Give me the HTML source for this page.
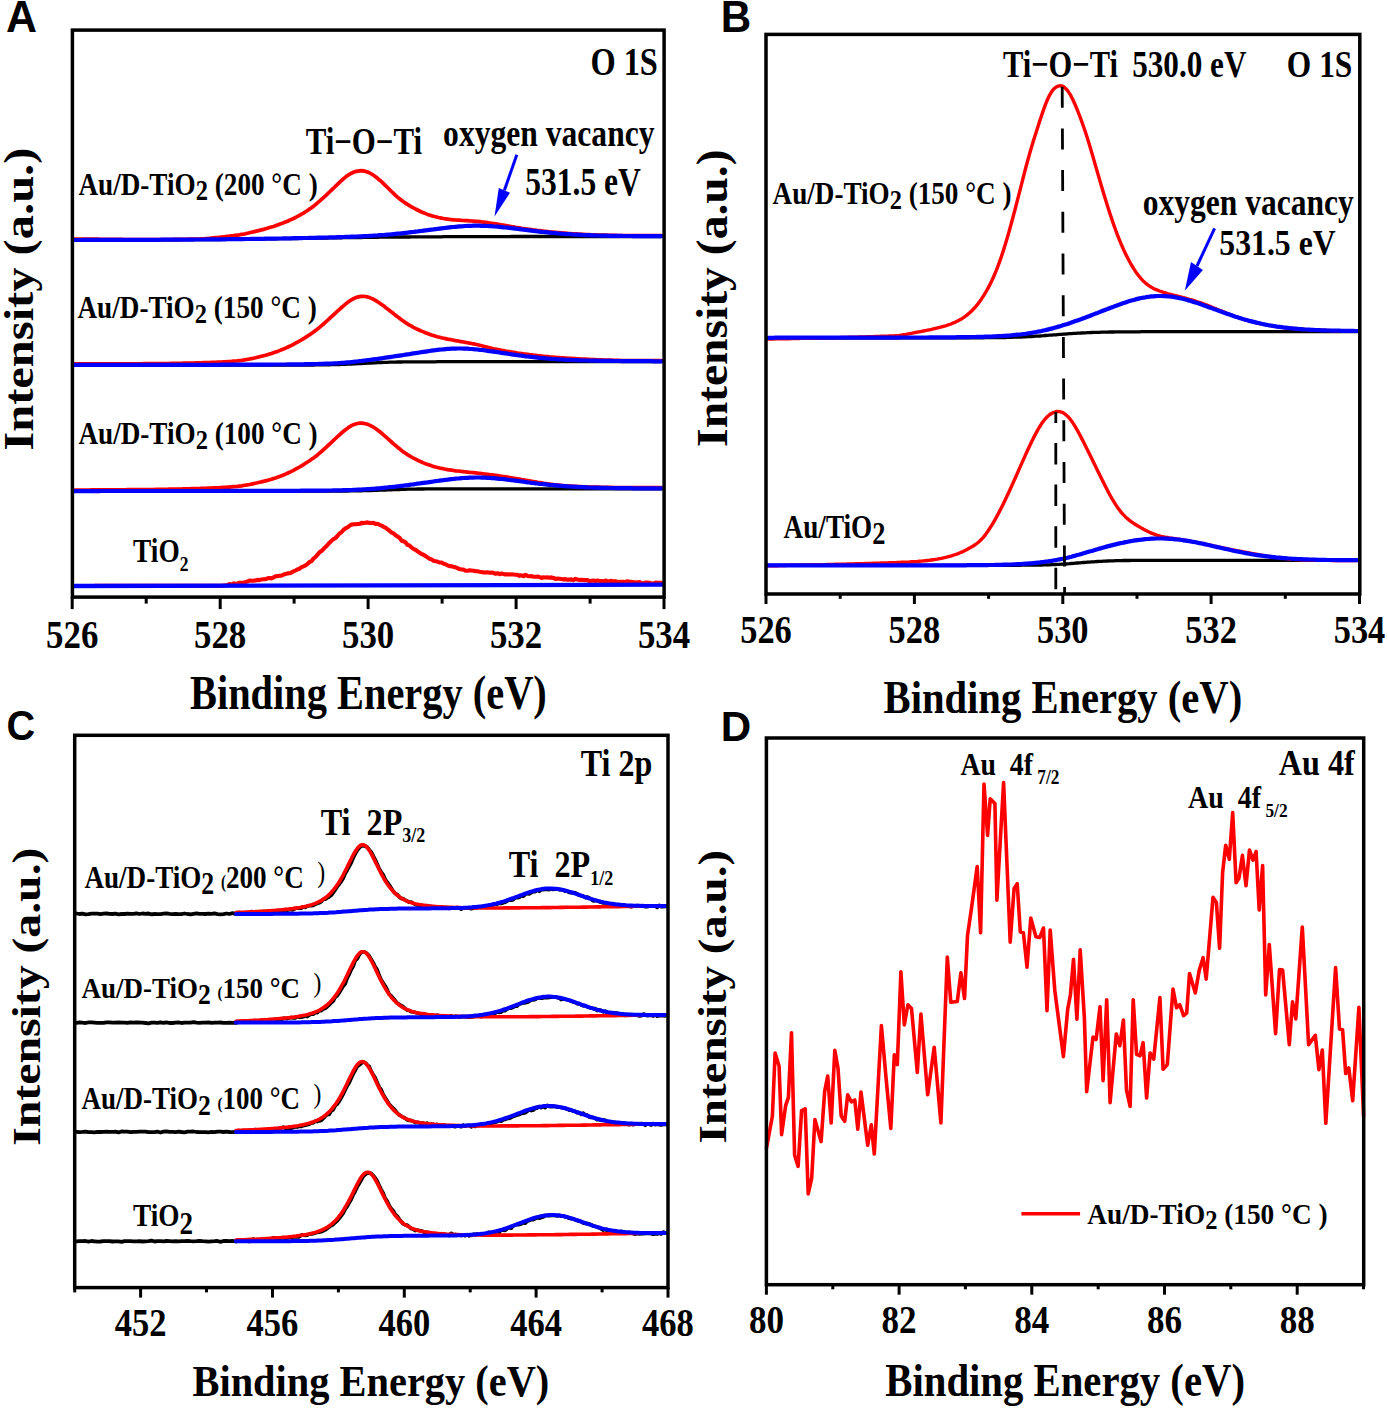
<!DOCTYPE html>
<html><head><meta charset="utf-8"><title>XPS spectra</title><style>html,body{margin:0;padding:0;background:#fff;width:1388px;height:1411px;overflow:hidden}svg{display:block}</style></head><body><svg width="1388" height="1411" viewBox="0 0 1388 1411"><rect width="1388" height="1411" fill="#fff"/><path d="M73.5 240.0 L75.5 240.0 L77.5 240.0 L79.5 240.0 L81.5 240.0 L83.5 240.0 L85.5 240.0 L87.5 240.0 L89.5 240.0 L91.5 240.0 L93.5 240.0 L95.5 240.0 L97.5 240.0 L99.5 240.0 L101.5 240.0 L103.5 240.0 L105.5 240.0 L107.5 240.0 L109.5 240.0 L111.5 240.0 L113.5 240.0 L115.5 240.0 L117.5 240.0 L119.5 240.0 L121.5 240.0 L123.5 240.0 L125.5 239.9 L127.5 239.9 L129.5 239.9 L131.5 239.9 L133.5 239.9 L135.5 239.9 L137.5 239.9 L139.5 239.9 L141.5 239.9 L143.5 239.9 L145.5 239.9 L147.5 239.9 L149.5 239.9 L151.5 239.9 L153.5 239.9 L155.5 239.9 L157.5 239.9 L159.5 239.8 L161.5 239.8 L163.5 239.8 L165.5 239.8 L167.5 239.8 L169.5 239.8 L171.5 239.8 L173.5 239.8 L175.5 239.8 L177.5 239.8 L179.5 239.8 L181.5 239.7 L183.5 239.7 L185.5 239.7 L187.5 239.7 L189.5 239.7 L191.5 239.7 L193.5 239.7 L195.5 239.7 L197.5 239.7 L199.5 239.6 L201.5 239.6 L203.5 239.6 L205.5 239.6 L207.5 239.6 L209.5 239.6 L211.5 239.5 L213.5 239.5 L215.5 239.5 L217.5 239.5 L219.5 239.5 L221.5 239.5 L223.5 239.4 L225.5 239.4 L227.5 239.4 L229.5 239.4 L231.5 239.4 L233.5 239.3 L235.5 239.3 L237.5 239.3 L239.5 239.3 L241.5 239.3 L243.5 239.2 L245.5 239.2 L247.5 239.2 L249.5 239.2 L251.5 239.1 L253.5 239.1 L255.5 239.1 L257.5 239.1 L259.5 239.0 L261.5 239.0 L263.5 239.0 L265.5 238.9 L267.5 238.9 L269.5 238.9 L271.5 238.9 L273.5 238.8 L275.5 238.8 L277.5 238.8 L279.5 238.7 L281.5 238.7 L283.5 238.7 L285.5 238.6 L287.5 238.6 L289.5 238.6 L291.5 238.6 L293.5 238.5 L295.5 238.5 L297.5 238.5 L299.5 238.4 L301.5 238.4 L303.5 238.4 L305.5 238.3 L307.5 238.3 L309.5 238.3 L311.5 238.2 L313.5 238.2 L315.5 238.2 L317.5 238.1 L319.5 238.1 L321.5 238.1 L323.5 238.0 L325.5 238.0 L327.5 238.0 L329.5 237.9 L331.5 237.9 L333.5 237.9 L335.5 237.8 L337.5 237.8 L339.5 237.8 L341.5 237.8 L343.5 237.7 L345.5 237.7 L347.5 237.7 L349.5 237.6 L351.5 237.6 L353.5 237.6 L355.5 237.5 L357.5 237.5 L359.5 237.5 L361.5 237.5 L363.5 237.4 L365.5 237.4 L367.5 237.4 L369.5 237.4 L371.5 237.3 L373.5 237.3 L375.5 237.3 L377.5 237.3 L379.5 237.2 L381.5 237.2 L383.5 237.2 L385.5 237.2 L387.5 237.2 L389.5 237.1 L391.5 237.1 L393.5 237.1 L395.5 237.1 L397.5 237.1 L399.5 237.0 L401.5 237.0 L403.5 237.0 L405.5 237.0 L407.5 237.0 L409.5 237.0 L411.5 236.9 L413.5 236.9 L415.5 236.9 L417.5 236.9 L419.5 236.9 L421.5 236.9 L423.5 236.9 L425.5 236.8 L427.5 236.8 L429.5 236.8 L431.5 236.8 L433.5 236.8 L435.5 236.8 L437.5 236.8 L439.5 236.8 L441.5 236.8 L443.5 236.7 L445.5 236.7 L447.5 236.7 L449.5 236.7 L451.5 236.7 L453.5 236.7 L455.5 236.7 L457.5 236.7 L459.5 236.7 L461.5 236.7 L463.5 236.7 L465.5 236.7 L467.5 236.7 L469.5 236.6 L471.5 236.6 L473.5 236.6 L475.5 236.6 L477.5 236.6 L479.5 236.6 L481.5 236.6 L483.5 236.6 L485.5 236.6 L487.5 236.6 L489.5 236.6 L491.5 236.6 L493.5 236.6 L495.5 236.6 L497.5 236.6 L499.5 236.6 L501.5 236.6 L503.5 236.6 L505.5 236.6 L507.5 236.6 L509.5 236.6 L511.5 236.5 L513.5 236.5 L515.5 236.5 L517.5 236.5 L519.5 236.5 L521.5 236.5 L523.5 236.5 L525.5 236.5 L527.5 236.5 L529.5 236.5 L531.5 236.5 L533.5 236.5 L535.5 236.5 L537.5 236.5 L539.5 236.5 L541.5 236.5 L543.5 236.5 L545.5 236.5 L547.5 236.5 L549.5 236.5 L551.5 236.5 L553.5 236.5 L555.5 236.5 L557.5 236.5 L559.5 236.5 L561.5 236.5 L563.5 236.5 L565.5 236.5 L567.5 236.5 L569.5 236.5 L571.5 236.5 L573.5 236.5 L575.5 236.5 L577.5 236.5 L579.5 236.5 L581.5 236.5 L583.5 236.5 L585.5 236.5 L587.5 236.5 L589.5 236.5 L591.5 236.5 L593.5 236.5 L595.5 236.5 L597.5 236.5 L599.5 236.5 L601.5 236.5 L603.5 236.5 L605.5 236.5 L607.5 236.5 L609.5 236.5 L611.5 236.5 L613.5 236.5 L615.5 236.5 L617.5 236.5 L619.5 236.5 L621.5 236.5 L623.5 236.5 L625.5 236.5 L627.5 236.5 L629.5 236.5 L631.5 236.5 L633.5 236.5 L635.5 236.5 L637.5 236.5 L639.5 236.5 L641.5 236.5 L643.5 236.5 L645.5 236.5 L647.5 236.5 L649.5 236.5 L651.5 236.5 L653.5 236.5 L655.5 236.5 L657.5 236.5 L659.5 236.5 L661.5 236.5" fill="none" stroke="#000000" stroke-width="3.30" stroke-linejoin="round" stroke-linecap="round"/><path d="M73.5 239.0 L75.5 239.0 L77.5 239.0 L79.5 239.1 L81.5 239.1 L83.5 239.1 L85.5 239.1 L87.5 239.1 L89.5 239.2 L91.5 239.2 L93.5 239.2 L95.5 239.2 L97.5 239.2 L99.5 239.3 L101.5 239.3 L103.5 239.3 L105.5 239.3 L107.5 239.3 L109.5 239.4 L111.5 239.4 L113.5 239.4 L115.5 239.4 L117.5 239.4 L119.5 239.4 L121.5 239.4 L123.5 239.5 L125.5 239.5 L127.5 239.5 L129.5 239.5 L131.5 239.5 L133.5 239.5 L135.5 239.5 L137.5 239.5 L139.5 239.5 L141.5 239.5 L143.5 239.5 L145.5 239.5 L147.5 239.5 L149.5 239.5 L151.5 239.5 L153.5 239.5 L155.5 239.5 L157.5 239.5 L159.5 239.5 L161.5 239.5 L163.5 239.5 L165.5 239.5 L167.5 239.5 L169.5 239.5 L171.5 239.5 L173.5 239.4 L175.5 239.4 L177.5 239.4 L179.5 239.4 L181.5 239.4 L183.5 239.3 L185.5 239.3 L187.5 239.3 L189.5 239.2 L191.5 239.2 L193.5 239.2 L195.5 239.1 L197.5 239.1 L199.5 239.0 L201.5 238.9 L203.5 238.8 L205.5 238.6 L207.5 238.5 L209.5 238.3 L211.5 238.1 L213.5 237.9 L215.5 237.7 L217.5 237.5 L219.5 237.3 L221.5 237.1 L223.5 236.9 L225.5 236.7 L227.5 236.4 L229.5 236.2 L231.5 235.9 L233.5 235.7 L235.5 235.4 L237.5 235.1 L239.5 234.8 L241.5 234.4 L243.5 234.1 L245.5 233.7 L247.5 233.2 L249.5 232.8 L251.5 232.3 L253.5 231.9 L255.5 231.4 L257.5 230.9 L259.5 230.4 L261.5 229.9 L263.5 229.4 L265.5 228.8 L267.5 228.2 L269.5 227.6 L271.5 227.0 L273.5 226.4 L275.5 225.7 L277.5 225.0 L279.5 224.3 L281.5 223.6 L283.5 222.8 L285.5 222.0 L287.5 221.2 L289.5 220.3 L291.5 219.4 L293.5 218.5 L295.5 217.5 L297.5 216.4 L299.5 215.4 L301.5 214.2 L303.5 213.1 L305.5 211.8 L307.5 210.5 L309.5 209.1 L311.5 207.7 L313.5 206.2 L315.5 204.6 L317.5 202.9 L319.5 201.2 L321.5 199.4 L323.5 197.6 L325.5 195.8 L327.5 193.9 L329.5 192.0 L331.5 190.1 L333.5 188.2 L335.5 186.2 L337.5 184.3 L339.5 182.4 L341.5 180.5 L343.5 178.7 L345.5 177.1 L347.5 175.6 L349.5 174.3 L351.5 173.2 L353.5 172.3 L355.5 171.6 L357.5 171.1 L359.5 170.8 L361.5 170.7 L363.5 170.9 L365.5 171.4 L367.5 172.0 L369.5 172.9 L371.5 174.0 L373.5 175.3 L375.5 176.7 L377.5 178.3 L379.5 180.0 L381.5 181.7 L383.5 183.6 L385.5 185.6 L387.5 187.5 L389.5 189.5 L391.5 191.5 L393.5 193.4 L395.5 195.3 L397.5 197.1 L399.5 198.7 L401.5 200.3 L403.5 201.8 L405.5 203.1 L407.5 204.4 L409.5 205.6 L411.5 206.8 L413.5 207.9 L415.5 209.0 L417.5 210.0 L419.5 211.0 L421.5 212.0 L423.5 212.8 L425.5 213.6 L427.5 214.4 L429.5 215.1 L431.5 215.7 L433.5 216.3 L435.5 216.8 L437.5 217.3 L439.5 217.7 L441.5 218.1 L443.5 218.5 L445.5 218.8 L447.5 219.1 L449.5 219.4 L451.5 219.6 L453.5 219.8 L455.5 220.0 L457.5 220.1 L459.5 220.2 L461.5 220.4 L463.5 220.5 L465.5 220.6 L467.5 220.7 L469.5 220.8 L471.5 221.0 L473.5 221.1 L475.5 221.3 L477.5 221.4 L479.5 221.6 L481.5 221.9 L483.5 222.1 L485.5 222.4 L487.5 222.7 L489.5 223.0 L491.5 223.3 L493.5 223.6 L495.5 223.9 L497.5 224.2 L499.5 224.5 L501.5 224.9 L503.5 225.2 L505.5 225.5 L507.5 225.9 L509.5 226.2 L511.5 226.6 L513.5 226.9 L515.5 227.3 L517.5 227.6 L519.5 227.9 L521.5 228.3 L523.5 228.6 L525.5 228.9 L527.5 229.2 L529.5 229.4 L531.5 229.7 L533.5 230.0 L535.5 230.2 L537.5 230.5 L539.5 230.7 L541.5 230.9 L543.5 231.2 L545.5 231.4 L547.5 231.6 L549.5 231.8 L551.5 232.0 L553.5 232.2 L555.5 232.4 L557.5 232.6 L559.5 232.7 L561.5 232.9 L563.5 233.1 L565.5 233.2 L567.5 233.4 L569.5 233.5 L571.5 233.7 L573.5 233.8 L575.5 233.9 L577.5 234.1 L579.5 234.2 L581.5 234.3 L583.5 234.4 L585.5 234.5 L587.5 234.6 L589.5 234.7 L591.5 234.8 L593.5 234.8 L595.5 234.9 L597.5 235.0 L599.5 235.0 L601.5 235.1 L603.5 235.2 L605.5 235.2 L607.5 235.3 L609.5 235.3 L611.5 235.3 L613.5 235.4 L615.5 235.4 L617.5 235.5 L619.5 235.5 L621.5 235.5 L623.5 235.5 L625.5 235.5 L627.5 235.5 L629.5 235.5 L631.5 235.5 L633.5 235.6 L635.5 235.6 L637.5 235.6 L639.5 235.6 L641.5 235.6 L643.5 235.6 L645.5 235.5 L647.5 235.5 L649.5 235.5 L651.5 235.5 L653.5 235.5 L655.5 235.5 L657.5 235.5 L659.5 235.5 L661.5 235.5" fill="none" stroke="#ff0000" stroke-width="3.70" stroke-linejoin="round" stroke-linecap="round"/><path d="M73.5 240.0 L75.5 240.0 L77.5 240.0 L79.5 240.0 L81.5 240.0 L83.5 239.9 L85.5 239.9 L87.5 239.9 L89.5 239.9 L91.5 239.9 L93.5 239.9 L95.5 239.9 L97.5 239.9 L99.5 239.9 L101.5 239.9 L103.5 239.9 L105.5 239.9 L107.5 239.9 L109.5 239.9 L111.5 239.9 L113.5 239.9 L115.5 239.9 L117.5 239.9 L119.5 239.9 L121.5 239.9 L123.5 239.9 L125.5 239.9 L127.5 239.9 L129.5 239.9 L131.5 239.9 L133.5 239.8 L135.5 239.8 L137.5 239.8 L139.5 239.8 L141.5 239.8 L143.5 239.8 L145.5 239.8 L147.5 239.8 L149.5 239.8 L151.5 239.8 L153.5 239.8 L155.5 239.8 L157.5 239.8 L159.5 239.8 L161.5 239.7 L163.5 239.7 L165.5 239.7 L167.5 239.7 L169.5 239.7 L171.5 239.7 L173.5 239.7 L175.5 239.7 L177.5 239.7 L179.5 239.6 L181.5 239.6 L183.5 239.6 L185.5 239.6 L187.5 239.6 L189.5 239.6 L191.5 239.6 L193.5 239.6 L195.5 239.5 L197.5 239.5 L199.5 239.5 L201.5 239.5 L203.5 239.5 L205.5 239.5 L207.5 239.4 L209.5 239.4 L211.5 239.4 L213.5 239.4 L215.5 239.4 L217.5 239.4 L219.5 239.3 L221.5 239.3 L223.5 239.3 L225.5 239.3 L227.5 239.2 L229.5 239.2 L231.5 239.2 L233.5 239.2 L235.5 239.2 L237.5 239.1 L239.5 239.1 L241.5 239.1 L243.5 239.1 L245.5 239.0 L247.5 239.0 L249.5 239.0 L251.5 238.9 L253.5 238.9 L255.5 238.9 L257.5 238.9 L259.5 238.8 L261.5 238.8 L263.5 238.8 L265.5 238.7 L267.5 238.7 L269.5 238.7 L271.5 238.6 L273.5 238.6 L275.5 238.6 L277.5 238.5 L279.5 238.5 L281.5 238.5 L283.5 238.4 L285.5 238.4 L287.5 238.4 L289.5 238.3 L291.5 238.3 L293.5 238.2 L295.5 238.2 L297.5 238.2 L299.5 238.1 L301.5 238.1 L303.5 238.0 L305.5 238.0 L307.5 238.0 L309.5 237.9 L311.5 237.9 L313.5 237.8 L315.5 237.8 L317.5 237.7 L319.5 237.7 L321.5 237.6 L323.5 237.6 L325.5 237.5 L327.5 237.5 L329.5 237.4 L331.5 237.4 L333.5 237.3 L335.5 237.3 L337.5 237.2 L339.5 237.1 L341.5 237.1 L343.5 237.0 L345.5 236.9 L347.5 236.9 L349.5 236.8 L351.5 236.7 L353.5 236.6 L355.5 236.6 L357.5 236.5 L359.5 236.4 L361.5 236.3 L363.5 236.2 L365.5 236.1 L367.5 236.0 L369.5 235.9 L371.5 235.8 L373.5 235.6 L375.5 235.5 L377.5 235.4 L379.5 235.2 L381.5 235.1 L383.5 235.0 L385.5 234.8 L387.5 234.6 L389.5 234.5 L391.5 234.3 L393.5 234.1 L395.5 233.9 L397.5 233.7 L399.5 233.5 L401.5 233.3 L403.5 233.1 L405.5 232.9 L407.5 232.7 L409.5 232.4 L411.5 232.2 L413.5 232.0 L415.5 231.7 L417.5 231.5 L419.5 231.2 L421.5 231.0 L423.5 230.7 L425.5 230.4 L427.5 230.2 L429.5 229.9 L431.5 229.6 L433.5 229.4 L435.5 229.1 L437.5 228.9 L439.5 228.6 L441.5 228.3 L443.5 228.1 L445.5 227.9 L447.5 227.6 L449.5 227.4 L451.5 227.2 L453.5 227.0 L455.5 226.8 L457.5 226.6 L459.5 226.4 L461.5 226.3 L463.5 226.2 L465.5 226.0 L467.5 225.9 L469.5 225.9 L471.5 225.8 L473.5 225.7 L475.5 225.7 L477.5 225.7 L479.5 225.7 L481.5 225.8 L483.5 225.8 L485.5 225.9 L487.5 226.0 L489.5 226.1 L491.5 226.2 L493.5 226.4 L495.5 226.5 L497.5 226.7 L499.5 226.9 L501.5 227.1 L503.5 227.3 L505.5 227.5 L507.5 227.7 L509.5 227.9 L511.5 228.2 L513.5 228.4 L515.5 228.6 L517.5 228.9 L519.5 229.1 L521.5 229.4 L523.5 229.6 L525.5 229.9 L527.5 230.1 L529.5 230.4 L531.5 230.6 L533.5 230.9 L535.5 231.1 L537.5 231.3 L539.5 231.6 L541.5 231.8 L543.5 232.0 L545.5 232.2 L547.5 232.4 L549.5 232.6 L551.5 232.8 L553.5 233.0 L555.5 233.2 L557.5 233.4 L559.5 233.5 L561.5 233.7 L563.5 233.8 L565.5 234.0 L567.5 234.1 L569.5 234.2 L571.5 234.4 L573.5 234.5 L575.5 234.6 L577.5 234.7 L579.5 234.8 L581.5 234.9 L583.5 235.0 L585.5 235.1 L587.5 235.2 L589.5 235.2 L591.5 235.3 L593.5 235.4 L595.5 235.4 L597.5 235.5 L599.5 235.5 L601.5 235.6 L603.5 235.6 L605.5 235.7 L607.5 235.7 L609.5 235.8 L611.5 235.8 L613.5 235.8 L615.5 235.9 L617.5 235.9 L619.5 235.9 L621.5 235.9 L623.5 236.0 L625.5 236.0 L627.5 236.0 L629.5 236.0 L631.5 236.0 L633.5 236.1 L635.5 236.1 L637.5 236.1 L639.5 236.1 L641.5 236.1 L643.5 236.1 L645.5 236.1 L647.5 236.1 L649.5 236.1 L651.5 236.2 L653.5 236.2 L655.5 236.2 L657.5 236.2 L659.5 236.2 L661.5 236.2" fill="none" stroke="#0000ff" stroke-width="4.20" stroke-linejoin="round" stroke-linecap="round"/><path d="M73.5 365.1 L75.5 365.1 L77.5 365.1 L79.5 365.1 L81.5 365.1 L83.5 365.1 L85.5 365.1 L87.5 365.1 L89.5 365.1 L91.5 365.1 L93.5 365.1 L95.5 365.1 L97.5 365.1 L99.5 365.1 L101.5 365.1 L103.5 365.1 L105.5 365.1 L107.5 365.1 L109.5 365.1 L111.5 365.1 L113.5 365.1 L115.5 365.1 L117.5 365.1 L119.5 365.1 L121.5 365.1 L123.5 365.1 L125.5 365.1 L127.5 365.1 L129.5 365.1 L131.5 365.1 L133.5 365.1 L135.5 365.1 L137.5 365.1 L139.5 365.1 L141.5 365.1 L143.5 365.1 L145.5 365.1 L147.5 365.1 L149.5 365.1 L151.5 365.1 L153.5 365.1 L155.5 365.1 L157.5 365.1 L159.5 365.1 L161.5 365.1 L163.5 365.1 L165.5 365.1 L167.5 365.1 L169.5 365.1 L171.5 365.1 L173.5 365.1 L175.5 365.1 L177.5 365.1 L179.5 365.1 L181.5 365.1 L183.5 365.1 L185.5 365.1 L187.5 365.1 L189.5 365.1 L191.5 365.1 L193.5 365.1 L195.5 365.1 L197.5 365.1 L199.5 365.1 L201.5 365.1 L203.5 365.1 L205.5 365.1 L207.5 365.1 L209.5 365.1 L211.5 365.1 L213.5 365.1 L215.5 365.1 L217.5 365.1 L219.5 365.1 L221.5 365.1 L223.5 365.1 L225.5 365.1 L227.5 365.1 L229.5 365.1 L231.5 365.1 L233.5 365.1 L235.5 365.1 L237.5 365.1 L239.5 365.1 L241.5 365.1 L243.5 365.1 L245.5 365.1 L247.5 365.1 L249.5 365.1 L251.5 365.1 L253.5 365.1 L255.5 365.1 L257.5 365.1 L259.5 365.1 L261.5 365.1 L263.5 365.1 L265.5 365.1 L267.5 365.1 L269.5 365.1 L271.5 365.1 L273.5 365.1 L275.5 365.1 L277.5 365.1 L279.5 365.1 L281.5 365.1 L283.5 365.0 L285.5 365.0 L287.5 365.0 L289.5 365.0 L291.5 365.0 L293.5 365.0 L295.5 365.0 L297.5 365.0 L299.5 365.0 L301.5 365.0 L303.5 365.0 L305.5 365.0 L307.5 365.0 L309.5 365.0 L311.5 365.0 L313.5 365.0 L315.5 364.9 L317.5 364.9 L319.5 364.9 L321.5 364.9 L323.5 364.9 L325.5 364.8 L327.5 364.8 L329.5 364.8 L331.5 364.7 L333.5 364.7 L335.5 364.6 L337.5 364.6 L339.5 364.5 L341.5 364.4 L343.5 364.4 L345.5 364.3 L347.5 364.2 L349.5 364.1 L351.5 364.0 L353.5 363.9 L355.5 363.8 L357.5 363.7 L359.5 363.6 L361.5 363.5 L363.5 363.4 L365.5 363.3 L367.5 363.2 L369.5 363.1 L371.5 363.0 L373.5 362.9 L375.5 362.8 L377.5 362.7 L379.5 362.6 L381.5 362.5 L383.5 362.4 L385.5 362.4 L387.5 362.3 L389.5 362.2 L391.5 362.2 L393.5 362.1 L395.5 362.1 L397.5 362.0 L399.5 362.0 L401.5 362.0 L403.5 361.9 L405.5 361.9 L407.5 361.9 L409.5 361.9 L411.5 361.9 L413.5 361.8 L415.5 361.8 L417.5 361.8 L419.5 361.8 L421.5 361.8 L423.5 361.8 L425.5 361.8 L427.5 361.8 L429.5 361.8 L431.5 361.8 L433.5 361.8 L435.5 361.8 L437.5 361.7 L439.5 361.7 L441.5 361.7 L443.5 361.7 L445.5 361.7 L447.5 361.7 L449.5 361.7 L451.5 361.7 L453.5 361.7 L455.5 361.7 L457.5 361.7 L459.5 361.7 L461.5 361.7 L463.5 361.7 L465.5 361.7 L467.5 361.7 L469.5 361.7 L471.5 361.7 L473.5 361.7 L475.5 361.7 L477.5 361.7 L479.5 361.7 L481.5 361.7 L483.5 361.7 L485.5 361.7 L487.5 361.7 L489.5 361.7 L491.5 361.7 L493.5 361.7 L495.5 361.7 L497.5 361.7 L499.5 361.7 L501.5 361.7 L503.5 361.7 L505.5 361.7 L507.5 361.7 L509.5 361.7 L511.5 361.7 L513.5 361.7 L515.5 361.7 L517.5 361.7 L519.5 361.7 L521.5 361.7 L523.5 361.7 L525.5 361.7 L527.5 361.7 L529.5 361.7 L531.5 361.7 L533.5 361.7 L535.5 361.7 L537.5 361.7 L539.5 361.7 L541.5 361.7 L543.5 361.7 L545.5 361.7 L547.5 361.7 L549.5 361.7 L551.5 361.7 L553.5 361.7 L555.5 361.7 L557.5 361.7 L559.5 361.7 L561.5 361.7 L563.5 361.7 L565.5 361.7 L567.5 361.7 L569.5 361.7 L571.5 361.7 L573.5 361.7 L575.5 361.7 L577.5 361.7 L579.5 361.7 L581.5 361.7 L583.5 361.7 L585.5 361.7 L587.5 361.7 L589.5 361.7 L591.5 361.7 L593.5 361.7 L595.5 361.7 L597.5 361.7 L599.5 361.7 L601.5 361.7 L603.5 361.7 L605.5 361.7 L607.5 361.7 L609.5 361.7 L611.5 361.7 L613.5 361.7 L615.5 361.7 L617.5 361.7 L619.5 361.7 L621.5 361.7 L623.5 361.7 L625.5 361.7 L627.5 361.7 L629.5 361.7 L631.5 361.7 L633.5 361.7 L635.5 361.7 L637.5 361.7 L639.5 361.7 L641.5 361.7 L643.5 361.7 L645.5 361.7 L647.5 361.7 L649.5 361.7 L651.5 361.7 L653.5 361.7 L655.5 361.7 L657.5 361.7 L659.5 361.7 L661.5 361.7" fill="none" stroke="#000000" stroke-width="3.30" stroke-linejoin="round" stroke-linecap="round"/><path d="M73.5 364.0 L75.5 363.9 L77.5 363.9 L79.5 363.9 L81.5 363.9 L83.5 363.9 L85.5 363.9 L87.5 363.9 L89.5 363.9 L91.5 363.9 L93.5 363.9 L95.5 363.9 L97.5 363.9 L99.5 363.9 L101.5 363.9 L103.5 363.9 L105.5 363.9 L107.5 363.9 L109.5 363.9 L111.5 363.9 L113.5 363.9 L115.5 363.9 L117.5 363.9 L119.5 363.9 L121.5 363.9 L123.5 363.9 L125.5 363.9 L127.5 363.8 L129.5 363.8 L131.5 363.8 L133.5 363.8 L135.5 363.8 L137.5 363.8 L139.5 363.8 L141.5 363.8 L143.5 363.7 L145.5 363.7 L147.5 363.7 L149.5 363.7 L151.5 363.7 L153.5 363.7 L155.5 363.6 L157.5 363.6 L159.5 363.6 L161.5 363.6 L163.5 363.5 L165.5 363.5 L167.5 363.5 L169.5 363.5 L171.5 363.4 L173.5 363.4 L175.5 363.4 L177.5 363.3 L179.5 363.3 L181.5 363.3 L183.5 363.2 L185.5 363.2 L187.5 363.1 L189.5 363.1 L191.5 363.0 L193.5 363.0 L195.5 362.9 L197.5 362.9 L199.5 362.8 L201.5 362.8 L203.5 362.7 L205.5 362.6 L207.5 362.6 L209.5 362.5 L211.5 362.4 L213.5 362.3 L215.5 362.3 L217.5 362.2 L219.5 362.1 L221.5 362.0 L223.5 361.9 L225.5 361.8 L227.5 361.6 L229.5 361.5 L231.5 361.4 L233.5 361.2 L235.5 361.0 L237.5 360.9 L239.5 360.6 L241.5 360.4 L243.5 360.1 L245.5 359.7 L247.5 359.4 L249.5 359.0 L251.5 358.6 L253.5 358.2 L255.5 357.8 L257.5 357.3 L259.5 356.8 L261.5 356.3 L263.5 355.8 L265.5 355.3 L267.5 354.7 L269.5 354.1 L271.5 353.5 L273.5 352.8 L275.5 352.1 L277.5 351.4 L279.5 350.6 L281.5 349.8 L283.5 349.0 L285.5 348.1 L287.5 347.2 L289.5 346.3 L291.5 345.3 L293.5 344.3 L295.5 343.2 L297.5 342.2 L299.5 341.0 L301.5 339.9 L303.5 338.7 L305.5 337.4 L307.5 336.1 L309.5 334.8 L311.5 333.4 L313.5 332.0 L315.5 330.5 L317.5 329.0 L319.5 327.4 L321.5 325.7 L323.5 324.0 L325.5 322.2 L327.5 320.4 L329.5 318.5 L331.5 316.7 L333.5 314.8 L335.5 313.0 L337.5 311.1 L339.5 309.3 L341.5 307.5 L343.5 305.8 L345.5 304.1 L347.5 302.5 L349.5 301.1 L351.5 299.8 L353.5 298.7 L355.5 297.8 L357.5 297.1 L359.5 296.6 L361.5 296.4 L363.5 296.3 L365.5 296.5 L367.5 296.9 L369.5 297.6 L371.5 298.4 L373.5 299.3 L375.5 300.4 L377.5 301.7 L379.5 303.0 L381.5 304.4 L383.5 305.8 L385.5 307.4 L387.5 308.9 L389.5 310.5 L391.5 312.1 L393.5 313.6 L395.5 315.2 L397.5 316.8 L399.5 318.3 L401.5 319.8 L403.5 321.2 L405.5 322.6 L407.5 323.9 L409.5 325.1 L411.5 326.2 L413.5 327.3 L415.5 328.3 L417.5 329.3 L419.5 330.2 L421.5 331.1 L423.5 331.9 L425.5 332.7 L427.5 333.5 L429.5 334.3 L431.5 335.0 L433.5 335.6 L435.5 336.2 L437.5 336.8 L439.5 337.3 L441.5 337.8 L443.5 338.2 L445.5 338.6 L447.5 339.1 L449.5 339.4 L451.5 339.8 L453.5 340.2 L455.5 340.6 L457.5 340.9 L459.5 341.3 L461.5 341.6 L463.5 342.0 L465.5 342.4 L467.5 342.7 L469.5 343.1 L471.5 343.5 L473.5 343.9 L475.5 344.3 L477.5 344.7 L479.5 345.2 L481.5 345.7 L483.5 346.2 L485.5 346.7 L487.5 347.2 L489.5 347.7 L491.5 348.2 L493.5 348.7 L495.5 349.1 L497.5 349.5 L499.5 349.9 L501.5 350.3 L503.5 350.6 L505.5 351.0 L507.5 351.3 L509.5 351.7 L511.5 352.0 L513.5 352.3 L515.5 352.6 L517.5 353.0 L519.5 353.3 L521.5 353.6 L523.5 353.9 L525.5 354.1 L527.5 354.4 L529.5 354.7 L531.5 354.9 L533.5 355.2 L535.5 355.4 L537.5 355.7 L539.5 355.9 L541.5 356.1 L543.5 356.3 L545.5 356.5 L547.5 356.7 L549.5 356.9 L551.5 357.0 L553.5 357.2 L555.5 357.3 L557.5 357.5 L559.5 357.6 L561.5 357.8 L563.5 357.9 L565.5 358.0 L567.5 358.2 L569.5 358.3 L571.5 358.4 L573.5 358.6 L575.5 358.7 L577.5 358.8 L579.5 358.9 L581.5 359.0 L583.5 359.1 L585.5 359.2 L587.5 359.3 L589.5 359.4 L591.5 359.5 L593.5 359.6 L595.5 359.7 L597.5 359.8 L599.5 359.8 L601.5 359.9 L603.5 360.0 L605.5 360.1 L607.5 360.1 L609.5 360.2 L611.5 360.2 L613.5 360.3 L615.5 360.4 L617.5 360.4 L619.5 360.4 L621.5 360.5 L623.5 360.5 L625.5 360.5 L627.5 360.5 L629.5 360.5 L631.5 360.5 L633.5 360.6 L635.5 360.6 L637.5 360.6 L639.5 360.6 L641.5 360.6 L643.5 360.6 L645.5 360.6 L647.5 360.6 L649.5 360.6 L651.5 360.6 L653.5 360.6 L655.5 360.6 L657.5 360.5 L659.5 360.5 L661.5 360.5" fill="none" stroke="#ff0000" stroke-width="3.70" stroke-linejoin="round" stroke-linecap="round"/><path d="M73.5 364.9 L75.5 364.9 L77.5 364.9 L79.5 364.9 L81.5 364.9 L83.5 364.9 L85.5 364.9 L87.5 364.9 L89.5 364.9 L91.5 364.9 L93.5 364.9 L95.5 364.9 L97.5 364.9 L99.5 364.9 L101.5 364.9 L103.5 364.9 L105.5 364.9 L107.5 364.9 L109.5 364.9 L111.5 364.9 L113.5 364.9 L115.5 364.9 L117.5 364.9 L119.5 364.9 L121.5 364.9 L123.5 364.9 L125.5 364.9 L127.5 364.9 L129.5 364.9 L131.5 364.9 L133.5 364.9 L135.5 364.9 L137.5 364.9 L139.5 364.9 L141.5 364.9 L143.5 364.9 L145.5 364.9 L147.5 364.9 L149.5 364.9 L151.5 364.9 L153.5 364.9 L155.5 364.9 L157.5 364.9 L159.5 364.9 L161.5 364.9 L163.5 364.9 L165.5 364.9 L167.5 364.8 L169.5 364.8 L171.5 364.8 L173.5 364.8 L175.5 364.8 L177.5 364.8 L179.5 364.8 L181.5 364.8 L183.5 364.8 L185.5 364.8 L187.5 364.8 L189.5 364.8 L191.5 364.8 L193.5 364.8 L195.5 364.8 L197.5 364.8 L199.5 364.8 L201.5 364.8 L203.5 364.8 L205.5 364.8 L207.5 364.8 L209.5 364.8 L211.5 364.8 L213.5 364.8 L215.5 364.8 L217.5 364.8 L219.5 364.8 L221.5 364.7 L223.5 364.7 L225.5 364.7 L227.5 364.7 L229.5 364.7 L231.5 364.7 L233.5 364.7 L235.5 364.7 L237.5 364.7 L239.5 364.7 L241.5 364.7 L243.5 364.7 L245.5 364.7 L247.5 364.7 L249.5 364.7 L251.5 364.7 L253.5 364.6 L255.5 364.6 L257.5 364.6 L259.5 364.6 L261.5 364.6 L263.5 364.6 L265.5 364.6 L267.5 364.6 L269.5 364.6 L271.5 364.6 L273.5 364.5 L275.5 364.5 L277.5 364.5 L279.5 364.5 L281.5 364.5 L283.5 364.5 L285.5 364.5 L287.5 364.4 L289.5 364.4 L291.5 364.4 L293.5 364.4 L295.5 364.4 L297.5 364.3 L299.5 364.3 L301.5 364.3 L303.5 364.3 L305.5 364.2 L307.5 364.2 L309.5 364.2 L311.5 364.1 L313.5 364.1 L315.5 364.0 L317.5 364.0 L319.5 363.9 L321.5 363.9 L323.5 363.8 L325.5 363.7 L327.5 363.7 L329.5 363.6 L331.5 363.5 L333.5 363.4 L335.5 363.3 L337.5 363.2 L339.5 363.0 L341.5 362.9 L343.5 362.8 L345.5 362.6 L347.5 362.4 L349.5 362.3 L351.5 362.1 L353.5 361.9 L355.5 361.7 L357.5 361.5 L359.5 361.2 L361.5 361.0 L363.5 360.7 L365.5 360.5 L367.5 360.2 L369.5 360.0 L371.5 359.7 L373.5 359.4 L375.5 359.1 L377.5 358.9 L379.5 358.6 L381.5 358.3 L383.5 358.0 L385.5 357.7 L387.5 357.4 L389.5 357.1 L391.5 356.8 L393.5 356.5 L395.5 356.2 L397.5 355.9 L399.5 355.6 L401.5 355.3 L403.5 355.0 L405.5 354.7 L407.5 354.4 L409.5 354.1 L411.5 353.7 L413.5 353.4 L415.5 353.1 L417.5 352.8 L419.5 352.5 L421.5 352.2 L423.5 351.9 L425.5 351.6 L427.5 351.3 L429.5 351.0 L431.5 350.7 L433.5 350.4 L435.5 350.2 L437.5 349.9 L439.5 349.7 L441.5 349.5 L443.5 349.3 L445.5 349.1 L447.5 348.9 L449.5 348.8 L451.5 348.7 L453.5 348.6 L455.5 348.6 L457.5 348.5 L459.5 348.5 L461.5 348.5 L463.5 348.6 L465.5 348.7 L467.5 348.7 L469.5 348.9 L471.5 349.0 L473.5 349.2 L475.5 349.3 L477.5 349.5 L479.5 349.8 L481.5 350.0 L483.5 350.2 L485.5 350.5 L487.5 350.8 L489.5 351.1 L491.5 351.3 L493.5 351.6 L495.5 351.9 L497.5 352.2 L499.5 352.5 L501.5 352.8 L503.5 353.1 L505.5 353.4 L507.5 353.7 L509.5 354.0 L511.5 354.3 L513.5 354.6 L515.5 354.9 L517.5 355.2 L519.5 355.5 L521.5 355.7 L523.5 356.0 L525.5 356.3 L527.5 356.5 L529.5 356.7 L531.5 357.0 L533.5 357.2 L535.5 357.4 L537.5 357.6 L539.5 357.8 L541.5 358.0 L543.5 358.2 L545.5 358.4 L547.5 358.5 L549.5 358.7 L551.5 358.8 L553.5 359.0 L555.5 359.1 L557.5 359.3 L559.5 359.4 L561.5 359.5 L563.5 359.6 L565.5 359.7 L567.5 359.8 L569.5 359.9 L571.5 360.0 L573.5 360.1 L575.5 360.1 L577.5 360.2 L579.5 360.3 L581.5 360.3 L583.5 360.4 L585.5 360.5 L587.5 360.5 L589.5 360.6 L591.5 360.6 L593.5 360.7 L595.5 360.7 L597.5 360.7 L599.5 360.8 L601.5 360.8 L603.5 360.8 L605.5 360.9 L607.5 360.9 L609.5 360.9 L611.5 360.9 L613.5 361.0 L615.5 361.0 L617.5 361.0 L619.5 361.0 L621.5 361.1 L623.5 361.1 L625.5 361.1 L627.5 361.1 L629.5 361.1 L631.5 361.1 L633.5 361.1 L635.5 361.2 L637.5 361.2 L639.5 361.2 L641.5 361.2 L643.5 361.2 L645.5 361.2 L647.5 361.2 L649.5 361.2 L651.5 361.2 L653.5 361.3 L655.5 361.3 L657.5 361.3 L659.5 361.3 L661.5 361.3" fill="none" stroke="#0000ff" stroke-width="4.20" stroke-linejoin="round" stroke-linecap="round"/><path d="M73.5 491.1 L75.5 491.1 L77.5 491.1 L79.5 491.1 L81.5 491.1 L83.5 491.1 L85.5 491.1 L87.5 491.1 L89.5 491.1 L91.5 491.1 L93.5 491.1 L95.5 491.1 L97.5 491.1 L99.5 491.1 L101.5 491.1 L103.5 491.1 L105.5 491.1 L107.5 491.1 L109.5 491.1 L111.5 491.1 L113.5 491.1 L115.5 491.1 L117.5 491.1 L119.5 491.1 L121.5 491.1 L123.5 491.1 L125.5 491.1 L127.5 491.1 L129.5 491.1 L131.5 491.1 L133.5 491.1 L135.5 491.1 L137.5 491.1 L139.5 491.1 L141.5 491.1 L143.5 491.1 L145.5 491.1 L147.5 491.1 L149.5 491.1 L151.5 491.1 L153.5 491.1 L155.5 491.1 L157.5 491.1 L159.5 491.1 L161.5 491.1 L163.5 491.1 L165.5 491.1 L167.5 491.1 L169.5 491.1 L171.5 491.1 L173.5 491.1 L175.5 491.1 L177.5 491.1 L179.5 491.1 L181.5 491.1 L183.5 491.1 L185.5 491.1 L187.5 491.1 L189.5 491.1 L191.5 491.1 L193.5 491.1 L195.5 491.1 L197.5 491.1 L199.5 491.1 L201.5 491.1 L203.5 491.1 L205.5 491.1 L207.5 491.1 L209.5 491.1 L211.5 491.1 L213.5 491.1 L215.5 491.1 L217.5 491.1 L219.5 491.1 L221.5 491.1 L223.5 491.1 L225.5 491.1 L227.5 491.1 L229.5 491.1 L231.5 491.1 L233.5 491.1 L235.5 491.1 L237.5 491.1 L239.5 491.1 L241.5 491.1 L243.5 491.1 L245.5 491.1 L247.5 491.1 L249.5 491.1 L251.5 491.1 L253.5 491.1 L255.5 491.1 L257.5 491.1 L259.5 491.1 L261.5 491.1 L263.5 491.1 L265.5 491.1 L267.5 491.1 L269.5 491.1 L271.5 491.1 L273.5 491.1 L275.5 491.1 L277.5 491.1 L279.5 491.1 L281.5 491.1 L283.5 491.1 L285.5 491.1 L287.5 491.1 L289.5 491.1 L291.5 491.1 L293.5 491.1 L295.5 491.1 L297.5 491.1 L299.5 491.1 L301.5 491.1 L303.5 491.1 L305.5 491.1 L307.5 491.1 L309.5 491.1 L311.5 491.1 L313.5 491.1 L315.5 491.1 L317.5 491.1 L319.5 491.1 L321.5 491.1 L323.5 491.1 L325.5 491.1 L327.5 491.1 L329.5 491.1 L331.5 491.1 L333.5 491.1 L335.5 491.1 L337.5 491.0 L339.5 491.0 L341.5 491.0 L343.5 491.0 L345.5 491.0 L347.5 491.0 L349.5 490.9 L351.5 490.9 L353.5 490.9 L355.5 490.9 L357.5 490.8 L359.5 490.8 L361.5 490.8 L363.5 490.7 L365.5 490.7 L367.5 490.6 L369.5 490.5 L371.5 490.5 L373.5 490.4 L375.5 490.4 L377.5 490.3 L379.5 490.2 L381.5 490.1 L383.5 490.1 L385.5 490.0 L387.5 489.9 L389.5 489.8 L391.5 489.8 L393.5 489.7 L395.5 489.6 L397.5 489.5 L399.5 489.5 L401.5 489.4 L403.5 489.4 L405.5 489.3 L407.5 489.2 L409.5 489.2 L411.5 489.2 L413.5 489.1 L415.5 489.1 L417.5 489.0 L419.5 489.0 L421.5 489.0 L423.5 489.0 L425.5 488.9 L427.5 488.9 L429.5 488.9 L431.5 488.9 L433.5 488.9 L435.5 488.9 L437.5 488.8 L439.5 488.8 L441.5 488.8 L443.5 488.8 L445.5 488.8 L447.5 488.8 L449.5 488.8 L451.5 488.8 L453.5 488.8 L455.5 488.8 L457.5 488.8 L459.5 488.8 L461.5 488.8 L463.5 488.8 L465.5 488.8 L467.5 488.8 L469.5 488.8 L471.5 488.8 L473.5 488.8 L475.5 488.8 L477.5 488.8 L479.5 488.8 L481.5 488.8 L483.5 488.8 L485.5 488.8 L487.5 488.8 L489.5 488.8 L491.5 488.8 L493.5 488.8 L495.5 488.8 L497.5 488.8 L499.5 488.8 L501.5 488.8 L503.5 488.8 L505.5 488.8 L507.5 488.8 L509.5 488.8 L511.5 488.8 L513.5 488.8 L515.5 488.8 L517.5 488.8 L519.5 488.8 L521.5 488.8 L523.5 488.8 L525.5 488.8 L527.5 488.8 L529.5 488.8 L531.5 488.8 L533.5 488.8 L535.5 488.8 L537.5 488.8 L539.5 488.8 L541.5 488.8 L543.5 488.8 L545.5 488.8 L547.5 488.8 L549.5 488.8 L551.5 488.8 L553.5 488.8 L555.5 488.8 L557.5 488.8 L559.5 488.8 L561.5 488.8 L563.5 488.8 L565.5 488.8 L567.5 488.8 L569.5 488.8 L571.5 488.8 L573.5 488.8 L575.5 488.8 L577.5 488.8 L579.5 488.8 L581.5 488.8 L583.5 488.8 L585.5 488.8 L587.5 488.8 L589.5 488.8 L591.5 488.8 L593.5 488.8 L595.5 488.8 L597.5 488.8 L599.5 488.8 L601.5 488.8 L603.5 488.8 L605.5 488.8 L607.5 488.8 L609.5 488.8 L611.5 488.8 L613.5 488.8 L615.5 488.8 L617.5 488.8 L619.5 488.8 L621.5 488.8 L623.5 488.8 L625.5 488.8 L627.5 488.8 L629.5 488.8 L631.5 488.8 L633.5 488.8 L635.5 488.8 L637.5 488.8 L639.5 488.8 L641.5 488.8 L643.5 488.8 L645.5 488.8 L647.5 488.8 L649.5 488.8 L651.5 488.8 L653.5 488.8 L655.5 488.8 L657.5 488.8 L659.5 488.8 L661.5 488.8" fill="none" stroke="#000000" stroke-width="3.30" stroke-linejoin="round" stroke-linecap="round"/><path d="M73.5 490.0 L75.5 490.0 L77.5 490.0 L79.5 490.0 L81.5 490.0 L83.5 490.0 L85.5 490.0 L87.5 490.0 L89.5 490.0 L91.5 489.9 L93.5 489.9 L95.5 489.9 L97.5 489.9 L99.5 489.9 L101.5 489.9 L103.5 489.9 L105.5 489.9 L107.5 489.9 L109.5 489.9 L111.5 489.9 L113.5 489.8 L115.5 489.8 L117.5 489.8 L119.5 489.8 L121.5 489.8 L123.5 489.8 L125.5 489.8 L127.5 489.7 L129.5 489.7 L131.5 489.7 L133.5 489.7 L135.5 489.7 L137.5 489.7 L139.5 489.6 L141.5 489.6 L143.5 489.6 L145.5 489.6 L147.5 489.6 L149.5 489.5 L151.5 489.5 L153.5 489.5 L155.5 489.4 L157.5 489.4 L159.5 489.4 L161.5 489.4 L163.5 489.3 L165.5 489.3 L167.5 489.3 L169.5 489.2 L171.5 489.2 L173.5 489.2 L175.5 489.1 L177.5 489.1 L179.5 489.0 L181.5 489.0 L183.5 488.9 L185.5 488.9 L187.5 488.8 L189.5 488.8 L191.5 488.7 L193.5 488.7 L195.5 488.6 L197.5 488.6 L199.5 488.5 L201.5 488.4 L203.5 488.4 L205.5 488.3 L207.5 488.2 L209.5 488.1 L211.5 488.0 L213.5 487.9 L215.5 487.9 L217.5 487.8 L219.5 487.7 L221.5 487.5 L223.5 487.4 L225.5 487.3 L227.5 487.2 L229.5 487.1 L231.5 486.9 L233.5 486.7 L235.5 486.6 L237.5 486.4 L239.5 486.1 L241.5 485.9 L243.5 485.5 L245.5 485.2 L247.5 484.8 L249.5 484.5 L251.5 484.1 L253.5 483.6 L255.5 483.2 L257.5 482.8 L259.5 482.3 L261.5 481.9 L263.5 481.4 L265.5 480.9 L267.5 480.4 L269.5 479.8 L271.5 479.3 L273.5 478.6 L275.5 478.0 L277.5 477.3 L279.5 476.6 L281.5 475.8 L283.5 475.0 L285.5 474.1 L287.5 473.2 L289.5 472.3 L291.5 471.3 L293.5 470.3 L295.5 469.2 L297.5 468.1 L299.5 467.0 L301.5 465.8 L303.5 464.6 L305.5 463.3 L307.5 462.0 L309.5 460.7 L311.5 459.3 L313.5 457.9 L315.5 456.4 L317.5 454.9 L319.5 453.2 L321.5 451.5 L323.5 449.7 L325.5 447.9 L327.5 446.0 L329.5 444.2 L331.5 442.3 L333.5 440.4 L335.5 438.5 L337.5 436.6 L339.5 434.8 L341.5 433.0 L343.5 431.3 L345.5 429.7 L347.5 428.2 L349.5 426.8 L351.5 425.7 L353.5 424.7 L355.5 424.0 L357.5 423.5 L359.5 423.2 L361.5 423.1 L363.5 423.3 L365.5 423.7 L367.5 424.3 L369.5 425.1 L371.5 426.1 L373.5 427.2 L375.5 428.5 L377.5 430.0 L379.5 431.5 L381.5 433.2 L383.5 434.9 L385.5 436.6 L387.5 438.4 L389.5 440.2 L391.5 442.0 L393.5 443.8 L395.5 445.5 L397.5 447.2 L399.5 448.8 L401.5 450.4 L403.5 451.9 L405.5 453.3 L407.5 454.6 L409.5 455.8 L411.5 457.0 L413.5 458.1 L415.5 459.1 L417.5 460.2 L419.5 461.1 L421.5 462.0 L423.5 462.9 L425.5 463.7 L427.5 464.4 L429.5 465.1 L431.5 465.8 L433.5 466.4 L435.5 467.0 L437.5 467.5 L439.5 468.0 L441.5 468.4 L443.5 468.8 L445.5 469.2 L447.5 469.6 L449.5 469.9 L451.5 470.2 L453.5 470.5 L455.5 470.8 L457.5 471.0 L459.5 471.2 L461.5 471.5 L463.5 471.7 L465.5 471.9 L467.5 472.1 L469.5 472.3 L471.5 472.5 L473.5 472.7 L475.5 472.9 L477.5 473.2 L479.5 473.4 L481.5 473.6 L483.5 473.9 L485.5 474.1 L487.5 474.3 L489.5 474.6 L491.5 474.8 L493.5 475.1 L495.5 475.4 L497.5 475.7 L499.5 476.0 L501.5 476.3 L503.5 476.6 L505.5 476.9 L507.5 477.2 L509.5 477.5 L511.5 477.8 L513.5 478.2 L515.5 478.5 L517.5 478.8 L519.5 479.1 L521.5 479.5 L523.5 479.8 L525.5 480.2 L527.5 480.5 L529.5 480.9 L531.5 481.2 L533.5 481.6 L535.5 481.9 L537.5 482.3 L539.5 482.6 L541.5 482.9 L543.5 483.3 L545.5 483.6 L547.5 483.9 L549.5 484.2 L551.5 484.4 L553.5 484.7 L555.5 484.9 L557.5 485.1 L559.5 485.3 L561.5 485.5 L563.5 485.6 L565.5 485.8 L567.5 485.9 L569.5 486.0 L571.5 486.2 L573.5 486.3 L575.5 486.4 L577.5 486.5 L579.5 486.6 L581.5 486.7 L583.5 486.8 L585.5 486.8 L587.5 486.9 L589.5 487.0 L591.5 487.0 L593.5 487.1 L595.5 487.2 L597.5 487.2 L599.5 487.2 L601.5 487.3 L603.5 487.3 L605.5 487.4 L607.5 487.4 L609.5 487.4 L611.5 487.4 L613.5 487.5 L615.5 487.5 L617.5 487.5 L619.5 487.5 L621.5 487.5 L623.5 487.5 L625.5 487.5 L627.5 487.6 L629.5 487.6 L631.5 487.6 L633.5 487.6 L635.5 487.6 L637.5 487.6 L639.5 487.6 L641.5 487.6 L643.5 487.6 L645.5 487.6 L647.5 487.6 L649.5 487.6 L651.5 487.6 L653.5 487.6 L655.5 487.6 L657.5 487.6 L659.5 487.6 L661.5 487.6" fill="none" stroke="#ff0000" stroke-width="3.70" stroke-linejoin="round" stroke-linecap="round"/><path d="M73.5 491.1 L75.5 491.1 L77.5 491.1 L79.5 491.1 L81.5 491.1 L83.5 491.1 L85.5 491.1 L87.5 491.1 L89.5 491.1 L91.5 491.1 L93.5 491.1 L95.5 491.1 L97.5 491.1 L99.5 491.1 L101.5 491.0 L103.5 491.0 L105.5 491.0 L107.5 491.0 L109.5 491.0 L111.5 491.0 L113.5 491.0 L115.5 491.0 L117.5 491.0 L119.5 491.0 L121.5 491.0 L123.5 491.0 L125.5 491.0 L127.5 491.0 L129.5 491.0 L131.5 491.0 L133.5 491.0 L135.5 491.0 L137.5 491.0 L139.5 491.0 L141.5 491.0 L143.5 491.0 L145.5 491.0 L147.5 491.0 L149.5 491.0 L151.5 491.0 L153.5 491.0 L155.5 491.0 L157.5 491.0 L159.5 491.0 L161.5 491.0 L163.5 491.0 L165.5 491.0 L167.5 491.0 L169.5 491.0 L171.5 491.0 L173.5 491.0 L175.5 491.0 L177.5 491.0 L179.5 491.0 L181.5 491.0 L183.5 491.0 L185.5 491.0 L187.5 491.0 L189.5 491.0 L191.5 491.0 L193.5 491.0 L195.5 491.0 L197.5 491.0 L199.5 491.0 L201.5 491.0 L203.5 491.0 L205.5 491.0 L207.5 491.0 L209.5 491.0 L211.5 491.0 L213.5 491.0 L215.5 491.0 L217.5 491.0 L219.5 491.0 L221.5 491.0 L223.5 490.9 L225.5 490.9 L227.5 490.9 L229.5 490.9 L231.5 490.9 L233.5 490.9 L235.5 490.9 L237.5 490.9 L239.5 490.9 L241.5 490.9 L243.5 490.9 L245.5 490.9 L247.5 490.9 L249.5 490.9 L251.5 490.9 L253.5 490.9 L255.5 490.9 L257.5 490.9 L259.5 490.9 L261.5 490.9 L263.5 490.9 L265.5 490.9 L267.5 490.9 L269.5 490.9 L271.5 490.9 L273.5 490.8 L275.5 490.8 L277.5 490.8 L279.5 490.8 L281.5 490.8 L283.5 490.8 L285.5 490.8 L287.5 490.8 L289.5 490.8 L291.5 490.8 L293.5 490.8 L295.5 490.8 L297.5 490.8 L299.5 490.8 L301.5 490.7 L303.5 490.7 L305.5 490.7 L307.5 490.7 L309.5 490.7 L311.5 490.7 L313.5 490.7 L315.5 490.6 L317.5 490.6 L319.5 490.6 L321.5 490.6 L323.5 490.6 L325.5 490.6 L327.5 490.5 L329.5 490.5 L331.5 490.5 L333.5 490.4 L335.5 490.4 L337.5 490.4 L339.5 490.3 L341.5 490.3 L343.5 490.2 L345.5 490.2 L347.5 490.1 L349.5 490.1 L351.5 490.0 L353.5 489.9 L355.5 489.8 L357.5 489.7 L359.5 489.7 L361.5 489.6 L363.5 489.4 L365.5 489.3 L367.5 489.2 L369.5 489.1 L371.5 488.9 L373.5 488.8 L375.5 488.6 L377.5 488.4 L379.5 488.3 L381.5 488.1 L383.5 487.9 L385.5 487.7 L387.5 487.5 L389.5 487.2 L391.5 487.0 L393.5 486.8 L395.5 486.6 L397.5 486.3 L399.5 486.1 L401.5 485.8 L403.5 485.6 L405.5 485.3 L407.5 485.1 L409.5 484.8 L411.5 484.5 L413.5 484.3 L415.5 484.0 L417.5 483.7 L419.5 483.5 L421.5 483.2 L423.5 482.9 L425.5 482.6 L427.5 482.4 L429.5 482.1 L431.5 481.8 L433.5 481.5 L435.5 481.2 L437.5 481.0 L439.5 480.7 L441.5 480.4 L443.5 480.2 L445.5 479.9 L447.5 479.7 L449.5 479.4 L451.5 479.2 L453.5 479.0 L455.5 478.7 L457.5 478.5 L459.5 478.4 L461.5 478.2 L463.5 478.0 L465.5 477.9 L467.5 477.8 L469.5 477.7 L471.5 477.6 L473.5 477.6 L475.5 477.5 L477.5 477.5 L479.5 477.5 L481.5 477.6 L483.5 477.6 L485.5 477.7 L487.5 477.8 L489.5 477.9 L491.5 478.1 L493.5 478.2 L495.5 478.4 L497.5 478.6 L499.5 478.8 L501.5 479.0 L503.5 479.2 L505.5 479.4 L507.5 479.7 L509.5 479.9 L511.5 480.2 L513.5 480.4 L515.5 480.7 L517.5 480.9 L519.5 481.2 L521.5 481.5 L523.5 481.7 L525.5 482.0 L527.5 482.3 L529.5 482.5 L531.5 482.8 L533.5 483.0 L535.5 483.3 L537.5 483.5 L539.5 483.8 L541.5 484.0 L543.5 484.2 L545.5 484.4 L547.5 484.6 L549.5 484.8 L551.5 485.0 L553.5 485.2 L555.5 485.4 L557.5 485.6 L559.5 485.7 L561.5 485.9 L563.5 486.1 L565.5 486.2 L567.5 486.3 L569.5 486.5 L571.5 486.6 L573.5 486.7 L575.5 486.8 L577.5 486.9 L579.5 487.0 L581.5 487.1 L583.5 487.2 L585.5 487.3 L587.5 487.4 L589.5 487.5 L591.5 487.5 L593.5 487.6 L595.5 487.6 L597.5 487.7 L599.5 487.8 L601.5 487.8 L603.5 487.8 L605.5 487.9 L607.5 487.9 L609.5 488.0 L611.5 488.0 L613.5 488.0 L615.5 488.1 L617.5 488.1 L619.5 488.1 L621.5 488.1 L623.5 488.2 L625.5 488.2 L627.5 488.2 L629.5 488.2 L631.5 488.2 L633.5 488.3 L635.5 488.3 L637.5 488.3 L639.5 488.3 L641.5 488.3 L643.5 488.3 L645.5 488.3 L647.5 488.4 L649.5 488.4 L651.5 488.4 L653.5 488.4 L655.5 488.4 L657.5 488.4 L659.5 488.4 L661.5 488.4" fill="none" stroke="#0000ff" stroke-width="4.20" stroke-linejoin="round" stroke-linecap="round"/><path d="M73.5 586.0 L75.5 586.0 L77.5 586.0 L79.5 586.0 L81.5 586.0 L83.5 586.0 L85.5 586.0 L87.5 586.0 L89.5 586.0 L91.5 586.0 L93.5 586.0 L95.5 585.9 L97.5 585.9 L99.5 585.9 L101.5 585.9 L103.5 585.9 L105.5 585.9 L107.5 585.9 L109.5 585.9 L111.5 585.9 L113.5 585.9 L115.5 585.9 L117.5 585.9 L119.5 585.9 L121.5 585.9 L123.5 585.9 L125.5 585.9 L127.5 585.9 L129.5 585.9 L131.5 585.9 L133.5 585.9 L135.5 585.9 L137.5 585.9 L139.5 585.9 L141.5 585.8 L143.5 585.8 L145.5 585.8 L147.5 585.8 L149.5 585.8 L151.5 585.8 L153.5 585.8 L155.5 585.8 L157.5 585.8 L159.5 585.8 L161.5 585.8 L163.5 585.8 L165.5 585.8 L167.5 585.8 L169.5 585.8 L171.5 585.8 L173.5 585.8 L175.5 585.8 L177.5 585.8 L179.5 585.8 L181.5 585.8 L183.5 585.8 L185.5 585.8 L187.5 585.7 L189.5 585.7 L191.5 585.7 L193.5 585.7 L195.5 585.7 L197.5 585.7 L199.5 585.7 L201.5 585.7 L203.5 585.7 L205.5 585.7 L207.5 585.7 L209.5 585.7 L211.5 585.7 L213.5 585.7 L215.5 585.7 L217.5 585.7 L219.5 585.7 L221.5 585.7 L223.5 585.5 L225.5 585.3 L227.5 584.9 L229.5 584.0 L231.5 584.7 L233.5 583.4 L235.5 583.7 L237.5 583.5 L239.5 582.7 L241.5 582.7 L243.5 582.8 L245.5 582.1 L247.5 581.5 L249.5 580.5 L251.5 580.8 L253.5 580.7 L255.5 580.4 L257.5 579.9 L259.5 580.1 L261.5 579.5 L263.5 579.3 L265.5 579.2 L267.5 578.3 L269.5 578.0 L271.5 578.4 L273.5 577.4 L275.5 576.2 L277.5 576.1 L279.5 575.8 L281.5 575.6 L283.5 574.7 L285.5 573.9 L287.5 573.4 L289.5 573.3 L291.5 572.5 L293.5 571.4 L295.5 570.5 L297.5 569.4 L299.5 568.7 L301.5 567.1 L303.5 566.3 L305.5 565.4 L307.5 563.9 L309.5 562.0 L311.5 561.2 L313.5 558.6 L315.5 557.0 L317.5 554.6 L319.5 552.3 L321.5 551.0 L323.5 549.0 L325.5 546.9 L327.5 545.0 L329.5 542.7 L331.5 540.8 L333.5 539.1 L335.5 538.0 L337.5 535.8 L339.5 533.5 L341.5 532.1 L343.5 529.9 L345.5 528.3 L347.5 527.3 L349.5 525.8 L351.5 524.6 L353.5 524.3 L355.5 524.3 L357.5 524.0 L359.5 524.0 L361.5 522.9 L363.5 523.1 L365.5 522.7 L367.5 522.4 L369.5 522.9 L371.5 523.0 L373.5 522.9 L375.5 524.0 L377.5 523.7 L379.5 524.8 L381.5 525.6 L383.5 526.8 L385.5 527.7 L387.5 529.3 L389.5 530.7 L391.5 532.5 L393.5 533.4 L395.5 535.1 L397.5 536.5 L399.5 537.7 L401.5 540.7 L403.5 541.3 L405.5 542.4 L407.5 544.9 L409.5 545.5 L411.5 547.4 L413.5 548.9 L415.5 549.8 L417.5 551.2 L419.5 552.6 L421.5 554.0 L423.5 554.7 L425.5 556.0 L427.5 557.4 L429.5 558.7 L431.5 559.4 L433.5 560.7 L435.5 561.2 L437.5 561.6 L439.5 562.5 L441.5 562.5 L443.5 563.6 L445.5 564.2 L447.5 565.3 L449.5 566.1 L451.5 566.3 L453.5 566.9 L455.5 567.2 L457.5 568.3 L459.5 569.0 L461.5 569.5 L463.5 569.5 L465.5 570.7 L467.5 570.7 L469.5 570.4 L471.5 570.5 L473.5 570.8 L475.5 571.1 L477.5 571.3 L479.5 571.7 L481.5 572.0 L483.5 572.4 L485.5 572.5 L487.5 572.3 L489.5 572.7 L491.5 572.6 L493.5 572.8 L495.5 573.8 L497.5 573.2 L499.5 574.2 L501.5 573.5 L503.5 573.9 L505.5 574.4 L507.5 574.2 L509.5 574.5 L511.5 574.4 L513.5 574.5 L515.5 574.8 L517.5 574.8 L519.5 575.8 L521.5 575.3 L523.5 576.2 L525.5 574.8 L527.5 575.9 L529.5 576.3 L531.5 576.1 L533.5 576.8 L535.5 576.8 L537.5 576.6 L539.5 577.0 L541.5 578.0 L543.5 577.3 L545.5 577.5 L547.5 577.4 L549.5 577.7 L551.5 577.4 L553.5 577.9 L555.5 579.0 L557.5 578.6 L559.5 578.7 L561.5 579.0 L563.5 579.4 L565.5 579.1 L567.5 579.8 L569.5 579.6 L571.5 579.4 L573.5 580.1 L575.5 578.8 L577.5 579.6 L579.5 580.0 L581.5 579.7 L583.5 580.1 L585.5 580.0 L587.5 580.1 L589.5 581.3 L591.5 580.7 L593.5 580.5 L595.5 581.1 L597.5 580.6 L599.5 581.1 L601.5 581.0 L603.5 581.5 L605.5 580.5 L607.5 581.3 L609.5 581.2 L611.5 580.8 L613.5 581.7 L615.5 581.1 L617.5 582.0 L619.5 581.7 L621.5 581.9 L623.5 581.7 L625.5 582.1 L627.5 581.2 L629.5 582.0 L631.5 581.8 L633.5 582.2 L635.5 582.2 L637.5 582.5 L639.5 582.0 L641.5 583.0 L643.5 583.3 L645.5 582.5 L647.5 582.6 L649.5 582.8 L651.5 583.2 L653.5 583.5 L655.5 582.5 L657.5 582.8 L659.5 582.7 L661.5 582.7" fill="none" stroke="#ff0000" stroke-width="4.10" stroke-linejoin="round" stroke-linecap="round"/><path d="M73.5 586.0 L663.0 584.7" fill="none" stroke="#0000ff" stroke-width="4.30" stroke-linejoin="round" stroke-linecap="round"/><path d="M767.5 337.9 L769.5 337.9 L771.5 337.9 L773.5 337.9 L775.5 337.9 L777.5 337.9 L779.5 337.9 L781.5 337.9 L783.5 337.9 L785.5 337.9 L787.5 337.9 L789.5 337.9 L791.5 337.9 L793.5 337.9 L795.5 337.9 L797.5 337.9 L799.5 337.9 L801.5 337.9 L803.5 337.9 L805.5 337.9 L807.5 337.9 L809.5 337.9 L811.5 337.9 L813.5 337.9 L815.5 337.9 L817.5 337.9 L819.5 337.9 L821.5 337.9 L823.5 337.9 L825.5 337.9 L827.5 337.9 L829.5 337.9 L831.5 337.9 L833.5 337.9 L835.5 337.9 L837.5 337.9 L839.5 337.9 L841.5 337.9 L843.5 337.9 L845.5 337.9 L847.5 337.9 L849.5 337.9 L851.5 337.9 L853.5 337.9 L855.5 337.9 L857.5 337.9 L859.5 337.9 L861.5 337.9 L863.5 337.9 L865.5 337.9 L867.5 337.9 L869.5 337.9 L871.5 337.9 L873.5 337.9 L875.5 337.9 L877.5 337.9 L879.5 337.9 L881.5 337.9 L883.5 337.9 L885.5 337.9 L887.5 337.9 L889.5 337.9 L891.5 337.9 L893.5 337.9 L895.5 337.9 L897.5 337.9 L899.5 337.9 L901.5 337.9 L903.5 337.9 L905.5 337.9 L907.5 337.9 L909.5 337.9 L911.5 337.9 L913.5 337.9 L915.5 337.9 L917.5 337.9 L919.5 337.9 L921.5 337.9 L923.5 337.9 L925.5 337.9 L927.5 337.9 L929.5 337.9 L931.5 337.9 L933.5 337.9 L935.5 337.9 L937.5 337.9 L939.5 337.9 L941.5 337.9 L943.5 337.9 L945.5 337.9 L947.5 337.9 L949.5 337.9 L951.5 337.9 L953.5 337.9 L955.5 337.9 L957.5 337.9 L959.5 337.9 L961.5 337.9 L963.5 337.9 L965.5 337.9 L967.5 337.9 L969.5 337.8 L971.5 337.8 L973.5 337.8 L975.5 337.8 L977.5 337.8 L979.5 337.8 L981.5 337.8 L983.5 337.8 L985.5 337.7 L987.5 337.7 L989.5 337.7 L991.5 337.7 L993.5 337.7 L995.5 337.6 L997.5 337.6 L999.5 337.6 L1001.5 337.5 L1003.5 337.5 L1005.5 337.5 L1007.5 337.4 L1009.5 337.4 L1011.5 337.3 L1013.5 337.2 L1015.5 337.2 L1017.5 337.1 L1019.5 337.0 L1021.5 337.0 L1023.5 336.9 L1025.5 336.8 L1027.5 336.7 L1029.5 336.6 L1031.5 336.5 L1033.5 336.4 L1035.5 336.2 L1037.5 336.1 L1039.5 336.0 L1041.5 335.8 L1043.5 335.7 L1045.5 335.5 L1047.5 335.4 L1049.5 335.2 L1051.5 335.1 L1053.5 334.9 L1055.5 334.8 L1057.5 334.6 L1059.5 334.4 L1061.5 334.3 L1063.5 334.1 L1065.5 334.0 L1067.5 333.8 L1069.5 333.7 L1071.5 333.6 L1073.5 333.4 L1075.5 333.3 L1077.5 333.2 L1079.5 333.1 L1081.5 333.0 L1083.5 332.9 L1085.5 332.8 L1087.5 332.7 L1089.5 332.6 L1091.5 332.5 L1093.5 332.4 L1095.5 332.4 L1097.5 332.3 L1099.5 332.3 L1101.5 332.2 L1103.5 332.2 L1105.5 332.1 L1107.5 332.1 L1109.5 332.0 L1111.5 332.0 L1113.5 332.0 L1115.5 331.9 L1117.5 331.9 L1119.5 331.9 L1121.5 331.9 L1123.5 331.9 L1125.5 331.8 L1127.5 331.8 L1129.5 331.8 L1131.5 331.8 L1133.5 331.8 L1135.5 331.8 L1137.5 331.8 L1139.5 331.8 L1141.5 331.7 L1143.5 331.7 L1145.5 331.7 L1147.5 331.7 L1149.5 331.7 L1151.5 331.7 L1153.5 331.7 L1155.5 331.7 L1157.5 331.7 L1159.5 331.7 L1161.5 331.7 L1163.5 331.7 L1165.5 331.7 L1167.5 331.7 L1169.5 331.7 L1171.5 331.7 L1173.5 331.7 L1175.5 331.7 L1177.5 331.7 L1179.5 331.7 L1181.5 331.7 L1183.5 331.7 L1185.5 331.7 L1187.5 331.7 L1189.5 331.7 L1191.5 331.7 L1193.5 331.7 L1195.5 331.7 L1197.5 331.7 L1199.5 331.7 L1201.5 331.7 L1203.5 331.7 L1205.5 331.7 L1207.5 331.7 L1209.5 331.7 L1211.5 331.7 L1213.5 331.7 L1215.5 331.7 L1217.5 331.7 L1219.5 331.7 L1221.5 331.7 L1223.5 331.7 L1225.5 331.7 L1227.5 331.7 L1229.5 331.7 L1231.5 331.7 L1233.5 331.7 L1235.5 331.7 L1237.5 331.7 L1239.5 331.7 L1241.5 331.7 L1243.5 331.7 L1245.5 331.7 L1247.5 331.7 L1249.5 331.7 L1251.5 331.7 L1253.5 331.7 L1255.5 331.7 L1257.5 331.7 L1259.5 331.7 L1261.5 331.7 L1263.5 331.7 L1265.5 331.7 L1267.5 331.7 L1269.5 331.7 L1271.5 331.7 L1273.5 331.7 L1275.5 331.7 L1277.5 331.7 L1279.5 331.7 L1281.5 331.7 L1283.5 331.7 L1285.5 331.7 L1287.5 331.7 L1289.5 331.7 L1291.5 331.7 L1293.5 331.7 L1295.5 331.7 L1297.5 331.7 L1299.5 331.7 L1301.5 331.7 L1303.5 331.7 L1305.5 331.7 L1307.5 331.7 L1309.5 331.7 L1311.5 331.7 L1313.5 331.7 L1315.5 331.7 L1317.5 331.7 L1319.5 331.7 L1321.5 331.7 L1323.5 331.7 L1325.5 331.7 L1327.5 331.7 L1329.5 331.7 L1331.5 331.7 L1333.5 331.7 L1335.5 331.7 L1337.5 331.7 L1339.5 331.7 L1341.5 331.7 L1343.5 331.7 L1345.5 331.7 L1347.5 331.7 L1349.5 331.7 L1351.5 331.7 L1353.5 331.7 L1355.5 331.7 L1357.5 331.7" fill="none" stroke="#000000" stroke-width="3.30" stroke-linejoin="round" stroke-linecap="round"/><path d="M767.5 339.1 L769.5 339.0 L771.5 339.0 L773.5 339.0 L775.5 338.9 L777.5 338.9 L779.5 338.9 L781.5 338.8 L783.5 338.8 L785.5 338.7 L787.5 338.7 L789.5 338.7 L791.5 338.6 L793.5 338.6 L795.5 338.5 L797.5 338.5 L799.5 338.5 L801.5 338.4 L803.5 338.4 L805.5 338.3 L807.5 338.3 L809.5 338.3 L811.5 338.2 L813.5 338.2 L815.5 338.1 L817.5 338.1 L819.5 338.0 L821.5 338.0 L823.5 337.9 L825.5 337.9 L827.5 337.9 L829.5 337.8 L831.5 337.8 L833.5 337.7 L835.5 337.7 L837.5 337.6 L839.5 337.6 L841.5 337.5 L843.5 337.5 L845.5 337.4 L847.5 337.4 L849.5 337.3 L851.5 337.3 L853.5 337.2 L855.5 337.1 L857.5 337.1 L859.5 337.0 L861.5 337.0 L863.5 336.9 L865.5 336.9 L867.5 336.8 L869.5 336.7 L871.5 336.7 L873.5 336.6 L875.5 336.5 L877.5 336.5 L879.5 336.4 L881.5 336.3 L883.5 336.3 L885.5 336.2 L887.5 336.1 L889.5 336.0 L891.5 336.0 L893.5 335.9 L895.5 335.7 L897.5 335.6 L899.5 335.4 L901.5 335.1 L903.5 334.8 L905.5 334.5 L907.5 334.1 L909.5 333.7 L911.5 333.3 L913.5 332.9 L915.5 332.5 L917.5 332.1 L919.5 331.8 L921.5 331.4 L923.5 331.0 L925.5 330.6 L927.5 330.2 L929.5 329.8 L931.5 329.4 L933.5 328.9 L935.5 328.4 L937.5 327.9 L939.5 327.4 L941.5 326.9 L943.5 326.3 L945.5 325.8 L947.5 325.2 L949.5 324.5 L951.5 323.8 L953.5 322.9 L955.5 322.1 L957.5 321.1 L959.5 320.0 L961.5 318.9 L963.5 317.6 L965.5 316.2 L967.5 314.6 L969.5 312.9 L971.5 311.1 L973.5 309.0 L975.5 306.8 L977.5 304.4 L979.5 301.7 L981.5 298.9 L983.5 295.9 L985.5 292.6 L987.5 289.2 L989.5 285.4 L991.5 281.4 L993.5 277.0 L995.5 272.3 L997.5 267.3 L999.5 261.9 L1001.5 256.2 L1003.5 250.1 L1005.5 243.7 L1007.5 237.0 L1009.5 230.0 L1011.5 222.7 L1013.5 215.3 L1015.5 207.7 L1017.5 199.9 L1019.5 192.1 L1021.5 184.3 L1023.5 176.5 L1025.5 168.8 L1027.5 161.3 L1029.5 154.1 L1031.5 147.2 L1033.5 140.6 L1035.5 134.2 L1037.5 128.0 L1039.5 121.8 L1041.5 115.8 L1043.5 109.9 L1045.5 104.4 L1047.5 99.5 L1049.5 95.3 L1051.5 91.9 L1053.5 89.3 L1055.5 87.4 L1057.5 86.3 L1059.5 85.8 L1061.5 85.9 L1063.5 86.7 L1065.5 88.3 L1067.5 90.5 L1069.5 93.4 L1071.5 96.9 L1073.5 101.0 L1075.5 105.5 L1077.5 110.4 L1079.5 115.5 L1081.5 120.9 L1083.5 126.5 L1085.5 132.3 L1087.5 138.5 L1089.5 145.0 L1091.5 151.7 L1093.5 158.6 L1095.5 165.6 L1097.5 172.5 L1099.5 179.4 L1101.5 186.2 L1103.5 192.9 L1105.5 199.5 L1107.5 205.9 L1109.5 212.2 L1111.5 218.3 L1113.5 224.1 L1115.5 229.7 L1117.5 235.1 L1119.5 240.1 L1121.5 244.9 L1123.5 249.5 L1125.5 253.7 L1127.5 257.7 L1129.5 261.5 L1131.5 265.0 L1133.5 268.3 L1135.5 271.4 L1137.5 274.2 L1139.5 276.8 L1141.5 279.2 L1143.5 281.3 L1145.5 283.1 L1147.5 284.7 L1149.5 286.1 L1151.5 287.3 L1153.5 288.4 L1155.5 289.4 L1157.5 290.2 L1159.5 291.0 L1161.5 291.7 L1163.5 292.4 L1165.5 293.0 L1167.5 293.6 L1169.5 294.1 L1171.5 294.6 L1173.5 295.1 L1175.5 295.6 L1177.5 296.1 L1179.5 296.7 L1181.5 297.2 L1183.5 297.7 L1185.5 298.2 L1187.5 298.8 L1189.5 299.4 L1191.5 299.9 L1193.5 300.5 L1195.5 301.1 L1197.5 301.8 L1199.5 302.4 L1201.5 303.1 L1203.5 303.9 L1205.5 304.6 L1207.5 305.4 L1209.5 306.2 L1211.5 307.0 L1213.5 307.9 L1215.5 308.7 L1217.5 309.5 L1219.5 310.3 L1221.5 311.1 L1223.5 311.9 L1225.5 312.7 L1227.5 313.5 L1229.5 314.3 L1231.5 315.0 L1233.5 315.8 L1235.5 316.5 L1237.5 317.2 L1239.5 317.9 L1241.5 318.6 L1243.5 319.2 L1245.5 319.8 L1247.5 320.4 L1249.5 321.0 L1251.5 321.6 L1253.5 322.1 L1255.5 322.6 L1257.5 323.0 L1259.5 323.5 L1261.5 323.9 L1263.5 324.3 L1265.5 324.7 L1267.5 325.1 L1269.5 325.5 L1271.5 325.8 L1273.5 326.1 L1275.5 326.4 L1277.5 326.7 L1279.5 327.0 L1281.5 327.2 L1283.5 327.5 L1285.5 327.7 L1287.5 327.9 L1289.5 328.1 L1291.5 328.3 L1293.5 328.5 L1295.5 328.7 L1297.5 328.9 L1299.5 329.0 L1301.5 329.2 L1303.5 329.3 L1305.5 329.5 L1307.5 329.6 L1309.5 329.7 L1311.5 329.8 L1313.5 329.9 L1315.5 330.0 L1317.5 330.1 L1319.5 330.2 L1321.5 330.3 L1323.5 330.3 L1325.5 330.4 L1327.5 330.4 L1329.5 330.5 L1331.5 330.6 L1333.5 330.6 L1335.5 330.7 L1337.5 330.7 L1339.5 330.7 L1341.5 330.8 L1343.5 330.8 L1345.5 330.8 L1347.5 330.9 L1349.5 330.9 L1351.5 330.9 L1353.5 330.9 L1355.5 331.0 L1357.5 331.0" fill="none" stroke="#ff0000" stroke-width="3.40" stroke-linejoin="round" stroke-linecap="round"/><path d="M767.5 337.8 L769.5 337.8 L771.5 337.8 L773.5 337.8 L775.5 337.7 L777.5 337.7 L779.5 337.7 L781.5 337.7 L783.5 337.7 L785.5 337.7 L787.5 337.7 L789.5 337.7 L791.5 337.7 L793.5 337.7 L795.5 337.7 L797.5 337.7 L799.5 337.7 L801.5 337.7 L803.5 337.7 L805.5 337.7 L807.5 337.7 L809.5 337.7 L811.5 337.7 L813.5 337.7 L815.5 337.7 L817.5 337.7 L819.5 337.7 L821.5 337.7 L823.5 337.7 L825.5 337.7 L827.5 337.7 L829.5 337.7 L831.5 337.7 L833.5 337.7 L835.5 337.7 L837.5 337.7 L839.5 337.7 L841.5 337.7 L843.5 337.7 L845.5 337.7 L847.5 337.7 L849.5 337.7 L851.5 337.7 L853.5 337.7 L855.5 337.6 L857.5 337.6 L859.5 337.6 L861.5 337.6 L863.5 337.6 L865.5 337.6 L867.5 337.6 L869.5 337.6 L871.5 337.6 L873.5 337.6 L875.5 337.6 L877.5 337.6 L879.5 337.6 L881.5 337.6 L883.5 337.6 L885.5 337.6 L887.5 337.6 L889.5 337.6 L891.5 337.6 L893.5 337.6 L895.5 337.6 L897.5 337.6 L899.5 337.6 L901.5 337.5 L903.5 337.5 L905.5 337.5 L907.5 337.5 L909.5 337.5 L911.5 337.5 L913.5 337.5 L915.5 337.5 L917.5 337.5 L919.5 337.5 L921.5 337.5 L923.5 337.5 L925.5 337.5 L927.5 337.5 L929.5 337.4 L931.5 337.4 L933.5 337.4 L935.5 337.4 L937.5 337.4 L939.5 337.4 L941.5 337.4 L943.5 337.4 L945.5 337.3 L947.5 337.3 L949.5 337.3 L951.5 337.3 L953.5 337.3 L955.5 337.3 L957.5 337.2 L959.5 337.2 L961.5 337.2 L963.5 337.2 L965.5 337.1 L967.5 337.1 L969.5 337.1 L971.5 337.0 L973.5 337.0 L975.5 337.0 L977.5 336.9 L979.5 336.9 L981.5 336.8 L983.5 336.8 L985.5 336.7 L987.5 336.6 L989.5 336.6 L991.5 336.5 L993.5 336.4 L995.5 336.3 L997.5 336.2 L999.5 336.1 L1001.5 336.0 L1003.5 335.9 L1005.5 335.8 L1007.5 335.6 L1009.5 335.5 L1011.5 335.3 L1013.5 335.1 L1015.5 334.9 L1017.5 334.7 L1019.5 334.5 L1021.5 334.3 L1023.5 334.0 L1025.5 333.8 L1027.5 333.5 L1029.5 333.2 L1031.5 332.9 L1033.5 332.5 L1035.5 332.2 L1037.5 331.8 L1039.5 331.4 L1041.5 331.0 L1043.5 330.5 L1045.5 330.1 L1047.5 329.6 L1049.5 329.1 L1051.5 328.6 L1053.5 328.1 L1055.5 327.5 L1057.5 326.9 L1059.5 326.4 L1061.5 325.8 L1063.5 325.1 L1065.5 324.5 L1067.5 323.9 L1069.5 323.2 L1071.5 322.5 L1073.5 321.8 L1075.5 321.1 L1077.5 320.4 L1079.5 319.7 L1081.5 319.0 L1083.5 318.2 L1085.5 317.5 L1087.5 316.7 L1089.5 316.0 L1091.5 315.2 L1093.5 314.4 L1095.5 313.6 L1097.5 312.9 L1099.5 312.1 L1101.5 311.3 L1103.5 310.5 L1105.5 309.7 L1107.5 309.0 L1109.5 308.2 L1111.5 307.4 L1113.5 306.7 L1115.5 305.9 L1117.5 305.2 L1119.5 304.5 L1121.5 303.7 L1123.5 303.1 L1125.5 302.4 L1127.5 301.7 L1129.5 301.1 L1131.5 300.5 L1133.5 300.0 L1135.5 299.4 L1137.5 298.9 L1139.5 298.4 L1141.5 298.0 L1143.5 297.6 L1145.5 297.3 L1147.5 296.9 L1149.5 296.7 L1151.5 296.4 L1153.5 296.3 L1155.5 296.1 L1157.5 296.0 L1159.5 296.0 L1161.5 296.0 L1163.5 296.1 L1165.5 296.2 L1167.5 296.3 L1169.5 296.5 L1171.5 296.7 L1173.5 297.0 L1175.5 297.3 L1177.5 297.7 L1179.5 298.1 L1181.5 298.5 L1183.5 299.0 L1185.5 299.5 L1187.5 300.1 L1189.5 300.6 L1191.5 301.2 L1193.5 301.9 L1195.5 302.5 L1197.5 303.1 L1199.5 303.8 L1201.5 304.5 L1203.5 305.2 L1205.5 305.9 L1207.5 306.7 L1209.5 307.4 L1211.5 308.1 L1213.5 308.9 L1215.5 309.6 L1217.5 310.3 L1219.5 311.1 L1221.5 311.8 L1223.5 312.5 L1225.5 313.2 L1227.5 313.9 L1229.5 314.6 L1231.5 315.3 L1233.5 316.0 L1235.5 316.7 L1237.5 317.3 L1239.5 317.9 L1241.5 318.6 L1243.5 319.2 L1245.5 319.7 L1247.5 320.3 L1249.5 320.9 L1251.5 321.4 L1253.5 321.9 L1255.5 322.4 L1257.5 322.9 L1259.5 323.3 L1261.5 323.8 L1263.5 324.2 L1265.5 324.6 L1267.5 325.0 L1269.5 325.3 L1271.5 325.7 L1273.5 326.0 L1275.5 326.4 L1277.5 326.7 L1279.5 326.9 L1281.5 327.2 L1283.5 327.5 L1285.5 327.7 L1287.5 327.9 L1289.5 328.2 L1291.5 328.4 L1293.5 328.6 L1295.5 328.7 L1297.5 328.9 L1299.5 329.1 L1301.5 329.2 L1303.5 329.4 L1305.5 329.5 L1307.5 329.6 L1309.5 329.7 L1311.5 329.8 L1313.5 329.9 L1315.5 330.0 L1317.5 330.1 L1319.5 330.2 L1321.5 330.3 L1323.5 330.3 L1325.5 330.4 L1327.5 330.5 L1329.5 330.5 L1331.5 330.6 L1333.5 330.6 L1335.5 330.7 L1337.5 330.7 L1339.5 330.7 L1341.5 330.8 L1343.5 330.8 L1345.5 330.8 L1347.5 330.9 L1349.5 330.9 L1351.5 330.9 L1353.5 330.9 L1355.5 331.0 L1357.5 331.0" fill="none" stroke="#0000ff" stroke-width="4.20" stroke-linejoin="round" stroke-linecap="round"/><path d="M767.5 565.3 L769.5 565.3 L771.5 565.3 L773.5 565.3 L775.5 565.3 L777.5 565.3 L779.5 565.3 L781.5 565.3 L783.5 565.3 L785.5 565.3 L787.5 565.3 L789.5 565.3 L791.5 565.3 L793.5 565.3 L795.5 565.3 L797.5 565.3 L799.5 565.3 L801.5 565.3 L803.5 565.3 L805.5 565.3 L807.5 565.3 L809.5 565.3 L811.5 565.3 L813.5 565.3 L815.5 565.3 L817.5 565.3 L819.5 565.3 L821.5 565.3 L823.5 565.3 L825.5 565.3 L827.5 565.3 L829.5 565.3 L831.5 565.3 L833.5 565.3 L835.5 565.3 L837.5 565.3 L839.5 565.3 L841.5 565.3 L843.5 565.3 L845.5 565.3 L847.5 565.3 L849.5 565.3 L851.5 565.3 L853.5 565.3 L855.5 565.3 L857.5 565.3 L859.5 565.3 L861.5 565.3 L863.5 565.3 L865.5 565.3 L867.5 565.3 L869.5 565.3 L871.5 565.3 L873.5 565.3 L875.5 565.3 L877.5 565.3 L879.5 565.3 L881.5 565.3 L883.5 565.3 L885.5 565.3 L887.5 565.3 L889.5 565.3 L891.5 565.3 L893.5 565.3 L895.5 565.3 L897.5 565.3 L899.5 565.3 L901.5 565.3 L903.5 565.3 L905.5 565.3 L907.5 565.3 L909.5 565.3 L911.5 565.3 L913.5 565.3 L915.5 565.3 L917.5 565.3 L919.5 565.3 L921.5 565.3 L923.5 565.3 L925.5 565.3 L927.5 565.3 L929.5 565.3 L931.5 565.3 L933.5 565.3 L935.5 565.3 L937.5 565.3 L939.5 565.3 L941.5 565.3 L943.5 565.3 L945.5 565.3 L947.5 565.3 L949.5 565.3 L951.5 565.3 L953.5 565.3 L955.5 565.3 L957.5 565.3 L959.5 565.3 L961.5 565.3 L963.5 565.3 L965.5 565.3 L967.5 565.3 L969.5 565.3 L971.5 565.3 L973.5 565.3 L975.5 565.3 L977.5 565.3 L979.5 565.3 L981.5 565.3 L983.5 565.3 L985.5 565.3 L987.5 565.3 L989.5 565.3 L991.5 565.3 L993.5 565.3 L995.5 565.3 L997.5 565.3 L999.5 565.3 L1001.5 565.3 L1003.5 565.3 L1005.5 565.3 L1007.5 565.3 L1009.5 565.3 L1011.5 565.3 L1013.5 565.3 L1015.5 565.3 L1017.5 565.3 L1019.5 565.3 L1021.5 565.2 L1023.5 565.2 L1025.5 565.2 L1027.5 565.2 L1029.5 565.2 L1031.5 565.2 L1033.5 565.1 L1035.5 565.1 L1037.5 565.1 L1039.5 565.0 L1041.5 565.0 L1043.5 564.9 L1045.5 564.9 L1047.5 564.8 L1049.5 564.8 L1051.5 564.7 L1053.5 564.6 L1055.5 564.5 L1057.5 564.4 L1059.5 564.3 L1061.5 564.2 L1063.5 564.1 L1065.5 564.0 L1067.5 563.8 L1069.5 563.7 L1071.5 563.5 L1073.5 563.4 L1075.5 563.2 L1077.5 563.0 L1079.5 562.9 L1081.5 562.7 L1083.5 562.5 L1085.5 562.4 L1087.5 562.2 L1089.5 562.1 L1091.5 561.9 L1093.5 561.8 L1095.5 561.6 L1097.5 561.5 L1099.5 561.4 L1101.5 561.3 L1103.5 561.2 L1105.5 561.1 L1107.5 561.0 L1109.5 560.9 L1111.5 560.8 L1113.5 560.8 L1115.5 560.7 L1117.5 560.7 L1119.5 560.6 L1121.5 560.6 L1123.5 560.5 L1125.5 560.5 L1127.5 560.5 L1129.5 560.5 L1131.5 560.4 L1133.5 560.4 L1135.5 560.4 L1137.5 560.4 L1139.5 560.4 L1141.5 560.4 L1143.5 560.4 L1145.5 560.3 L1147.5 560.3 L1149.5 560.3 L1151.5 560.3 L1153.5 560.3 L1155.5 560.3 L1157.5 560.3 L1159.5 560.3 L1161.5 560.3 L1163.5 560.3 L1165.5 560.3 L1167.5 560.3 L1169.5 560.3 L1171.5 560.3 L1173.5 560.3 L1175.5 560.3 L1177.5 560.3 L1179.5 560.3 L1181.5 560.3 L1183.5 560.3 L1185.5 560.3 L1187.5 560.3 L1189.5 560.3 L1191.5 560.3 L1193.5 560.3 L1195.5 560.3 L1197.5 560.3 L1199.5 560.3 L1201.5 560.3 L1203.5 560.3 L1205.5 560.3 L1207.5 560.3 L1209.5 560.3 L1211.5 560.3 L1213.5 560.3 L1215.5 560.3 L1217.5 560.3 L1219.5 560.3 L1221.5 560.3 L1223.5 560.3 L1225.5 560.3 L1227.5 560.3 L1229.5 560.3 L1231.5 560.3 L1233.5 560.3 L1235.5 560.3 L1237.5 560.3 L1239.5 560.3 L1241.5 560.3 L1243.5 560.3 L1245.5 560.3 L1247.5 560.3 L1249.5 560.3 L1251.5 560.3 L1253.5 560.3 L1255.5 560.3 L1257.5 560.3 L1259.5 560.3 L1261.5 560.3 L1263.5 560.3 L1265.5 560.3 L1267.5 560.3 L1269.5 560.3 L1271.5 560.3 L1273.5 560.3 L1275.5 560.3 L1277.5 560.3 L1279.5 560.3 L1281.5 560.3 L1283.5 560.3 L1285.5 560.3 L1287.5 560.3 L1289.5 560.3 L1291.5 560.3 L1293.5 560.3 L1295.5 560.3 L1297.5 560.3 L1299.5 560.3 L1301.5 560.3 L1303.5 560.3 L1305.5 560.3 L1307.5 560.3 L1309.5 560.3 L1311.5 560.3 L1313.5 560.3 L1315.5 560.3 L1317.5 560.3 L1319.5 560.3 L1321.5 560.3 L1323.5 560.3 L1325.5 560.3 L1327.5 560.3 L1329.5 560.3 L1331.5 560.3 L1333.5 560.3 L1335.5 560.3 L1337.5 560.3 L1339.5 560.3 L1341.5 560.3 L1343.5 560.3 L1345.5 560.3 L1347.5 560.3 L1349.5 560.3 L1351.5 560.3 L1353.5 560.3 L1355.5 560.3 L1357.5 560.3" fill="none" stroke="#000000" stroke-width="3.30" stroke-linejoin="round" stroke-linecap="round"/><path d="M767.5 565.8 L769.5 565.8 L771.5 565.8 L773.5 565.7 L775.5 565.7 L777.5 565.7 L779.5 565.6 L781.5 565.6 L783.5 565.5 L785.5 565.5 L787.5 565.4 L789.5 565.4 L791.5 565.3 L793.5 565.3 L795.5 565.3 L797.5 565.2 L799.5 565.2 L801.5 565.1 L803.5 565.1 L805.5 565.0 L807.5 565.0 L809.5 564.9 L811.5 564.9 L813.5 564.8 L815.5 564.8 L817.5 564.8 L819.5 564.7 L821.5 564.7 L823.5 564.6 L825.5 564.6 L827.5 564.5 L829.5 564.5 L831.5 564.4 L833.5 564.4 L835.5 564.3 L837.5 564.3 L839.5 564.2 L841.5 564.2 L843.5 564.1 L845.5 564.1 L847.5 564.0 L849.5 564.0 L851.5 563.9 L853.5 563.9 L855.5 563.8 L857.5 563.7 L859.5 563.7 L861.5 563.6 L863.5 563.6 L865.5 563.5 L867.5 563.5 L869.5 563.4 L871.5 563.4 L873.5 563.3 L875.5 563.2 L877.5 563.2 L879.5 563.1 L881.5 563.0 L883.5 563.0 L885.5 562.9 L887.5 562.9 L889.5 562.8 L891.5 562.7 L893.5 562.6 L895.5 562.6 L897.5 562.5 L899.5 562.4 L901.5 562.3 L903.5 562.2 L905.5 562.2 L907.5 562.1 L909.5 562.0 L911.5 561.8 L913.5 561.7 L915.5 561.6 L917.5 561.5 L919.5 561.3 L921.5 561.1 L923.5 560.9 L925.5 560.7 L927.5 560.5 L929.5 560.3 L931.5 560.0 L933.5 559.7 L935.5 559.4 L937.5 559.1 L939.5 558.7 L941.5 558.3 L943.5 557.8 L945.5 557.4 L947.5 556.9 L949.5 556.3 L951.5 555.8 L953.5 555.2 L955.5 554.5 L957.5 553.8 L959.5 553.0 L961.5 552.2 L963.5 551.2 L965.5 550.2 L967.5 549.2 L969.5 548.1 L971.5 546.9 L973.5 545.8 L975.5 544.5 L977.5 543.0 L979.5 541.3 L981.5 539.3 L983.5 537.1 L985.5 534.6 L987.5 531.8 L989.5 528.8 L991.5 525.7 L993.5 522.3 L995.5 518.8 L997.5 515.2 L999.5 511.4 L1001.5 507.5 L1003.5 503.5 L1005.5 499.3 L1007.5 495.1 L1009.5 490.8 L1011.5 486.4 L1013.5 481.9 L1015.5 477.5 L1017.5 472.9 L1019.5 468.4 L1021.5 463.9 L1023.5 459.4 L1025.5 454.9 L1027.5 450.5 L1029.5 446.2 L1031.5 442.0 L1033.5 437.9 L1035.5 434.1 L1037.5 430.4 L1039.5 427.0 L1041.5 423.8 L1043.5 421.0 L1045.5 418.6 L1047.5 416.5 L1049.5 414.8 L1051.5 413.5 L1053.5 412.5 L1055.5 411.8 L1057.5 411.5 L1059.5 411.6 L1061.5 412.1 L1063.5 413.1 L1065.5 414.4 L1067.5 416.2 L1069.5 418.4 L1071.5 421.0 L1073.5 423.9 L1075.5 427.2 L1077.5 430.6 L1079.5 434.3 L1081.5 438.1 L1083.5 442.0 L1085.5 446.0 L1087.5 450.0 L1089.5 454.1 L1091.5 458.1 L1093.5 462.2 L1095.5 466.3 L1097.5 470.4 L1099.5 474.4 L1101.5 478.5 L1103.5 482.6 L1105.5 486.6 L1107.5 490.5 L1109.5 494.2 L1111.5 497.8 L1113.5 501.2 L1115.5 504.4 L1117.5 507.4 L1119.5 510.1 L1121.5 512.6 L1123.5 514.8 L1125.5 516.9 L1127.5 518.7 L1129.5 520.3 L1131.5 521.8 L1133.5 523.2 L1135.5 524.5 L1137.5 525.7 L1139.5 526.9 L1141.5 528.1 L1143.5 529.2 L1145.5 530.3 L1147.5 531.3 L1149.5 532.2 L1151.5 533.1 L1153.5 533.9 L1155.5 534.6 L1157.5 535.3 L1159.5 535.9 L1161.5 536.4 L1163.5 536.8 L1165.5 537.2 L1167.5 537.5 L1169.5 537.9 L1171.5 538.2 L1173.5 538.5 L1175.5 538.8 L1177.5 539.1 L1179.5 539.4 L1181.5 539.7 L1183.5 540.0 L1185.5 540.3 L1187.5 540.7 L1189.5 541.0 L1191.5 541.4 L1193.5 541.8 L1195.5 542.1 L1197.5 542.5 L1199.5 542.9 L1201.5 543.3 L1203.5 543.7 L1205.5 544.1 L1207.5 544.6 L1209.5 545.0 L1211.5 545.4 L1213.5 545.8 L1215.5 546.3 L1217.5 546.7 L1219.5 547.1 L1221.5 547.6 L1223.5 548.0 L1225.5 548.4 L1227.5 548.8 L1229.5 549.2 L1231.5 549.6 L1233.5 550.0 L1235.5 550.4 L1237.5 550.8 L1239.5 551.1 L1241.5 551.5 L1243.5 551.9 L1245.5 552.2 L1247.5 552.6 L1249.5 553.0 L1251.5 553.4 L1253.5 553.8 L1255.5 554.1 L1257.5 554.5 L1259.5 554.9 L1261.5 555.2 L1263.5 555.6 L1265.5 555.9 L1267.5 556.2 L1269.5 556.5 L1271.5 556.8 L1273.5 557.1 L1275.5 557.4 L1277.5 557.6 L1279.5 557.9 L1281.5 558.1 L1283.5 558.4 L1285.5 558.6 L1287.5 558.8 L1289.5 559.0 L1291.5 559.2 L1293.5 559.3 L1295.5 559.5 L1297.5 559.6 L1299.5 559.7 L1301.5 559.8 L1303.5 559.9 L1305.5 559.9 L1307.5 560.0 L1309.5 560.1 L1311.5 560.1 L1313.5 560.2 L1315.5 560.2 L1317.5 560.3 L1319.5 560.3 L1321.5 560.3 L1323.5 560.4 L1325.5 560.4 L1327.5 560.4 L1329.5 560.4 L1331.5 560.5 L1333.5 560.5 L1335.5 560.5 L1337.5 560.5 L1339.5 560.5 L1341.5 560.5 L1343.5 560.5 L1345.5 560.5 L1347.5 560.5 L1349.5 560.5 L1351.5 560.5 L1353.5 560.5 L1355.5 560.5 L1357.5 560.5" fill="none" stroke="#ff0000" stroke-width="3.40" stroke-linejoin="round" stroke-linecap="round"/><path d="M767.5 565.3 L769.5 565.3 L771.5 565.3 L773.5 565.3 L775.5 565.3 L777.5 565.3 L779.5 565.3 L781.5 565.3 L783.5 565.3 L785.5 565.3 L787.5 565.3 L789.5 565.3 L791.5 565.3 L793.5 565.3 L795.5 565.3 L797.5 565.3 L799.5 565.3 L801.5 565.3 L803.5 565.3 L805.5 565.3 L807.5 565.3 L809.5 565.3 L811.5 565.3 L813.5 565.3 L815.5 565.3 L817.5 565.3 L819.5 565.3 L821.5 565.3 L823.5 565.3 L825.5 565.3 L827.5 565.3 L829.5 565.3 L831.5 565.3 L833.5 565.3 L835.5 565.3 L837.5 565.3 L839.5 565.3 L841.5 565.3 L843.5 565.3 L845.5 565.3 L847.5 565.3 L849.5 565.3 L851.5 565.3 L853.5 565.3 L855.5 565.3 L857.5 565.3 L859.5 565.3 L861.5 565.3 L863.5 565.3 L865.5 565.3 L867.5 565.3 L869.5 565.3 L871.5 565.3 L873.5 565.3 L875.5 565.3 L877.5 565.3 L879.5 565.3 L881.5 565.3 L883.5 565.3 L885.5 565.3 L887.5 565.3 L889.5 565.3 L891.5 565.3 L893.5 565.3 L895.5 565.3 L897.5 565.3 L899.5 565.3 L901.5 565.3 L903.5 565.3 L905.5 565.3 L907.5 565.3 L909.5 565.3 L911.5 565.3 L913.5 565.3 L915.5 565.3 L917.5 565.3 L919.5 565.3 L921.5 565.3 L923.5 565.3 L925.5 565.3 L927.5 565.3 L929.5 565.3 L931.5 565.3 L933.5 565.3 L935.5 565.3 L937.5 565.3 L939.5 565.3 L941.5 565.3 L943.5 565.3 L945.5 565.3 L947.5 565.3 L949.5 565.3 L951.5 565.3 L953.5 565.3 L955.5 565.3 L957.5 565.3 L959.5 565.3 L961.5 565.3 L963.5 565.3 L965.5 565.3 L967.5 565.2 L969.5 565.2 L971.5 565.2 L973.5 565.2 L975.5 565.2 L977.5 565.2 L979.5 565.2 L981.5 565.1 L983.5 565.1 L985.5 565.1 L987.5 565.1 L989.5 565.0 L991.5 565.0 L993.5 565.0 L995.5 564.9 L997.5 564.9 L999.5 564.8 L1001.5 564.8 L1003.5 564.7 L1005.5 564.7 L1007.5 564.6 L1009.5 564.5 L1011.5 564.5 L1013.5 564.4 L1015.5 564.3 L1017.5 564.2 L1019.5 564.1 L1021.5 564.0 L1023.5 563.8 L1025.5 563.7 L1027.5 563.6 L1029.5 563.4 L1031.5 563.3 L1033.5 563.1 L1035.5 562.9 L1037.5 562.7 L1039.5 562.5 L1041.5 562.2 L1043.5 562.0 L1045.5 561.7 L1047.5 561.5 L1049.5 561.2 L1051.5 560.9 L1053.5 560.5 L1055.5 560.2 L1057.5 559.8 L1059.5 559.4 L1061.5 559.0 L1063.5 558.6 L1065.5 558.1 L1067.5 557.7 L1069.5 557.2 L1071.5 556.7 L1073.5 556.1 L1075.5 555.6 L1077.5 555.0 L1079.5 554.5 L1081.5 553.9 L1083.5 553.3 L1085.5 552.7 L1087.5 552.1 L1089.5 551.5 L1091.5 551.0 L1093.5 550.4 L1095.5 549.8 L1097.5 549.2 L1099.5 548.6 L1101.5 548.1 L1103.5 547.5 L1105.5 546.9 L1107.5 546.4 L1109.5 545.9 L1111.5 545.4 L1113.5 544.9 L1115.5 544.4 L1117.5 543.9 L1119.5 543.4 L1121.5 543.0 L1123.5 542.6 L1125.5 542.1 L1127.5 541.8 L1129.5 541.4 L1131.5 541.0 L1133.5 540.7 L1135.5 540.4 L1137.5 540.1 L1139.5 539.8 L1141.5 539.6 L1143.5 539.3 L1145.5 539.1 L1147.5 539.0 L1149.5 538.8 L1151.5 538.7 L1153.5 538.6 L1155.5 538.5 L1157.5 538.5 L1159.5 538.5 L1161.5 538.5 L1163.5 538.5 L1165.5 538.6 L1167.5 538.7 L1169.5 538.8 L1171.5 538.9 L1173.5 539.1 L1175.5 539.3 L1177.5 539.5 L1179.5 539.7 L1181.5 540.0 L1183.5 540.3 L1185.5 540.6 L1187.5 540.9 L1189.5 541.2 L1191.5 541.6 L1193.5 541.9 L1195.5 542.3 L1197.5 542.7 L1199.5 543.1 L1201.5 543.5 L1203.5 543.9 L1205.5 544.4 L1207.5 544.8 L1209.5 545.3 L1211.5 545.7 L1213.5 546.2 L1215.5 546.6 L1217.5 547.1 L1219.5 547.5 L1221.5 548.0 L1223.5 548.5 L1225.5 548.9 L1227.5 549.3 L1229.5 549.8 L1231.5 550.2 L1233.5 550.7 L1235.5 551.1 L1237.5 551.5 L1239.5 551.9 L1241.5 552.3 L1243.5 552.7 L1245.5 553.1 L1247.5 553.4 L1249.5 553.8 L1251.5 554.1 L1253.5 554.5 L1255.5 554.8 L1257.5 555.1 L1259.5 555.4 L1261.5 555.7 L1263.5 555.9 L1265.5 556.2 L1267.5 556.5 L1269.5 556.7 L1271.5 556.9 L1273.5 557.1 L1275.5 557.4 L1277.5 557.6 L1279.5 557.7 L1281.5 557.9 L1283.5 558.1 L1285.5 558.2 L1287.5 558.4 L1289.5 558.5 L1291.5 558.7 L1293.5 558.8 L1295.5 558.9 L1297.5 559.0 L1299.5 559.1 L1301.5 559.2 L1303.5 559.3 L1305.5 559.4 L1307.5 559.4 L1309.5 559.5 L1311.5 559.6 L1313.5 559.6 L1315.5 559.7 L1317.5 559.8 L1319.5 559.8 L1321.5 559.8 L1323.5 559.9 L1325.5 559.9 L1327.5 560.0 L1329.5 560.0 L1331.5 560.0 L1333.5 560.0 L1335.5 560.1 L1337.5 560.1 L1339.5 560.1 L1341.5 560.1 L1343.5 560.1 L1345.5 560.2 L1347.5 560.2 L1349.5 560.2 L1351.5 560.2 L1353.5 560.2 L1355.5 560.2 L1357.5 560.2" fill="none" stroke="#0000ff" stroke-width="4.20" stroke-linejoin="round" stroke-linecap="round"/><line x1="1062.2" y1="86.7" x2="1064.6" y2="594.0" stroke="#000000" stroke-width="2.80" stroke-dasharray="21 20.7"/><line x1="1055.8" y1="411.9" x2="1055.8" y2="594.0" stroke="#000000" stroke-width="2.80" stroke-dasharray="21.5 20.1" stroke-dashoffset="10.5"/><line x1="516.8" y1="154.7" x2="504.4" y2="190.3" stroke="#0000ff" stroke-width="3.00"/><polygon points="498.8,188.0 494.5,216.5 510.0,192.7" fill="#0000ff"/><line x1="1214.6" y1="228.3" x2="1197.0" y2="266.0" stroke="#0000ff" stroke-width="3.00"/><polygon points="1191.0,262.0 1184.8,290.8 1202.9,270.0" fill="#0000ff"/><path d="M76.5 913.5 L79.5 914.0 L82.5 913.6 L85.5 914.3 L88.5 914.1 L91.5 913.6 L94.5 913.6 L97.5 913.7 L100.5 914.2 L103.5 913.7 L106.5 913.5 L109.5 913.9 L112.5 914.0 L115.5 913.7 L118.5 914.3 L121.5 914.0 L124.5 914.0 L127.5 913.7 L130.5 913.9 L133.5 913.9 L136.5 913.3 L139.5 914.0 L142.5 913.5 L145.5 913.9 L148.5 913.5 L151.5 914.4 L154.5 914.0 L157.5 914.1 L160.5 914.1 L163.5 913.6 L166.5 913.3 L169.5 913.8 L172.5 914.1 L175.5 913.9 L178.5 914.1 L181.5 914.1 L184.5 913.5 L187.5 914.0 L190.5 914.4 L193.5 913.8 L196.5 913.4 L199.5 913.8 L202.5 913.8 L205.5 914.0 L208.5 913.7 L211.5 913.9 L214.5 913.3 L217.5 914.1 L220.5 914.3 L223.5 914.2 L226.5 913.5 L229.5 914.0 L232.5 913.2 L235.5 914.0" fill="none" stroke="#000000" stroke-width="3.80" stroke-linejoin="round" stroke-linecap="round"/><path d="M237.2 913.1 L239.2 912.5 L241.2 913.1 L243.2 912.9 L245.2 913.3 L247.2 912.8 L249.2 912.7 L251.2 911.5 L253.2 911.8 L255.2 912.1 L257.2 912.4 L259.2 912.1 L261.2 912.7 L263.2 911.4 L265.2 911.6 L267.2 911.8 L269.2 911.4 L271.2 911.6 L273.2 910.9 L275.2 911.8 L277.2 910.7 L279.2 911.3 L281.2 910.6 L283.2 911.1 L285.2 909.5 L287.2 910.2 L289.2 909.6 L291.2 909.7 L293.2 909.9 L295.2 908.5 L297.2 908.1 L299.2 907.9 L301.2 908.2 L303.2 906.8 L305.2 907.4 L307.2 906.2 L309.2 905.8 L311.2 905.6 L313.2 905.4 L315.2 904.2 L317.2 903.5 L319.2 902.8 L321.2 901.7 L323.2 899.4 L325.2 899.2 L327.2 897.9 L329.2 896.8 L331.2 895.4 L333.2 892.6 L335.2 889.9 L337.2 886.7 L339.2 884.3 L341.2 881.5 L343.2 878.3 L345.2 873.5 L347.2 870.2 L349.2 866.4 L351.2 862.9 L353.2 858.1 L355.2 853.9 L357.2 850.5 L359.2 847.9 L361.2 845.9 L363.2 845.8 L365.2 846.1 L367.2 847.2 L369.2 849.7 L371.2 851.9 L373.2 855.9 L375.2 859.5 L377.2 863.9 L379.2 868.6 L381.2 871.9 L383.2 874.8 L385.2 879.2 L387.2 882.2 L389.2 884.8 L391.2 887.9 L393.2 891.2 L395.2 893.7 L397.2 894.5 L399.2 896.9 L401.2 898.5 L403.2 898.6 L405.2 900.2 L407.2 901.2 L409.2 902.2 L411.2 902.0 L413.2 903.3 L415.2 904.5 L417.2 905.1 L419.2 905.8 L421.2 905.1 L423.2 906.5 L425.2 906.2 L427.2 905.5 L429.2 906.8 L431.2 906.4 L433.2 907.1 L435.2 906.9 L437.2 907.7 L439.2 907.4 L441.2 907.3 L443.2 908.0 L445.2 907.8 L447.2 907.5 L449.2 908.5 L451.2 907.7 L453.2 907.7 L455.2 907.8 L457.2 907.4 L459.2 907.9 L461.2 909.2 L463.2 907.8 L465.2 908.3 L467.2 907.7 L469.2 907.9 L471.2 908.8 L473.2 908.3 L475.2 907.4 L477.2 907.6 L479.2 906.9 L481.2 906.7 L483.2 906.4 L485.2 906.1 L487.2 906.4 L489.2 906.2 L491.2 905.8 L493.2 905.0 L495.2 904.0 L497.2 904.1 L499.2 903.2 L501.2 903.5 L503.2 902.8 L505.2 902.3 L507.2 901.1 L509.2 899.6 L511.2 900.3 L513.2 899.7 L515.2 897.6 L517.2 897.7 L519.2 897.5 L521.2 895.6 L523.2 896.3 L525.2 894.5 L527.2 893.4 L529.2 893.9 L531.2 892.7 L533.2 891.6 L535.2 891.8 L537.2 889.9 L539.2 891.3 L541.2 889.6 L543.2 889.8 L545.2 889.2 L547.2 889.5 L549.2 889.6 L551.2 888.7 L553.2 889.5 L555.2 889.1 L557.2 889.1 L559.2 889.6 L561.2 889.5 L563.2 890.0 L565.2 891.3 L567.2 891.3 L569.2 892.5 L571.2 892.7 L573.2 892.6 L575.2 892.8 L577.2 894.1 L579.2 895.3 L581.2 895.8 L583.2 896.1 L585.2 897.7 L587.2 897.0 L589.2 897.9 L591.2 899.3 L593.2 900.9 L595.2 900.6 L597.2 900.5 L599.2 901.8 L601.2 902.4 L603.2 903.0 L605.2 902.8 L607.2 903.0 L609.2 903.8 L611.2 904.3 L613.2 905.2 L615.2 905.7 L617.2 904.6 L619.2 904.9 L621.2 905.4 L623.2 905.4 L625.2 906.0 L627.2 906.1 L629.2 906.1 L631.2 906.8 L633.2 906.1 L635.2 905.7 L637.2 905.6 L639.2 905.9 L641.2 905.9 L643.2 905.5 L645.2 906.8 L647.2 906.6 L649.2 906.3 L651.2 906.1 L653.2 905.8 L655.2 906.1 L657.2 907.5 L659.2 905.4 L661.2 906.6 L663.2 906.8 L665.2 906.5 L667.2 906.2" fill="none" stroke="#000000" stroke-width="3.60" stroke-linejoin="round" stroke-linecap="round"/><path d="M236.0 912.5 L238.0 912.4 L240.0 912.4 L242.0 912.3 L244.0 912.2 L246.0 912.1 L248.0 912.0 L250.0 911.9 L252.0 911.8 L254.0 911.7 L256.0 911.6 L258.0 911.5 L260.0 911.4 L262.0 911.3 L264.0 911.2 L266.0 911.0 L268.0 910.9 L270.0 910.8 L272.0 910.6 L274.0 910.5 L276.0 910.3 L278.0 910.1 L280.0 910.0 L282.0 909.8 L284.0 909.6 L286.0 909.4 L288.0 909.2 L290.0 908.9 L292.0 908.7 L294.0 908.4 L296.0 908.1 L298.0 907.8 L300.0 907.5 L302.0 907.1 L304.0 906.7 L306.0 906.3 L308.0 905.8 L310.0 905.2 L312.0 904.6 L314.0 903.9 L316.0 903.1 L318.0 902.2 L320.0 901.2 L322.0 900.1 L324.0 898.8 L326.0 897.3 L328.0 895.6 L330.0 893.7 L332.0 891.6 L334.0 889.2 L336.0 886.6 L338.0 883.7 L340.0 880.5 L342.0 877.1 L344.0 873.4 L346.0 869.5 L348.0 865.4 L350.0 861.3 L352.0 857.3 L354.0 853.5 L356.0 850.2 L358.0 847.5 L360.0 845.6 L362.0 844.7 L364.0 844.9 L366.0 846.2 L368.0 848.5 L370.0 851.5 L372.0 855.2 L374.0 859.1 L376.0 863.2 L378.0 867.3 L380.0 871.3 L382.0 875.1 L384.0 878.7 L386.0 882.0 L388.0 885.0 L390.0 887.7 L392.0 890.1 L394.0 892.2 L396.0 894.1 L398.0 895.8 L400.0 897.3 L402.0 898.6 L404.0 899.7 L406.0 900.6 L408.0 901.5 L410.0 902.2 L412.0 902.8 L414.0 903.4 L416.0 903.9 L418.0 904.3 L420.0 904.7 L422.0 905.0 L424.0 905.3 L426.0 905.6 L428.0 905.8 L430.0 906.0 L432.0 906.2 L434.0 906.4 L436.0 906.5 L438.0 906.7 L440.0 906.8 L442.0 906.9 L444.0 907.0 L446.0 907.1 L448.0 907.2 L450.0 907.3 L452.0 907.4 L454.0 907.5 L456.0 907.5 L458.0 907.6 L460.0 907.6 L462.0 907.7 L464.0 907.7 L466.0 907.8 L468.0 907.8 L470.0 907.8 L472.0 907.8 L474.0 907.9 L476.0 907.9 L478.0 907.9 L480.0 907.9 L482.0 907.9 L484.0 907.9 L486.0 908.0 L488.0 908.0 L490.0 908.0 L492.0 908.0 L494.0 908.0 L496.0 908.0 L498.0 908.0 L500.0 908.0 L502.0 908.0 L504.0 907.9 L506.0 907.9 L508.0 907.9 L510.0 907.9 L512.0 907.9 L514.0 907.9 L516.0 907.9 L518.0 907.9 L520.0 907.9 L522.0 907.8 L524.0 907.8 L526.0 907.8 L528.0 907.8 L530.0 907.8 L532.0 907.7 L534.0 907.7 L536.0 907.7 L538.0 907.7 L540.0 907.7 L542.0 907.6 L544.0 907.6 L546.0 907.6 L548.0 907.6 L550.0 907.6 L552.0 907.5 L554.0 907.5 L556.0 907.5 L558.0 907.5 L560.0 907.4 L562.0 907.4 L564.0 907.4 L566.0 907.3 L568.0 907.3 L570.0 907.3 L572.0 907.3 L574.0 907.2 L576.0 907.2 L578.0 907.2 L580.0 907.2 L582.0 907.1 L584.0 907.1 L586.0 907.1 L588.0 907.0 L590.0 907.0 L592.0 907.0 L594.0 907.0 L596.0 906.9 L598.0 906.9 L600.0 906.9 L602.0 906.8 L604.0 906.8 L606.0 906.8 L608.0 906.7 L610.0 906.7 L612.0 906.7 L614.0 906.6 L616.0 906.6 L618.0 906.6 L620.0 906.6 L622.0 906.5 L624.0 906.5 L626.0 906.5 L628.0 906.4 L630.0 906.4 L632.0 906.4 L634.0 906.3 L636.0 906.3 L638.0 906.3 L640.0 906.2 L642.0 906.2 L644.0 906.2 L646.0 906.1 L648.0 906.1 L650.0 906.1 L652.0 906.0 L654.0 906.0 L656.0 906.0 L658.0 905.9 L660.0 905.9 L662.0 905.9 L664.0 905.8 L666.0 905.8" fill="none" stroke="#ff0000" stroke-width="3.60" stroke-linejoin="round" stroke-linecap="round"/><path d="M236.0 913.9 L238.0 913.9 L240.0 913.9 L242.0 913.9 L244.0 913.9 L246.0 913.9 L248.0 913.9 L250.0 913.9 L252.0 913.9 L254.0 913.9 L256.0 913.9 L258.0 913.9 L260.0 913.9 L262.0 913.9 L264.0 913.9 L266.0 913.9 L268.0 913.9 L270.0 913.9 L272.0 913.9 L274.0 913.8 L276.0 913.8 L278.0 913.8 L280.0 913.8 L282.0 913.8 L284.0 913.8 L286.0 913.8 L288.0 913.8 L290.0 913.8 L292.0 913.7 L294.0 913.7 L296.0 913.7 L298.0 913.7 L300.0 913.6 L302.0 913.6 L304.0 913.6 L306.0 913.5 L308.0 913.5 L310.0 913.5 L312.0 913.4 L314.0 913.3 L316.0 913.3 L318.0 913.2 L320.0 913.1 L322.0 913.1 L324.0 913.0 L326.0 912.9 L328.0 912.8 L330.0 912.6 L332.0 912.5 L334.0 912.4 L336.0 912.3 L338.0 912.1 L340.0 912.0 L342.0 911.8 L344.0 911.6 L346.0 911.5 L348.0 911.3 L350.0 911.2 L352.0 911.0 L354.0 910.8 L356.0 910.7 L358.0 910.5 L360.0 910.3 L362.0 910.2 L364.0 910.0 L366.0 909.9 L368.0 909.8 L370.0 909.6 L372.0 909.5 L374.0 909.4 L376.0 909.3 L378.0 909.2 L380.0 909.1 L382.0 909.1 L384.0 909.0 L386.0 908.9 L388.0 908.9 L390.0 908.8 L392.0 908.8 L394.0 908.7 L396.0 908.7 L398.0 908.6 L400.0 908.6 L402.0 908.6 L404.0 908.6 L406.0 908.5 L408.0 908.5 L410.0 908.5 L412.0 908.5 L414.0 908.5 L416.0 908.4 L418.0 908.4 L420.0 908.4 L422.0 908.4 L424.0 908.4 L426.0 908.4 L428.0 908.4 L430.0 908.4 L432.0 908.3 L434.0 908.3 L436.0 908.3 L438.0 908.3 L440.0 908.3 L442.0 908.3 L444.0 908.3 L446.0 908.2 L448.0 908.2 L450.0 908.2 L452.0 908.1 L454.0 908.1 L456.0 908.1 L458.0 908.0 L460.0 907.9 L462.0 907.9 L464.0 907.8 L466.0 907.7 L468.0 907.6 L470.0 907.4 L472.0 907.3 L474.0 907.1 L476.0 907.0 L478.0 906.7 L480.0 906.5 L482.0 906.3 L484.0 906.0 L486.0 905.6 L488.0 905.3 L490.0 904.9 L492.0 904.5 L494.0 904.0 L496.0 903.6 L498.0 903.0 L500.0 902.5 L502.0 901.9 L504.0 901.3 L506.0 900.6 L508.0 899.9 L510.0 899.2 L512.0 898.5 L514.0 897.8 L516.0 897.0 L518.0 896.3 L520.0 895.5 L522.0 894.8 L524.0 894.0 L526.0 893.3 L528.0 892.6 L530.0 892.0 L532.0 891.4 L534.0 890.8 L536.0 890.3 L538.0 889.8 L540.0 889.4 L542.0 889.1 L544.0 888.8 L546.0 888.6 L548.0 888.5 L550.0 888.5 L552.0 888.5 L554.0 888.7 L556.0 888.8 L558.0 889.1 L560.0 889.4 L562.0 889.8 L564.0 890.3 L566.0 890.8 L568.0 891.3 L570.0 891.9 L572.0 892.5 L574.0 893.2 L576.0 893.9 L578.0 894.5 L580.0 895.2 L582.0 895.9 L584.0 896.6 L586.0 897.3 L588.0 898.0 L590.0 898.6 L592.0 899.2 L594.0 899.8 L596.0 900.4 L598.0 900.9 L600.0 901.4 L602.0 901.9 L604.0 902.4 L606.0 902.8 L608.0 903.2 L610.0 903.5 L612.0 903.8 L614.0 904.1 L616.0 904.4 L618.0 904.6 L620.0 904.8 L622.0 905.0 L624.0 905.1 L626.0 905.3 L628.0 905.4 L630.0 905.5 L632.0 905.6 L634.0 905.7 L636.0 905.7 L638.0 905.8 L640.0 905.8 L642.0 905.9 L644.0 905.9 L646.0 905.9 L648.0 906.0 L650.0 906.0 L652.0 906.0 L654.0 906.0 L656.0 906.0 L658.0 906.0 L660.0 906.0 L662.0 906.0 L664.0 906.0 L666.0 906.0" fill="none" stroke="#0000ff" stroke-width="4.00" stroke-linejoin="round" stroke-linecap="round"/><path d="M76.5 1022.8 L79.5 1022.3 L82.5 1022.7 L85.5 1023.0 L88.5 1022.3 L91.5 1022.4 L94.5 1022.6 L97.5 1022.8 L100.5 1022.9 L103.5 1022.8 L106.5 1022.4 L109.5 1022.3 L112.5 1022.7 L115.5 1022.7 L118.5 1022.3 L121.5 1022.6 L124.5 1022.7 L127.5 1022.9 L130.5 1022.4 L133.5 1022.7 L136.5 1022.3 L139.5 1022.5 L142.5 1022.6 L145.5 1023.0 L148.5 1023.4 L151.5 1022.7 L154.5 1022.7 L157.5 1022.9 L160.5 1022.3 L163.5 1022.8 L166.5 1022.3 L169.5 1023.0 L172.5 1023.0 L175.5 1022.7 L178.5 1022.4 L181.5 1023.0 L184.5 1022.7 L187.5 1022.6 L190.5 1022.7 L193.5 1022.2 L196.5 1022.7 L199.5 1022.8 L202.5 1022.7 L205.5 1022.6 L208.5 1022.4 L211.5 1022.8 L214.5 1022.7 L217.5 1022.6 L220.5 1022.5 L223.5 1022.8 L226.5 1022.9 L229.5 1022.7 L232.5 1022.8 L235.5 1022.9" fill="none" stroke="#000000" stroke-width="3.80" stroke-linejoin="round" stroke-linecap="round"/><path d="M237.2 1022.6 L239.2 1021.8 L241.2 1021.5 L243.2 1021.3 L245.2 1021.5 L247.2 1021.6 L249.2 1021.7 L251.2 1021.0 L253.2 1021.2 L255.2 1020.5 L257.2 1021.5 L259.2 1020.6 L261.2 1020.8 L263.2 1020.2 L265.2 1020.3 L267.2 1019.9 L269.2 1021.0 L271.2 1020.2 L273.2 1019.8 L275.2 1019.3 L277.2 1019.3 L279.2 1019.7 L281.2 1020.1 L283.2 1018.3 L285.2 1018.4 L287.2 1018.6 L289.2 1018.1 L291.2 1017.4 L293.2 1017.9 L295.2 1018.0 L297.2 1016.6 L299.2 1017.2 L301.2 1017.2 L303.2 1016.8 L305.2 1015.7 L307.2 1016.6 L309.2 1015.3 L311.2 1014.0 L313.2 1014.3 L315.2 1012.5 L317.2 1012.8 L319.2 1010.8 L321.2 1010.8 L323.2 1008.9 L325.2 1008.5 L327.2 1006.8 L329.2 1004.9 L331.2 1002.8 L333.2 1001.2 L335.2 997.3 L337.2 995.8 L339.2 992.8 L341.2 989.6 L343.2 986.2 L345.2 983.9 L347.2 978.1 L349.2 974.3 L351.2 969.8 L353.2 966.4 L355.2 960.7 L357.2 959.0 L359.2 955.0 L361.2 952.2 L363.2 951.8 L365.2 952.3 L367.2 953.7 L369.2 955.8 L371.2 959.3 L373.2 962.6 L375.2 966.6 L377.2 969.8 L379.2 975.3 L381.2 979.7 L383.2 982.9 L385.2 985.9 L387.2 989.6 L389.2 994.2 L391.2 995.8 L393.2 998.3 L395.2 1000.5 L397.2 1003.2 L399.2 1004.3 L401.2 1005.7 L403.2 1006.7 L405.2 1008.6 L407.2 1010.2 L409.2 1010.5 L411.2 1011.7 L413.2 1012.1 L415.2 1012.6 L417.2 1013.1 L419.2 1013.5 L421.2 1014.4 L423.2 1014.5 L425.2 1014.3 L427.2 1014.9 L429.2 1015.0 L431.2 1015.5 L433.2 1015.6 L435.2 1015.9 L437.2 1015.1 L439.2 1016.2 L441.2 1016.8 L443.2 1015.6 L445.2 1017.2 L447.2 1016.6 L449.2 1016.5 L451.2 1015.8 L453.2 1017.3 L455.2 1016.3 L457.2 1016.6 L459.2 1017.2 L461.2 1016.5 L463.2 1016.6 L465.2 1016.5 L467.2 1017.0 L469.2 1017.2 L471.2 1017.0 L473.2 1016.8 L475.2 1016.3 L477.2 1016.3 L479.2 1015.7 L481.2 1016.7 L483.2 1015.6 L485.2 1014.2 L487.2 1014.3 L489.2 1015.2 L491.2 1013.3 L493.2 1013.3 L495.2 1013.3 L497.2 1012.0 L499.2 1012.5 L501.2 1012.2 L503.2 1010.4 L505.2 1010.7 L507.2 1009.0 L509.2 1008.2 L511.2 1008.1 L513.2 1007.3 L515.2 1006.1 L517.2 1006.1 L519.2 1004.1 L521.2 1003.7 L523.2 1002.8 L525.2 1002.9 L527.2 1002.2 L529.2 1001.5 L531.2 999.8 L533.2 999.9 L535.2 999.5 L537.2 998.0 L539.2 997.9 L541.2 998.3 L543.2 998.0 L545.2 997.6 L547.2 997.6 L549.2 997.4 L551.2 997.3 L553.2 997.2 L555.2 997.0 L557.2 997.6 L559.2 997.8 L561.2 999.6 L563.2 999.0 L565.2 999.3 L567.2 999.8 L569.2 1000.4 L571.2 1001.0 L573.2 1002.1 L575.2 1002.5 L577.2 1003.6 L579.2 1003.6 L581.2 1004.8 L583.2 1005.8 L585.2 1005.5 L587.2 1006.9 L589.2 1007.6 L591.2 1008.0 L593.2 1008.6 L595.2 1008.5 L597.2 1010.6 L599.2 1010.1 L601.2 1010.4 L603.2 1011.9 L605.2 1011.1 L607.2 1012.9 L609.2 1013.0 L611.2 1013.4 L613.2 1013.4 L615.2 1013.1 L617.2 1013.0 L619.2 1014.9 L621.2 1014.2 L623.2 1014.3 L625.2 1015.5 L627.2 1014.6 L629.2 1014.9 L631.2 1015.0 L633.2 1015.1 L635.2 1014.8 L637.2 1015.1 L639.2 1016.0 L641.2 1015.8 L643.2 1014.0 L645.2 1014.5 L647.2 1015.7 L649.2 1015.5 L651.2 1015.4 L653.2 1016.1 L655.2 1014.7 L657.2 1016.2 L659.2 1015.6 L661.2 1015.8 L663.2 1015.6 L665.2 1015.9 L667.2 1015.3" fill="none" stroke="#000000" stroke-width="3.60" stroke-linejoin="round" stroke-linecap="round"/><path d="M236.0 1021.2 L238.0 1021.1 L240.0 1021.0 L242.0 1020.9 L244.0 1020.9 L246.0 1020.8 L248.0 1020.7 L250.0 1020.6 L252.0 1020.5 L254.0 1020.4 L256.0 1020.3 L258.0 1020.2 L260.0 1020.1 L262.0 1019.9 L264.0 1019.8 L266.0 1019.7 L268.0 1019.6 L270.0 1019.4 L272.0 1019.3 L274.0 1019.1 L276.0 1019.0 L278.0 1018.8 L280.0 1018.6 L282.0 1018.4 L284.0 1018.2 L286.0 1018.0 L288.0 1017.8 L290.0 1017.6 L292.0 1017.3 L294.0 1017.1 L296.0 1016.8 L298.0 1016.5 L300.0 1016.1 L302.0 1015.7 L304.0 1015.3 L306.0 1014.9 L308.0 1014.4 L310.0 1013.8 L312.0 1013.2 L314.0 1012.5 L316.0 1011.7 L318.0 1010.8 L320.0 1009.8 L322.0 1008.6 L324.0 1007.3 L326.0 1005.8 L328.0 1004.1 L330.0 1002.2 L332.0 1000.0 L334.0 997.6 L336.0 994.9 L338.0 992.0 L340.0 988.7 L342.0 985.2 L344.0 981.5 L346.0 977.5 L348.0 973.3 L350.0 969.1 L352.0 965.0 L354.0 961.1 L356.0 957.6 L358.0 954.7 L360.0 952.7 L362.0 951.7 L364.0 951.8 L366.0 953.0 L368.0 955.2 L370.0 958.3 L372.0 962.0 L374.0 966.0 L376.0 970.3 L378.0 974.5 L380.0 978.6 L382.0 982.5 L384.0 986.2 L386.0 989.6 L388.0 992.7 L390.0 995.5 L392.0 998.1 L394.0 1000.3 L396.0 1002.3 L398.0 1004.0 L400.0 1005.6 L402.0 1006.9 L404.0 1008.1 L406.0 1009.1 L408.0 1009.9 L410.0 1010.7 L412.0 1011.4 L414.0 1011.9 L416.0 1012.5 L418.0 1012.9 L420.0 1013.3 L422.0 1013.6 L424.0 1013.9 L426.0 1014.2 L428.0 1014.5 L430.0 1014.7 L432.0 1014.9 L434.0 1015.1 L436.0 1015.3 L438.0 1015.4 L440.0 1015.5 L442.0 1015.7 L444.0 1015.8 L446.0 1015.9 L448.0 1016.0 L450.0 1016.1 L452.0 1016.2 L454.0 1016.2 L456.0 1016.3 L458.0 1016.4 L460.0 1016.4 L462.0 1016.5 L464.0 1016.5 L466.0 1016.6 L468.0 1016.6 L470.0 1016.6 L472.0 1016.7 L474.0 1016.7 L476.0 1016.7 L478.0 1016.7 L480.0 1016.7 L482.0 1016.8 L484.0 1016.8 L486.0 1016.8 L488.0 1016.8 L490.0 1016.8 L492.0 1016.8 L494.0 1016.8 L496.0 1016.8 L498.0 1016.8 L500.0 1016.8 L502.0 1016.8 L504.0 1016.8 L506.0 1016.8 L508.0 1016.8 L510.0 1016.8 L512.0 1016.8 L514.0 1016.8 L516.0 1016.7 L518.0 1016.7 L520.0 1016.7 L522.0 1016.7 L524.0 1016.7 L526.0 1016.7 L528.0 1016.7 L530.0 1016.6 L532.0 1016.6 L534.0 1016.6 L536.0 1016.6 L538.0 1016.6 L540.0 1016.6 L542.0 1016.5 L544.0 1016.5 L546.0 1016.5 L548.0 1016.5 L550.0 1016.5 L552.0 1016.4 L554.0 1016.4 L556.0 1016.4 L558.0 1016.4 L560.0 1016.3 L562.0 1016.3 L564.0 1016.3 L566.0 1016.3 L568.0 1016.2 L570.0 1016.2 L572.0 1016.2 L574.0 1016.2 L576.0 1016.1 L578.0 1016.1 L580.0 1016.1 L582.0 1016.1 L584.0 1016.0 L586.0 1016.0 L588.0 1016.0 L590.0 1015.9 L592.0 1015.9 L594.0 1015.9 L596.0 1015.9 L598.0 1015.8 L600.0 1015.8 L602.0 1015.8 L604.0 1015.7 L606.0 1015.7 L608.0 1015.7 L610.0 1015.7 L612.0 1015.6 L614.0 1015.6 L616.0 1015.6 L618.0 1015.5 L620.0 1015.5 L622.0 1015.5 L624.0 1015.5 L626.0 1015.4 L628.0 1015.4 L630.0 1015.4 L632.0 1015.3 L634.0 1015.3 L636.0 1015.3 L638.0 1015.2 L640.0 1015.2 L642.0 1015.2 L644.0 1015.1 L646.0 1015.1 L648.0 1015.1 L650.0 1015.0 L652.0 1015.0 L654.0 1015.0 L656.0 1015.0 L658.0 1014.9 L660.0 1014.9 L662.0 1014.9 L664.0 1014.8 L666.0 1014.8" fill="none" stroke="#ff0000" stroke-width="3.60" stroke-linejoin="round" stroke-linecap="round"/><path d="M236.0 1022.6 L238.0 1022.6 L240.0 1022.6 L242.0 1022.6 L244.0 1022.6 L246.0 1022.6 L248.0 1022.6 L250.0 1022.6 L252.0 1022.6 L254.0 1022.6 L256.0 1022.6 L258.0 1022.6 L260.0 1022.6 L262.0 1022.6 L264.0 1022.6 L266.0 1022.6 L268.0 1022.6 L270.0 1022.6 L272.0 1022.6 L274.0 1022.5 L276.0 1022.5 L278.0 1022.5 L280.0 1022.5 L282.0 1022.5 L284.0 1022.5 L286.0 1022.5 L288.0 1022.5 L290.0 1022.5 L292.0 1022.4 L294.0 1022.4 L296.0 1022.4 L298.0 1022.4 L300.0 1022.4 L302.0 1022.3 L304.0 1022.3 L306.0 1022.3 L308.0 1022.2 L310.0 1022.2 L312.0 1022.1 L314.0 1022.1 L316.0 1022.0 L318.0 1021.9 L320.0 1021.9 L322.0 1021.8 L324.0 1021.7 L326.0 1021.6 L328.0 1021.5 L330.0 1021.4 L332.0 1021.3 L334.0 1021.1 L336.0 1021.0 L338.0 1020.9 L340.0 1020.7 L342.0 1020.6 L344.0 1020.4 L346.0 1020.2 L348.0 1020.1 L350.0 1019.9 L352.0 1019.7 L354.0 1019.6 L356.0 1019.4 L358.0 1019.3 L360.0 1019.1 L362.0 1019.0 L364.0 1018.8 L366.0 1018.7 L368.0 1018.6 L370.0 1018.4 L372.0 1018.3 L374.0 1018.2 L376.0 1018.1 L378.0 1018.0 L380.0 1017.9 L382.0 1017.9 L384.0 1017.8 L386.0 1017.7 L388.0 1017.7 L390.0 1017.6 L392.0 1017.6 L394.0 1017.5 L396.0 1017.5 L398.0 1017.5 L400.0 1017.4 L402.0 1017.4 L404.0 1017.4 L406.0 1017.4 L408.0 1017.3 L410.0 1017.3 L412.0 1017.3 L414.0 1017.3 L416.0 1017.3 L418.0 1017.3 L420.0 1017.2 L422.0 1017.2 L424.0 1017.2 L426.0 1017.2 L428.0 1017.2 L430.0 1017.2 L432.0 1017.2 L434.0 1017.2 L436.0 1017.1 L438.0 1017.1 L440.0 1017.1 L442.0 1017.1 L444.0 1017.1 L446.0 1017.0 L448.0 1017.0 L450.0 1017.0 L452.0 1016.9 L454.0 1016.9 L456.0 1016.8 L458.0 1016.8 L460.0 1016.7 L462.0 1016.6 L464.0 1016.5 L466.0 1016.4 L468.0 1016.3 L470.0 1016.2 L472.0 1016.0 L474.0 1015.8 L476.0 1015.6 L478.0 1015.4 L480.0 1015.1 L482.0 1014.9 L484.0 1014.5 L486.0 1014.2 L488.0 1013.8 L490.0 1013.4 L492.0 1013.0 L494.0 1012.5 L496.0 1011.9 L498.0 1011.4 L500.0 1010.8 L502.0 1010.2 L504.0 1009.5 L506.0 1008.8 L508.0 1008.1 L510.0 1007.4 L512.0 1006.6 L514.0 1005.8 L516.0 1005.0 L518.0 1004.3 L520.0 1003.5 L522.0 1002.7 L524.0 1002.0 L526.0 1001.2 L528.0 1000.5 L530.0 999.9 L532.0 999.3 L534.0 998.7 L536.0 998.2 L538.0 997.7 L540.0 997.4 L542.0 997.1 L544.0 996.8 L546.0 996.7 L548.0 996.6 L550.0 996.6 L552.0 996.7 L554.0 996.9 L556.0 997.1 L558.0 997.4 L560.0 997.8 L562.0 998.2 L564.0 998.7 L566.0 999.3 L568.0 999.9 L570.0 1000.5 L572.0 1001.2 L574.0 1001.9 L576.0 1002.6 L578.0 1003.3 L580.0 1004.1 L582.0 1004.8 L584.0 1005.5 L586.0 1006.2 L588.0 1006.9 L590.0 1007.6 L592.0 1008.2 L594.0 1008.8 L596.0 1009.4 L598.0 1009.9 L600.0 1010.5 L602.0 1010.9 L604.0 1011.4 L606.0 1011.8 L608.0 1012.2 L610.0 1012.5 L612.0 1012.8 L614.0 1013.1 L616.0 1013.4 L618.0 1013.6 L620.0 1013.8 L622.0 1014.0 L624.0 1014.2 L626.0 1014.3 L628.0 1014.4 L630.0 1014.5 L632.0 1014.6 L634.0 1014.7 L636.0 1014.7 L638.0 1014.8 L640.0 1014.8 L642.0 1014.9 L644.0 1014.9 L646.0 1014.9 L648.0 1015.0 L650.0 1015.0 L652.0 1015.0 L654.0 1015.0 L656.0 1015.0 L658.0 1015.0 L660.0 1015.0 L662.0 1015.0 L664.0 1015.0 L666.0 1015.0" fill="none" stroke="#0000ff" stroke-width="4.00" stroke-linejoin="round" stroke-linecap="round"/><path d="M76.5 1131.8 L79.5 1132.1 L82.5 1131.9 L85.5 1131.6 L88.5 1132.2 L91.5 1132.2 L94.5 1132.3 L97.5 1131.9 L100.5 1132.0 L103.5 1131.8 L106.5 1131.7 L109.5 1131.9 L112.5 1131.9 L115.5 1131.7 L118.5 1132.4 L121.5 1131.5 L124.5 1131.7 L127.5 1131.7 L130.5 1132.2 L133.5 1131.8 L136.5 1131.8 L139.5 1131.7 L142.5 1131.7 L145.5 1131.6 L148.5 1132.2 L151.5 1132.1 L154.5 1132.1 L157.5 1131.7 L160.5 1132.5 L163.5 1131.7 L166.5 1131.4 L169.5 1131.8 L172.5 1131.9 L175.5 1132.1 L178.5 1131.6 L181.5 1132.0 L184.5 1132.3 L187.5 1131.7 L190.5 1131.7 L193.5 1131.5 L196.5 1132.0 L199.5 1132.1 L202.5 1132.1 L205.5 1132.1 L208.5 1132.3 L211.5 1131.9 L214.5 1132.1 L217.5 1131.7 L220.5 1131.7 L223.5 1132.0 L226.5 1131.7 L229.5 1132.0 L232.5 1132.2 L235.5 1132.0" fill="none" stroke="#000000" stroke-width="3.80" stroke-linejoin="round" stroke-linecap="round"/><path d="M237.2 1130.7 L239.2 1130.6 L241.2 1131.6 L243.2 1130.4 L245.2 1130.8 L247.2 1130.5 L249.2 1130.6 L251.2 1131.0 L253.2 1130.1 L255.2 1129.6 L257.2 1130.9 L259.2 1130.2 L261.2 1130.3 L263.2 1129.8 L265.2 1130.1 L267.2 1130.2 L269.2 1130.1 L271.2 1129.2 L273.2 1129.0 L275.2 1129.2 L277.2 1128.9 L279.2 1128.9 L281.2 1128.1 L283.2 1127.1 L285.2 1128.3 L287.2 1128.3 L289.2 1128.0 L291.2 1128.2 L293.2 1127.6 L295.2 1126.7 L297.2 1127.1 L299.2 1126.2 L301.2 1126.5 L303.2 1125.7 L305.2 1125.3 L307.2 1124.8 L309.2 1124.2 L311.2 1122.8 L313.2 1123.0 L315.2 1121.1 L317.2 1121.6 L319.2 1120.9 L321.2 1120.4 L323.2 1118.4 L325.2 1116.5 L327.2 1114.5 L329.2 1114.5 L331.2 1110.8 L333.2 1109.8 L335.2 1105.7 L337.2 1104.1 L339.2 1101.4 L341.2 1097.9 L343.2 1094.2 L345.2 1090.0 L347.2 1085.9 L349.2 1082.7 L351.2 1078.3 L353.2 1074.0 L355.2 1070.4 L357.2 1066.6 L359.2 1065.0 L361.2 1063.5 L363.2 1061.8 L365.2 1062.7 L367.2 1064.8 L369.2 1066.4 L371.2 1071.1 L373.2 1074.6 L375.2 1077.8 L377.2 1082.6 L379.2 1087.1 L381.2 1089.7 L383.2 1094.4 L385.2 1097.6 L387.2 1100.8 L389.2 1104.2 L391.2 1106.3 L393.2 1108.2 L395.2 1110.3 L397.2 1112.9 L399.2 1114.9 L401.2 1116.0 L403.2 1117.2 L405.2 1118.3 L407.2 1119.9 L409.2 1120.4 L411.2 1120.5 L413.2 1121.3 L415.2 1122.6 L417.2 1122.2 L419.2 1122.7 L421.2 1123.3 L423.2 1123.1 L425.2 1124.3 L427.2 1123.1 L429.2 1125.1 L431.2 1124.4 L433.2 1124.2 L435.2 1125.1 L437.2 1124.3 L439.2 1125.5 L441.2 1125.8 L443.2 1125.2 L445.2 1125.4 L447.2 1126.2 L449.2 1125.5 L451.2 1125.9 L453.2 1126.2 L455.2 1126.8 L457.2 1125.9 L459.2 1126.2 L461.2 1126.8 L463.2 1125.0 L465.2 1126.2 L467.2 1125.3 L469.2 1125.2 L471.2 1126.9 L473.2 1125.9 L475.2 1126.4 L477.2 1125.3 L479.2 1125.5 L481.2 1124.7 L483.2 1124.4 L485.2 1124.3 L487.2 1124.1 L489.2 1124.4 L491.2 1123.1 L493.2 1122.9 L495.2 1122.1 L497.2 1121.8 L499.2 1120.5 L501.2 1121.2 L503.2 1119.7 L505.2 1119.4 L507.2 1118.5 L509.2 1118.4 L511.2 1117.5 L513.2 1116.5 L515.2 1115.8 L517.2 1115.1 L519.2 1114.5 L521.2 1113.6 L523.2 1113.2 L525.2 1112.7 L527.2 1111.4 L529.2 1109.8 L531.2 1110.6 L533.2 1110.2 L535.2 1108.4 L537.2 1107.9 L539.2 1106.6 L541.2 1107.7 L543.2 1106.5 L545.2 1107.7 L547.2 1105.3 L549.2 1106.5 L551.2 1106.8 L553.2 1106.4 L555.2 1106.4 L557.2 1107.1 L559.2 1107.0 L561.2 1107.5 L563.2 1108.1 L565.2 1108.3 L567.2 1109.0 L569.2 1110.1 L571.2 1110.2 L573.2 1111.1 L575.2 1111.3 L577.2 1112.8 L579.2 1112.5 L581.2 1114.3 L583.2 1113.0 L585.2 1114.8 L587.2 1115.1 L589.2 1117.1 L591.2 1117.4 L593.2 1117.3 L595.2 1118.2 L597.2 1119.8 L599.2 1119.6 L601.2 1120.4 L603.2 1119.9 L605.2 1120.3 L607.2 1121.7 L609.2 1123.0 L611.2 1121.9 L613.2 1122.8 L615.2 1122.3 L617.2 1123.6 L619.2 1123.0 L621.2 1123.2 L623.2 1122.7 L625.2 1123.6 L627.2 1124.0 L629.2 1124.7 L631.2 1123.5 L633.2 1124.7 L635.2 1124.1 L637.2 1124.2 L639.2 1123.9 L641.2 1123.6 L643.2 1123.9 L645.2 1125.3 L647.2 1123.9 L649.2 1124.3 L651.2 1125.1 L653.2 1123.5 L655.2 1124.8 L657.2 1124.3 L659.2 1124.6 L661.2 1124.9 L663.2 1124.4 L665.2 1124.3 L667.2 1124.7" fill="none" stroke="#000000" stroke-width="3.60" stroke-linejoin="round" stroke-linecap="round"/><path d="M236.0 1130.5 L238.0 1130.4 L240.0 1130.3 L242.0 1130.2 L244.0 1130.1 L246.0 1130.1 L248.0 1130.0 L250.0 1129.9 L252.0 1129.8 L254.0 1129.7 L256.0 1129.6 L258.0 1129.5 L260.0 1129.3 L262.0 1129.2 L264.0 1129.1 L266.0 1129.0 L268.0 1128.8 L270.0 1128.7 L272.0 1128.5 L274.0 1128.4 L276.0 1128.2 L278.0 1128.1 L280.0 1127.9 L282.0 1127.7 L284.0 1127.5 L286.0 1127.3 L288.0 1127.1 L290.0 1126.8 L292.0 1126.6 L294.0 1126.3 L296.0 1126.0 L298.0 1125.7 L300.0 1125.3 L302.0 1124.9 L304.0 1124.5 L306.0 1124.1 L308.0 1123.5 L310.0 1123.0 L312.0 1122.3 L314.0 1121.6 L316.0 1120.8 L318.0 1119.8 L320.0 1118.8 L322.0 1117.6 L324.0 1116.2 L326.0 1114.7 L328.0 1112.9 L330.0 1110.9 L332.0 1108.7 L334.0 1106.2 L336.0 1103.5 L338.0 1100.5 L340.0 1097.2 L342.0 1093.6 L344.0 1089.8 L346.0 1085.8 L348.0 1081.6 L350.0 1077.5 L352.0 1073.5 L354.0 1069.7 L356.0 1066.4 L358.0 1063.9 L360.0 1062.2 L362.0 1061.6 L364.0 1062.1 L366.0 1063.6 L368.0 1066.2 L370.0 1069.4 L372.0 1073.2 L374.0 1077.3 L376.0 1081.5 L378.0 1085.7 L380.0 1089.7 L382.0 1093.5 L384.0 1097.0 L386.0 1100.3 L388.0 1103.3 L390.0 1105.9 L392.0 1108.3 L394.0 1110.4 L396.0 1112.3 L398.0 1114.0 L400.0 1115.4 L402.0 1116.7 L404.0 1117.8 L406.0 1118.7 L408.0 1119.5 L410.0 1120.2 L412.0 1120.9 L414.0 1121.4 L416.0 1121.9 L418.0 1122.3 L420.0 1122.7 L422.0 1123.0 L424.0 1123.3 L426.0 1123.6 L428.0 1123.8 L430.0 1124.0 L432.0 1124.2 L434.0 1124.4 L436.0 1124.5 L438.0 1124.7 L440.0 1124.8 L442.0 1124.9 L444.0 1125.0 L446.0 1125.1 L448.0 1125.2 L450.0 1125.3 L452.0 1125.4 L454.0 1125.4 L456.0 1125.5 L458.0 1125.6 L460.0 1125.6 L462.0 1125.7 L464.0 1125.7 L466.0 1125.7 L468.0 1125.8 L470.0 1125.8 L472.0 1125.8 L474.0 1125.9 L476.0 1125.9 L478.0 1125.9 L480.0 1125.9 L482.0 1125.9 L484.0 1125.9 L486.0 1125.9 L488.0 1125.9 L490.0 1126.0 L492.0 1126.0 L494.0 1126.0 L496.0 1126.0 L498.0 1126.0 L500.0 1125.9 L502.0 1125.9 L504.0 1125.9 L506.0 1125.9 L508.0 1125.9 L510.0 1125.9 L512.0 1125.9 L514.0 1125.9 L516.0 1125.9 L518.0 1125.9 L520.0 1125.8 L522.0 1125.8 L524.0 1125.8 L526.0 1125.8 L528.0 1125.8 L530.0 1125.8 L532.0 1125.7 L534.0 1125.7 L536.0 1125.7 L538.0 1125.7 L540.0 1125.7 L542.0 1125.6 L544.0 1125.6 L546.0 1125.6 L548.0 1125.6 L550.0 1125.5 L552.0 1125.5 L554.0 1125.5 L556.0 1125.5 L558.0 1125.4 L560.0 1125.4 L562.0 1125.4 L564.0 1125.4 L566.0 1125.3 L568.0 1125.3 L570.0 1125.3 L572.0 1125.3 L574.0 1125.2 L576.0 1125.2 L578.0 1125.2 L580.0 1125.2 L582.0 1125.1 L584.0 1125.1 L586.0 1125.1 L588.0 1125.0 L590.0 1125.0 L592.0 1125.0 L594.0 1124.9 L596.0 1124.9 L598.0 1124.9 L600.0 1124.9 L602.0 1124.8 L604.0 1124.8 L606.0 1124.8 L608.0 1124.7 L610.0 1124.7 L612.0 1124.7 L614.0 1124.6 L616.0 1124.6 L618.0 1124.6 L620.0 1124.6 L622.0 1124.5 L624.0 1124.5 L626.0 1124.5 L628.0 1124.4 L630.0 1124.4 L632.0 1124.4 L634.0 1124.3 L636.0 1124.3 L638.0 1124.3 L640.0 1124.2 L642.0 1124.2 L644.0 1124.2 L646.0 1124.1 L648.0 1124.1 L650.0 1124.1 L652.0 1124.0 L654.0 1124.0 L656.0 1124.0 L658.0 1123.9 L660.0 1123.9 L662.0 1123.9 L664.0 1123.8 L666.0 1123.8" fill="none" stroke="#ff0000" stroke-width="3.60" stroke-linejoin="round" stroke-linecap="round"/><path d="M236.0 1131.9 L238.0 1131.9 L240.0 1131.9 L242.0 1131.9 L244.0 1131.9 L246.0 1131.9 L248.0 1131.9 L250.0 1131.9 L252.0 1131.9 L254.0 1131.9 L256.0 1131.9 L258.0 1131.9 L260.0 1131.9 L262.0 1131.9 L264.0 1131.9 L266.0 1131.9 L268.0 1131.9 L270.0 1131.9 L272.0 1131.9 L274.0 1131.8 L276.0 1131.8 L278.0 1131.8 L280.0 1131.8 L282.0 1131.8 L284.0 1131.8 L286.0 1131.8 L288.0 1131.8 L290.0 1131.8 L292.0 1131.7 L294.0 1131.7 L296.0 1131.7 L298.0 1131.7 L300.0 1131.6 L302.0 1131.6 L304.0 1131.6 L306.0 1131.5 L308.0 1131.5 L310.0 1131.5 L312.0 1131.4 L314.0 1131.3 L316.0 1131.3 L318.0 1131.2 L320.0 1131.1 L322.0 1131.1 L324.0 1131.0 L326.0 1130.9 L328.0 1130.8 L330.0 1130.6 L332.0 1130.5 L334.0 1130.4 L336.0 1130.3 L338.0 1130.1 L340.0 1130.0 L342.0 1129.8 L344.0 1129.6 L346.0 1129.5 L348.0 1129.3 L350.0 1129.2 L352.0 1129.0 L354.0 1128.8 L356.0 1128.7 L358.0 1128.5 L360.0 1128.3 L362.0 1128.2 L364.0 1128.0 L366.0 1127.9 L368.0 1127.8 L370.0 1127.6 L372.0 1127.5 L374.0 1127.4 L376.0 1127.3 L378.0 1127.2 L380.0 1127.1 L382.0 1127.1 L384.0 1127.0 L386.0 1126.9 L388.0 1126.9 L390.0 1126.8 L392.0 1126.8 L394.0 1126.7 L396.0 1126.7 L398.0 1126.6 L400.0 1126.6 L402.0 1126.6 L404.0 1126.6 L406.0 1126.5 L408.0 1126.5 L410.0 1126.5 L412.0 1126.5 L414.0 1126.5 L416.0 1126.4 L418.0 1126.4 L420.0 1126.4 L422.0 1126.4 L424.0 1126.4 L426.0 1126.4 L428.0 1126.4 L430.0 1126.4 L432.0 1126.3 L434.0 1126.3 L436.0 1126.3 L438.0 1126.3 L440.0 1126.3 L442.0 1126.3 L444.0 1126.2 L446.0 1126.2 L448.0 1126.2 L450.0 1126.2 L452.0 1126.1 L454.0 1126.1 L456.0 1126.0 L458.0 1126.0 L460.0 1125.9 L462.0 1125.8 L464.0 1125.7 L466.0 1125.6 L468.0 1125.5 L470.0 1125.3 L472.0 1125.2 L474.0 1125.0 L476.0 1124.8 L478.0 1124.6 L480.0 1124.3 L482.0 1124.0 L484.0 1123.7 L486.0 1123.4 L488.0 1123.0 L490.0 1122.6 L492.0 1122.2 L494.0 1121.7 L496.0 1121.2 L498.0 1120.6 L500.0 1120.0 L502.0 1119.4 L504.0 1118.7 L506.0 1118.0 L508.0 1117.3 L510.0 1116.6 L512.0 1115.8 L514.0 1115.1 L516.0 1114.3 L518.0 1113.5 L520.0 1112.8 L522.0 1112.0 L524.0 1111.2 L526.0 1110.5 L528.0 1109.8 L530.0 1109.2 L532.0 1108.6 L534.0 1108.0 L536.0 1107.5 L538.0 1107.0 L540.0 1106.7 L542.0 1106.4 L544.0 1106.1 L546.0 1106.0 L548.0 1105.9 L550.0 1105.9 L552.0 1106.0 L554.0 1106.2 L556.0 1106.4 L558.0 1106.7 L560.0 1107.1 L562.0 1107.5 L564.0 1108.0 L566.0 1108.5 L568.0 1109.1 L570.0 1109.7 L572.0 1110.4 L574.0 1111.1 L576.0 1111.8 L578.0 1112.5 L580.0 1113.2 L582.0 1113.9 L584.0 1114.6 L586.0 1115.3 L588.0 1116.0 L590.0 1116.7 L592.0 1117.3 L594.0 1117.9 L596.0 1118.5 L598.0 1119.0 L600.0 1119.5 L602.0 1120.0 L604.0 1120.5 L606.0 1120.9 L608.0 1121.2 L610.0 1121.6 L612.0 1121.9 L614.0 1122.2 L616.0 1122.4 L618.0 1122.6 L620.0 1122.8 L622.0 1123.0 L624.0 1123.2 L626.0 1123.3 L628.0 1123.4 L630.0 1123.5 L632.0 1123.6 L634.0 1123.7 L636.0 1123.8 L638.0 1123.8 L640.0 1123.9 L642.0 1123.9 L644.0 1123.9 L646.0 1123.9 L648.0 1124.0 L650.0 1124.0 L652.0 1124.0 L654.0 1124.0 L656.0 1124.0 L658.0 1124.0 L660.0 1124.0 L662.0 1124.0 L664.0 1124.0 L666.0 1124.0" fill="none" stroke="#0000ff" stroke-width="4.00" stroke-linejoin="round" stroke-linecap="round"/><path d="M76.5 1241.4 L79.5 1241.1 L82.5 1241.2 L85.5 1241.0 L88.5 1241.6 L91.5 1241.0 L94.5 1241.3 L97.5 1241.7 L100.5 1241.5 L103.5 1241.2 L106.5 1241.1 L109.5 1241.1 L112.5 1241.5 L115.5 1241.4 L118.5 1241.3 L121.5 1241.9 L124.5 1241.1 L127.5 1241.2 L130.5 1241.2 L133.5 1241.3 L136.5 1241.4 L139.5 1241.2 L142.5 1241.5 L145.5 1241.4 L148.5 1241.2 L151.5 1240.7 L154.5 1241.5 L157.5 1241.1 L160.5 1241.1 L163.5 1241.3 L166.5 1241.0 L169.5 1241.1 L172.5 1241.3 L175.5 1241.2 L178.5 1241.4 L181.5 1241.1 L184.5 1241.2 L187.5 1241.0 L190.5 1241.2 L193.5 1241.3 L196.5 1241.2 L199.5 1240.9 L202.5 1241.2 L205.5 1241.3 L208.5 1241.6 L211.5 1241.3 L214.5 1241.2 L217.5 1241.0 L220.5 1241.8 L223.5 1241.0 L226.5 1241.0 L229.5 1241.2 L232.5 1240.8 L235.5 1241.5" fill="none" stroke="#000000" stroke-width="3.80" stroke-linejoin="round" stroke-linecap="round"/><path d="M237.2 1240.7 L239.2 1240.8 L241.2 1239.9 L243.2 1240.1 L245.2 1240.7 L247.2 1240.6 L249.2 1241.5 L251.2 1240.6 L253.2 1239.0 L255.2 1239.9 L257.2 1239.5 L259.2 1240.2 L261.2 1239.5 L263.2 1239.7 L265.2 1239.1 L267.2 1239.5 L269.2 1239.8 L271.2 1238.6 L273.2 1237.8 L275.2 1238.2 L277.2 1239.3 L279.2 1238.5 L281.2 1238.1 L283.2 1237.6 L285.2 1238.4 L287.2 1237.9 L289.2 1237.5 L291.2 1237.1 L293.2 1237.1 L295.2 1236.7 L297.2 1236.9 L299.2 1237.0 L301.2 1235.1 L303.2 1235.1 L305.2 1235.5 L307.2 1235.2 L309.2 1234.0 L311.2 1234.0 L313.2 1233.7 L315.2 1233.1 L317.2 1232.5 L319.2 1232.1 L321.2 1231.8 L323.2 1230.9 L325.2 1229.9 L327.2 1228.6 L329.2 1226.9 L331.2 1225.6 L333.2 1224.6 L335.2 1222.6 L337.2 1220.9 L339.2 1218.4 L341.2 1215.8 L343.2 1213.2 L345.2 1209.1 L347.2 1206.5 L349.2 1202.7 L351.2 1199.6 L353.2 1194.9 L355.2 1191.3 L357.2 1186.9 L359.2 1183.5 L361.2 1180.0 L363.2 1176.6 L365.2 1174.5 L367.2 1173.2 L369.2 1173.2 L371.2 1173.4 L373.2 1175.4 L375.2 1177.9 L377.2 1181.0 L379.2 1185.4 L381.2 1189.6 L383.2 1193.1 L385.2 1198.3 L387.2 1201.0 L389.2 1205.4 L391.2 1208.6 L393.2 1210.7 L395.2 1214.3 L397.2 1216.1 L399.2 1219.1 L401.2 1221.5 L403.2 1223.8 L405.2 1224.8 L407.2 1225.0 L409.2 1226.8 L411.2 1228.8 L413.2 1229.0 L415.2 1230.6 L417.2 1230.0 L419.2 1230.6 L421.2 1230.8 L423.2 1231.7 L425.2 1232.9 L427.2 1232.1 L429.2 1233.3 L431.2 1233.4 L433.2 1233.8 L435.2 1233.5 L437.2 1233.9 L439.2 1235.1 L441.2 1233.6 L443.2 1234.7 L445.2 1235.3 L447.2 1234.8 L449.2 1235.6 L451.2 1233.3 L453.2 1234.8 L455.2 1234.4 L457.2 1234.9 L459.2 1235.1 L461.2 1235.5 L463.2 1234.8 L465.2 1235.8 L467.2 1234.6 L469.2 1235.9 L471.2 1235.2 L473.2 1234.4 L475.2 1234.2 L477.2 1234.0 L479.2 1234.2 L481.2 1234.6 L483.2 1234.9 L485.2 1234.4 L487.2 1233.0 L489.2 1232.2 L491.2 1232.9 L493.2 1231.9 L495.2 1232.1 L497.2 1231.4 L499.2 1232.5 L501.2 1229.8 L503.2 1230.3 L505.2 1230.4 L507.2 1228.6 L509.2 1227.8 L511.2 1228.3 L513.2 1225.7 L515.2 1225.1 L517.2 1224.6 L519.2 1224.6 L521.2 1224.1 L523.2 1222.8 L525.2 1223.2 L527.2 1221.2 L529.2 1220.6 L531.2 1219.7 L533.2 1219.8 L535.2 1218.6 L537.2 1217.8 L539.2 1218.3 L541.2 1217.6 L543.2 1217.0 L545.2 1215.5 L547.2 1215.4 L549.2 1215.6 L551.2 1215.5 L553.2 1215.3 L555.2 1215.5 L557.2 1216.0 L559.2 1215.4 L561.2 1216.3 L563.2 1216.3 L565.2 1216.7 L567.2 1217.2 L569.2 1218.3 L571.2 1218.6 L573.2 1218.7 L575.2 1219.9 L577.2 1220.4 L579.2 1221.3 L581.2 1221.6 L583.2 1223.0 L585.2 1223.4 L587.2 1223.4 L589.2 1224.0 L591.2 1224.6 L593.2 1226.2 L595.2 1226.3 L597.2 1227.1 L599.2 1227.8 L601.2 1229.0 L603.2 1230.1 L605.2 1229.4 L607.2 1230.9 L609.2 1230.6 L611.2 1231.3 L613.2 1231.0 L615.2 1230.8 L617.2 1232.0 L619.2 1232.6 L621.2 1231.4 L623.2 1232.4 L625.2 1232.7 L627.2 1233.1 L629.2 1232.4 L631.2 1232.8 L633.2 1233.6 L635.2 1234.2 L637.2 1233.4 L639.2 1233.9 L641.2 1233.6 L643.2 1233.8 L645.2 1233.4 L647.2 1233.5 L649.2 1233.3 L651.2 1233.7 L653.2 1234.2 L655.2 1233.8 L657.2 1234.0 L659.2 1233.3 L661.2 1234.0 L663.2 1232.0 L665.2 1232.8 L667.2 1233.3" fill="none" stroke="#000000" stroke-width="3.60" stroke-linejoin="round" stroke-linecap="round"/><path d="M236.0 1240.0 L238.0 1239.9 L240.0 1239.9 L242.0 1239.8 L244.0 1239.7 L246.0 1239.6 L248.0 1239.5 L250.0 1239.4 L252.0 1239.4 L254.0 1239.3 L256.0 1239.2 L258.0 1239.1 L260.0 1239.0 L262.0 1238.9 L264.0 1238.7 L266.0 1238.6 L268.0 1238.5 L270.0 1238.4 L272.0 1238.3 L274.0 1238.1 L276.0 1238.0 L278.0 1237.8 L280.0 1237.7 L282.0 1237.5 L284.0 1237.3 L286.0 1237.2 L288.0 1237.0 L290.0 1236.8 L292.0 1236.6 L294.0 1236.3 L296.0 1236.1 L298.0 1235.8 L300.0 1235.5 L302.0 1235.2 L304.0 1234.9 L306.0 1234.6 L308.0 1234.2 L310.0 1233.8 L312.0 1233.3 L314.0 1232.8 L316.0 1232.2 L318.0 1231.5 L320.0 1230.8 L322.0 1229.9 L324.0 1229.0 L326.0 1227.9 L328.0 1226.7 L330.0 1225.3 L332.0 1223.7 L334.0 1221.9 L336.0 1219.9 L338.0 1217.7 L340.0 1215.2 L342.0 1212.4 L344.0 1209.3 L346.0 1206.0 L348.0 1202.4 L350.0 1198.6 L352.0 1194.7 L354.0 1190.6 L356.0 1186.6 L358.0 1182.7 L360.0 1179.1 L362.0 1176.1 L364.0 1173.8 L366.0 1172.5 L368.0 1172.2 L370.0 1173.0 L372.0 1174.8 L374.0 1177.5 L376.0 1180.9 L378.0 1184.7 L380.0 1188.8 L382.0 1192.9 L384.0 1196.9 L386.0 1200.8 L388.0 1204.5 L390.0 1207.9 L392.0 1211.0 L394.0 1213.8 L396.0 1216.3 L398.0 1218.6 L400.0 1220.6 L402.0 1222.3 L404.0 1223.9 L406.0 1225.2 L408.0 1226.4 L410.0 1227.4 L412.0 1228.3 L414.0 1229.1 L416.0 1229.8 L418.0 1230.4 L420.0 1230.9 L422.0 1231.3 L424.0 1231.7 L426.0 1232.1 L428.0 1232.4 L430.0 1232.6 L432.0 1232.9 L434.0 1233.1 L436.0 1233.3 L438.0 1233.5 L440.0 1233.7 L442.0 1233.8 L444.0 1233.9 L446.0 1234.1 L448.0 1234.2 L450.0 1234.3 L452.0 1234.4 L454.0 1234.5 L456.0 1234.5 L458.0 1234.6 L460.0 1234.7 L462.0 1234.7 L464.0 1234.8 L466.0 1234.8 L468.0 1234.9 L470.0 1234.9 L472.0 1234.9 L474.0 1235.0 L476.0 1235.0 L478.0 1235.0 L480.0 1235.0 L482.0 1235.0 L484.0 1235.1 L486.0 1235.1 L488.0 1235.1 L490.0 1235.1 L492.0 1235.1 L494.0 1235.1 L496.0 1235.1 L498.0 1235.1 L500.0 1235.1 L502.0 1235.1 L504.0 1235.1 L506.0 1235.1 L508.0 1235.1 L510.0 1235.1 L512.0 1235.1 L514.0 1235.0 L516.0 1235.0 L518.0 1235.0 L520.0 1235.0 L522.0 1235.0 L524.0 1235.0 L526.0 1235.0 L528.0 1234.9 L530.0 1234.9 L532.0 1234.9 L534.0 1234.9 L536.0 1234.9 L538.0 1234.8 L540.0 1234.8 L542.0 1234.8 L544.0 1234.8 L546.0 1234.8 L548.0 1234.7 L550.0 1234.7 L552.0 1234.7 L554.0 1234.7 L556.0 1234.6 L558.0 1234.6 L560.0 1234.6 L562.0 1234.6 L564.0 1234.5 L566.0 1234.5 L568.0 1234.5 L570.0 1234.4 L572.0 1234.4 L574.0 1234.4 L576.0 1234.4 L578.0 1234.3 L580.0 1234.3 L582.0 1234.3 L584.0 1234.2 L586.0 1234.2 L588.0 1234.2 L590.0 1234.2 L592.0 1234.1 L594.0 1234.1 L596.0 1234.1 L598.0 1234.0 L600.0 1234.0 L602.0 1234.0 L604.0 1233.9 L606.0 1233.9 L608.0 1233.9 L610.0 1233.8 L612.0 1233.8 L614.0 1233.8 L616.0 1233.7 L618.0 1233.7 L620.0 1233.7 L622.0 1233.6 L624.0 1233.6 L626.0 1233.6 L628.0 1233.5 L630.0 1233.5 L632.0 1233.5 L634.0 1233.4 L636.0 1233.4 L638.0 1233.4 L640.0 1233.3 L642.0 1233.3 L644.0 1233.3 L646.0 1233.2 L648.0 1233.2 L650.0 1233.2 L652.0 1233.1 L654.0 1233.1 L656.0 1233.1 L658.0 1233.0 L660.0 1233.0 L662.0 1233.0 L664.0 1232.9 L666.0 1232.9" fill="none" stroke="#ff0000" stroke-width="3.60" stroke-linejoin="round" stroke-linecap="round"/><path d="M236.0 1241.3 L238.0 1241.3 L240.0 1241.3 L242.0 1241.3 L244.0 1241.3 L246.0 1241.3 L248.0 1241.3 L250.0 1241.3 L252.0 1241.3 L254.0 1241.3 L256.0 1241.3 L258.0 1241.3 L260.0 1241.3 L262.0 1241.3 L264.0 1241.3 L266.0 1241.3 L268.0 1241.3 L270.0 1241.3 L272.0 1241.3 L274.0 1241.2 L276.0 1241.2 L278.0 1241.2 L280.0 1241.2 L282.0 1241.2 L284.0 1241.2 L286.0 1241.2 L288.0 1241.2 L290.0 1241.2 L292.0 1241.1 L294.0 1241.1 L296.0 1241.1 L298.0 1241.1 L300.0 1241.0 L302.0 1241.0 L304.0 1241.0 L306.0 1240.9 L308.0 1240.9 L310.0 1240.8 L312.0 1240.8 L314.0 1240.7 L316.0 1240.7 L318.0 1240.6 L320.0 1240.5 L322.0 1240.4 L324.0 1240.3 L326.0 1240.2 L328.0 1240.1 L330.0 1240.0 L332.0 1239.9 L334.0 1239.8 L336.0 1239.6 L338.0 1239.5 L340.0 1239.3 L342.0 1239.2 L344.0 1239.0 L346.0 1238.8 L348.0 1238.7 L350.0 1238.5 L352.0 1238.3 L354.0 1238.2 L356.0 1238.0 L358.0 1237.8 L360.0 1237.7 L362.0 1237.5 L364.0 1237.4 L366.0 1237.2 L368.0 1237.1 L370.0 1237.0 L372.0 1236.8 L374.0 1236.7 L376.0 1236.6 L378.0 1236.5 L380.0 1236.4 L382.0 1236.4 L384.0 1236.3 L386.0 1236.2 L388.0 1236.2 L390.0 1236.1 L392.0 1236.1 L394.0 1236.0 L396.0 1236.0 L398.0 1235.9 L400.0 1235.9 L402.0 1235.9 L404.0 1235.8 L406.0 1235.8 L408.0 1235.8 L410.0 1235.8 L412.0 1235.8 L414.0 1235.7 L416.0 1235.7 L418.0 1235.7 L420.0 1235.7 L422.0 1235.7 L424.0 1235.7 L426.0 1235.7 L428.0 1235.7 L430.0 1235.6 L432.0 1235.6 L434.0 1235.6 L436.0 1235.6 L438.0 1235.6 L440.0 1235.6 L442.0 1235.6 L444.0 1235.5 L446.0 1235.5 L448.0 1235.5 L450.0 1235.5 L452.0 1235.4 L454.0 1235.4 L456.0 1235.4 L458.0 1235.3 L460.0 1235.3 L462.0 1235.2 L464.0 1235.1 L466.0 1235.0 L468.0 1234.9 L470.0 1234.8 L472.0 1234.7 L474.0 1234.5 L476.0 1234.4 L478.0 1234.2 L480.0 1234.0 L482.0 1233.7 L484.0 1233.5 L486.0 1233.2 L488.0 1232.8 L490.0 1232.5 L492.0 1232.1 L494.0 1231.6 L496.0 1231.2 L498.0 1230.7 L500.0 1230.1 L502.0 1229.6 L504.0 1229.0 L506.0 1228.3 L508.0 1227.6 L510.0 1226.9 L512.0 1226.2 L514.0 1225.5 L516.0 1224.7 L518.0 1223.9 L520.0 1223.1 L522.0 1222.4 L524.0 1221.6 L526.0 1220.8 L528.0 1220.1 L530.0 1219.4 L532.0 1218.7 L534.0 1218.0 L536.0 1217.4 L538.0 1216.9 L540.0 1216.4 L542.0 1216.0 L544.0 1215.6 L546.0 1215.4 L548.0 1215.2 L550.0 1215.0 L552.0 1215.0 L554.0 1215.0 L556.0 1215.2 L558.0 1215.3 L560.0 1215.6 L562.0 1215.9 L564.0 1216.3 L566.0 1216.8 L568.0 1217.3 L570.0 1217.9 L572.0 1218.5 L574.0 1219.1 L576.0 1219.8 L578.0 1220.5 L580.0 1221.2 L582.0 1221.9 L584.0 1222.6 L586.0 1223.4 L588.0 1224.1 L590.0 1224.7 L592.0 1225.4 L594.0 1226.1 L596.0 1226.7 L598.0 1227.3 L600.0 1227.8 L602.0 1228.4 L604.0 1228.9 L606.0 1229.3 L608.0 1229.8 L610.0 1230.1 L612.0 1230.5 L614.0 1230.8 L616.0 1231.1 L618.0 1231.4 L620.0 1231.6 L622.0 1231.8 L624.0 1232.0 L626.0 1232.2 L628.0 1232.3 L630.0 1232.5 L632.0 1232.6 L634.0 1232.7 L636.0 1232.8 L638.0 1232.8 L640.0 1232.9 L642.0 1232.9 L644.0 1233.0 L646.0 1233.0 L648.0 1233.0 L650.0 1233.1 L652.0 1233.1 L654.0 1233.1 L656.0 1233.1 L658.0 1233.1 L660.0 1233.1 L662.0 1233.1 L664.0 1233.1 L666.0 1233.1" fill="none" stroke="#0000ff" stroke-width="4.00" stroke-linejoin="round" stroke-linecap="round"/><path d="M766.5 1147.8 L772.4 1116.0 L775.1 1053.0 L779.1 1066.3 L781.6 1134.6 L785.7 1105.3 L788.4 1097.3 L791.5 1032.7 L794.6 1154.9 L798.1 1166.4 L801.6 1110.6 L805.2 1108.9 L808.2 1193.9 L811.7 1178.0 L814.9 1119.5 L821.1 1141.6 L824.7 1091.1 L827.7 1076.1 L831.2 1123.0 L834.8 1050.4 L838.0 1068.1 L841.2 1115.9 L844.7 1121.3 L847.7 1094.7 L851.3 1101.8 L854.8 1100.0 L857.8 1129.2 L861.0 1092.0 L867.7 1145.2 L871.3 1124.8 L874.3 1154.0 L881.4 1025.6 L885.8 1075.2 L890.8 1128.4 L894.3 1054.8 L897.3 1064.6 L900.9 971.9 L904.3 1024.9 L907.9 1004.7 L911.5 1008.5 L917.3 1072.4 L920.9 1014.0 L927.7 1094.8 L934.2 1047.2 L940.9 1122.9 L947.3 957.1 L950.8 1002.3 L957.3 1001.5 L960.9 972.7 L964.5 998.4 L967.5 935.5 L971.2 910.2 L977.2 866.6 L980.6 932.8 L984.0 784.0 L987.6 835.4 L990.2 798.8 L994.9 803.5 L996.9 900.1 L1003.6 782.5 L1010.2 942.2 L1014.1 888.4 L1017.2 883.7 L1020.3 932.0 L1023.4 932.8 L1027.0 967.1 L1030.8 918.0 L1035.9 936.7 L1039.8 937.5 L1043.5 928.0 L1047.0 1010.6 L1050.2 930.0 L1054.8 990.4 L1063.4 1056.6 L1067.7 1009.1 L1070.4 995.0 L1073.5 959.2 L1076.9 1019.2 L1080.2 949.9 L1084.4 1018.4 L1086.7 1091.6 L1093.0 1037.1 L1096.1 1039.5 L1100.0 1006.7 L1103.1 1080.7 L1106.7 999.7 L1110.1 1102.6 L1116.3 1034.0 L1119.8 1045.7 L1123.4 1020.0 L1126.5 1090.1 L1130.1 1106.4 L1133.2 999.7 L1136.6 1054.3 L1140.0 1055.8 L1143.1 1042.7 L1146.6 1098.0 L1150.1 1053.0 L1153.7 1059.2 L1159.9 997.6 L1163.1 1069.3 L1167.3 1064.6 L1173.0 989.1 L1176.6 1007.8 L1179.7 1004.7 L1183.6 1015.6 L1186.7 1013.2 L1189.5 973.5 L1195.3 993.0 L1199.2 970.4 L1203.1 957.7 L1206.2 979.1 L1213.0 897.3 L1216.4 902.5 L1219.6 948.3 L1222.6 872.6 L1225.7 845.3 L1229.3 859.3 L1232.7 812.6 L1236.1 882.7 L1239.0 878.0 L1242.4 855.4 L1246.0 885.8 L1249.5 850.0 L1253.0 860.1 L1256.1 851.5 L1259.2 910.0 L1262.6 865.6 L1265.7 994.9 L1269.3 944.6 L1275.6 1033.7 L1279.5 969.5 L1282.6 970.0 L1289.3 1044.6 L1292.5 1001.8 L1295.8 1018.9 L1302.3 927.0 L1308.6 1044.6 L1315.3 1035.3 L1318.9 1069.6 L1322.3 1050.1 L1325.8 1123.3 L1335.6 967.5 L1339.5 1029.1 L1342.6 1029.8 L1345.7 1073.5 L1348.8 1068.0 L1352.7 1100.7 L1358.9 1007.3 L1363.6 1116.3" fill="none" stroke="#ff0000" stroke-width="3.60" stroke-linejoin="round" stroke-linecap="round"/><line x1="1021.4" y1="1213.8" x2="1080.1" y2="1213.8" stroke="#ff0000" stroke-width="3.60"/><rect x="72.4" y="30.1" width="591.7" height="567.0" fill="none" stroke="#000" stroke-width="3.5"/><rect x="766.0" y="34.4" width="593.8" height="559.6" fill="none" stroke="#000" stroke-width="3.5"/><rect x="74.7" y="735.3" width="593.3" height="552.3" fill="none" stroke="#000" stroke-width="3.5"/><rect x="766.4" y="738.0" width="597.3" height="546.7" fill="none" stroke="#000" stroke-width="3.5"/><line x1="72.2" y1="597.1" x2="72.2" y2="609.1" stroke="#000000" stroke-width="3.00"/><line x1="146.2" y1="597.1" x2="146.2" y2="603.6" stroke="#000000" stroke-width="3.00"/><line x1="220.2" y1="597.1" x2="220.2" y2="609.1" stroke="#000000" stroke-width="3.00"/><line x1="294.1" y1="597.1" x2="294.1" y2="603.6" stroke="#000000" stroke-width="3.00"/><line x1="368.1" y1="597.1" x2="368.1" y2="609.1" stroke="#000000" stroke-width="3.00"/><line x1="442.1" y1="597.1" x2="442.1" y2="603.6" stroke="#000000" stroke-width="3.00"/><line x1="516.1" y1="597.1" x2="516.1" y2="609.1" stroke="#000000" stroke-width="3.00"/><line x1="590.1" y1="597.1" x2="590.1" y2="603.6" stroke="#000000" stroke-width="3.00"/><line x1="664.0" y1="597.1" x2="664.0" y2="609.1" stroke="#000000" stroke-width="3.00"/><line x1="766.0" y1="594.0" x2="766.0" y2="604.0" stroke="#000000" stroke-width="3.00"/><line x1="840.2" y1="594.0" x2="840.2" y2="598.8" stroke="#000000" stroke-width="3.00"/><line x1="914.4" y1="594.0" x2="914.4" y2="604.0" stroke="#000000" stroke-width="3.00"/><line x1="988.6" y1="594.0" x2="988.6" y2="598.8" stroke="#000000" stroke-width="3.00"/><line x1="1062.8" y1="594.0" x2="1062.8" y2="604.0" stroke="#000000" stroke-width="3.00"/><line x1="1137.0" y1="594.0" x2="1137.0" y2="598.8" stroke="#000000" stroke-width="3.00"/><line x1="1211.1" y1="594.0" x2="1211.1" y2="604.0" stroke="#000000" stroke-width="3.00"/><line x1="1285.3" y1="594.0" x2="1285.3" y2="598.8" stroke="#000000" stroke-width="3.00"/><line x1="1359.5" y1="594.0" x2="1359.5" y2="604.0" stroke="#000000" stroke-width="3.00"/><line x1="74.7" y1="1287.6" x2="74.7" y2="1292.4" stroke="#000000" stroke-width="3.00"/><line x1="140.6" y1="1287.6" x2="140.6" y2="1297.6" stroke="#000000" stroke-width="3.00"/><line x1="206.5" y1="1287.6" x2="206.5" y2="1292.4" stroke="#000000" stroke-width="3.00"/><line x1="272.5" y1="1287.6" x2="272.5" y2="1297.6" stroke="#000000" stroke-width="3.00"/><line x1="338.4" y1="1287.6" x2="338.4" y2="1292.4" stroke="#000000" stroke-width="3.00"/><line x1="404.3" y1="1287.6" x2="404.3" y2="1297.6" stroke="#000000" stroke-width="3.00"/><line x1="470.2" y1="1287.6" x2="470.2" y2="1292.4" stroke="#000000" stroke-width="3.00"/><line x1="536.1" y1="1287.6" x2="536.1" y2="1297.6" stroke="#000000" stroke-width="3.00"/><line x1="602.1" y1="1287.6" x2="602.1" y2="1292.4" stroke="#000000" stroke-width="3.00"/><line x1="668.0" y1="1287.6" x2="668.0" y2="1297.6" stroke="#000000" stroke-width="3.00"/><line x1="766.4" y1="1284.7" x2="766.4" y2="1294.7" stroke="#000000" stroke-width="3.00"/><line x1="832.8" y1="1284.7" x2="832.8" y2="1289.3" stroke="#000000" stroke-width="3.00"/><line x1="899.1" y1="1284.7" x2="899.1" y2="1294.7" stroke="#000000" stroke-width="3.00"/><line x1="965.4" y1="1284.7" x2="965.4" y2="1289.3" stroke="#000000" stroke-width="3.00"/><line x1="1031.8" y1="1284.7" x2="1031.8" y2="1294.7" stroke="#000000" stroke-width="3.00"/><line x1="1098.2" y1="1284.7" x2="1098.2" y2="1289.3" stroke="#000000" stroke-width="3.00"/><line x1="1164.5" y1="1284.7" x2="1164.5" y2="1294.7" stroke="#000000" stroke-width="3.00"/><line x1="1230.8" y1="1284.7" x2="1230.8" y2="1289.3" stroke="#000000" stroke-width="3.00"/><line x1="1297.2" y1="1284.7" x2="1297.2" y2="1294.7" stroke="#000000" stroke-width="3.00"/><line x1="1363.5" y1="1284.7" x2="1363.5" y2="1289.3" stroke="#000000" stroke-width="3.00"/><text transform="translate(5.93,32.40) scale(0.9788,1)" x="0" y="0" font-family='"Liberation Sans", sans-serif' font-weight="bold" font-size="43.90" fill="#000"><tspan>A</tspan></text><text transform="translate(720.84,32.40) scale(0.9606,1)" x="0" y="0" font-family='"Liberation Sans", sans-serif' font-weight="bold" font-size="43.90" fill="#000"><tspan>B</tspan></text><text transform="translate(6.62,740.30) scale(0.9164,1)" x="0" y="0" font-family='"Liberation Sans", sans-serif' font-weight="bold" font-size="43.31" fill="#000"><tspan>C</tspan></text><text transform="translate(720.84,740.60) scale(0.9735,1)" x="0" y="0" font-family='"Liberation Sans", sans-serif' font-weight="bold" font-size="43.31" fill="#000"><tspan>D</tspan></text><text transform="translate(590.38,75.00) scale(0.8008,1)" x="0" y="0" font-family='"Liberation Serif", serif' font-weight="bold" font-size="40.46" fill="#000"><tspan>O&#160;1S</tspan></text><text transform="translate(305.63,153.80) scale(0.8220,1)" x="0" y="0" font-family='"Liberation Serif", serif' font-weight="bold" font-size="37.56" fill="#000"><tspan>Ti−O−Ti</tspan></text><text transform="translate(443.12,145.60) scale(0.8212,1)" x="0" y="0" font-family='"Liberation Serif", serif' font-weight="bold" font-size="38.47" fill="#000"><tspan>oxygen&#160;vacancy</tspan></text><text transform="translate(525.22,194.50) scale(0.8074,1)" x="0" y="0" font-family='"Liberation Serif", serif' font-weight="bold" font-size="39.08" fill="#000"><tspan>531.5&#160;eV</tspan></text><text transform="translate(78.40,194.70) scale(0.8603,1)" x="0" y="0" font-family='"Liberation Serif", serif' font-weight="bold" font-size="31.60" fill="#000"><tspan>Au/D-TiO</tspan><tspan font-size="28.44" dy="5.69">2</tspan><tspan dy="-5.69">&#160;(200&#160;°C&#160;)</tspan></text><text transform="translate(77.50,317.80) scale(0.8645,1)" x="0" y="0" font-family='"Liberation Serif", serif' font-weight="bold" font-size="31.45" fill="#000"><tspan>Au/D-TiO</tspan><tspan font-size="28.31" dy="5.66">2</tspan><tspan dy="-5.66">&#160;(150&#160;°C&#160;)</tspan></text><text transform="translate(78.40,443.70) scale(0.8645,1)" x="0" y="0" font-family='"Liberation Serif", serif' font-weight="bold" font-size="31.45" fill="#000"><tspan>Au/D-TiO</tspan><tspan font-size="28.31" dy="5.66">2</tspan><tspan dy="-5.66">&#160;(100&#160;°C&#160;)</tspan></text><text transform="translate(133.12,562.40) scale(0.8104,1)" x="0" y="0" font-family='"Liberation Serif", serif' font-weight="bold" font-size="33.74" fill="#000"><tspan>TiO</tspan><tspan font-size="21.59" dy="8.20">2</tspan></text><text transform="translate(189.99,708.70) scale(0.8347,1)" x="0" y="0" font-family='"Liberation Serif", serif' font-weight="bold" font-size="48.40" fill="#000"><tspan>Binding&#160;Energy&#160;(eV)</tspan></text><text transform="translate(32.70,450.71) rotate(-90) scale(1.1346,1)" x="0" y="0" font-family='"Liberation Serif", serif' font-weight="bold" font-size="42.75" fill="#000"><tspan>Intensity&#160;(a.u.)</tspan></text><text transform="translate(1002.94,77.00) scale(0.8087,1)" x="0" y="0" font-family='"Liberation Serif", serif' font-weight="bold" font-size="37.71" fill="#000"><tspan>Ti−O−Ti</tspan></text><text transform="translate(1132.14,76.70) scale(0.8108,1)" x="0" y="0" font-family='"Liberation Serif", serif' font-weight="bold" font-size="38.47" fill="#000"><tspan>530.0&#160;eV</tspan></text><text transform="translate(1286.83,76.70) scale(0.8110,1)" x="0" y="0" font-family='"Liberation Serif", serif' font-weight="bold" font-size="38.78" fill="#000"><tspan>O&#160;1S</tspan></text><text transform="translate(772.60,203.80) scale(0.8669,1)" x="0" y="0" font-family='"Liberation Serif", serif' font-weight="bold" font-size="31.30" fill="#000"><tspan>Au/D-TiO</tspan><tspan font-size="28.17" dy="5.63">2</tspan><tspan dy="-5.63">&#160;(150&#160;°C&#160;)</tspan></text><text transform="translate(1142.72,215.10) scale(0.8465,1)" x="0" y="0" font-family='"Liberation Serif", serif' font-weight="bold" font-size="37.25" fill="#000"><tspan>oxygen&#160;vacancy</tspan></text><text transform="translate(1219.31,255.30) scale(0.8665,1)" x="0" y="0" font-family='"Liberation Serif", serif' font-weight="bold" font-size="36.64" fill="#000"><tspan>531.5&#160;eV</tspan></text><text transform="translate(783.60,537.90) scale(0.8095,1)" x="0" y="0" font-family='"Liberation Serif", serif' font-weight="bold" font-size="33.59" fill="#000"><tspan>Au/TiO</tspan><tspan font-size="32.58" dy="5.61">2</tspan></text><text transform="translate(883.58,713.40) scale(0.8607,1)" x="0" y="0" font-family='"Liberation Serif", serif' font-weight="bold" font-size="47.18" fill="#000"><tspan>Binding&#160;Energy&#160;(eV)</tspan></text><text transform="translate(727.30,446.89) rotate(-90) scale(1.0791,1)" x="0" y="0" font-family='"Liberation Serif", serif' font-weight="bold" font-size="44.12" fill="#000"><tspan>Intensity&#160;(a.u.)</tspan></text><text transform="translate(580.80,775.90) scale(0.8351,1)" x="0" y="0" font-family='"Liberation Serif", serif' font-weight="bold" font-size="38.32" fill="#000"><tspan>Ti&#160;2p</tspan></text><text transform="translate(320.70,834.60) scale(0.8527,1)" x="0" y="0" font-family='"Liberation Serif", serif' font-weight="bold" font-size="37.71" fill="#000"><tspan>Ti&#160;&#160;2P</tspan><tspan font-size="21.12" dy="7.54">3/2</tspan></text><text transform="translate(508.70,877.20) scale(0.8589,1)" x="0" y="0" font-family='"Liberation Serif", serif' font-weight="bold" font-size="37.40" fill="#000"><tspan>Ti&#160;&#160;2P</tspan><tspan font-size="20.95" dy="7.48">1/2</tspan></text><text transform="translate(84.40,887.70) scale(0.8372,1)" x="0" y="0" font-family='"Liberation Serif", serif' font-weight="bold" font-size="32.37" fill="#000"><tspan>Au/D-TiO</tspan><tspan font-size="30.75" dy="6.47">2</tspan><tspan dy="-6.47">&#160;</tspan><tspan font-size="17.80" dy="0.65">(</tspan><tspan dy="-0.65">200&#160;°C&#160;&#160;</tspan><tspan font-size="28.48" dy="-6.15" font-weight="normal">)</tspan></text><text transform="translate(81.60,997.50) scale(0.8972,1)" x="0" y="0" font-family='"Liberation Serif", serif' font-weight="bold" font-size="30.08" fill="#000"><tspan>Au/D-TiO</tspan><tspan font-size="28.57" dy="6.02">2</tspan><tspan dy="-6.02">&#160;</tspan><tspan font-size="16.54" dy="0.60">(</tspan><tspan dy="-0.60">150&#160;°C&#160;&#160;</tspan><tspan font-size="26.47" dy="-5.71" font-weight="normal">)</tspan></text><text transform="translate(81.60,1108.70) scale(0.8580,1)" x="0" y="0" font-family='"Liberation Serif", serif' font-weight="bold" font-size="31.45" fill="#000"><tspan>Au/D-TiO</tspan><tspan font-size="29.88" dy="6.29">2</tspan><tspan dy="-6.29">&#160;</tspan><tspan font-size="17.30" dy="0.63">(</tspan><tspan dy="-0.63">100&#160;°C&#160;&#160;</tspan><tspan font-size="27.68" dy="-5.98" font-weight="normal">)</tspan></text><text transform="translate(133.02,1225.80) scale(0.8637,1)" x="0" y="0" font-family='"Liberation Serif", serif' font-weight="bold" font-size="31.60" fill="#000"><tspan>TiO</tspan><tspan font-size="31.29" dy="8.09">2</tspan></text><text transform="translate(192.49,1396.40) scale(0.8972,1)" x="0" y="0" font-family='"Liberation Serif", serif' font-weight="bold" font-size="45.04" fill="#000"><tspan>Binding&#160;Energy&#160;(eV)</tspan></text><text transform="translate(39.80,1145.79) rotate(-90) scale(1.1621,1)" x="0" y="0" font-family='"Liberation Serif", serif' font-weight="bold" font-size="41.07" fill="#000"><tspan>Intensity&#160;(a.u.)</tspan></text><text transform="translate(960.40,774.80) scale(0.8598,1)" x="0" y="0" font-family='"Liberation Serif", serif' font-weight="bold" font-size="32.37" fill="#000"><tspan>Au&#160;&#160;4f</tspan><tspan font-size="20.07" dy="8.74">&#160;7/2</tspan></text><text transform="translate(1278.80,774.60) scale(0.9121,1)" x="0" y="0" font-family='"Liberation Serif", serif' font-weight="bold" font-size="35.27" fill="#000"><tspan>Au&#160;4f</tspan></text><text transform="translate(1188.00,807.70) scale(0.9124,1)" x="0" y="0" font-family='"Liberation Serif", serif' font-weight="bold" font-size="30.69" fill="#000"><tspan>Au&#160;&#160;4f</tspan><tspan font-size="19.03" dy="9.21">&#160;5/2</tspan></text><text transform="translate(1087.30,1224.00) scale(0.9078,1)" x="0" y="0" font-family='"Liberation Serif", serif' font-weight="bold" font-size="30.08" fill="#000"><tspan>Au/D-TiO</tspan><tspan font-size="27.07" dy="5.41">2</tspan><tspan dy="-5.41">&#160;(150&#160;°C&#160;)</tspan></text><text transform="translate(885.28,1396.40) scale(0.8863,1)" x="0" y="0" font-family='"Liberation Serif", serif' font-weight="bold" font-size="45.95" fill="#000"><tspan>Binding&#160;Energy&#160;(eV)</tspan></text><text transform="translate(726.30,1143.47) rotate(-90) scale(1.1439,1)" x="0" y="0" font-family='"Liberation Serif", serif' font-weight="bold" font-size="41.07" fill="#000"><tspan>Intensity&#160;(a.u.)</tspan></text><text transform="translate(72.20,648.20) scale(0.8492,1)" x="0" y="0" text-anchor="middle" font-family='"Liberation Serif", serif' font-weight="bold" font-size="41.07">526</text><text transform="translate(220.16,648.20) scale(0.8492,1)" x="0" y="0" text-anchor="middle" font-family='"Liberation Serif", serif' font-weight="bold" font-size="41.07">528</text><text transform="translate(368.12,648.20) scale(0.8492,1)" x="0" y="0" text-anchor="middle" font-family='"Liberation Serif", serif' font-weight="bold" font-size="41.07">530</text><text transform="translate(516.08,648.20) scale(0.8492,1)" x="0" y="0" text-anchor="middle" font-family='"Liberation Serif", serif' font-weight="bold" font-size="41.07">532</text><text transform="translate(664.04,648.20) scale(0.8492,1)" x="0" y="0" text-anchor="middle" font-family='"Liberation Serif", serif' font-weight="bold" font-size="41.07">534</text><text transform="translate(766.00,643.40) scale(0.8436,1)" x="0" y="0" text-anchor="middle" font-family='"Liberation Serif", serif' font-weight="bold" font-size="40.76">526</text><text transform="translate(914.38,643.40) scale(0.8436,1)" x="0" y="0" text-anchor="middle" font-family='"Liberation Serif", serif' font-weight="bold" font-size="40.76">528</text><text transform="translate(1062.76,643.40) scale(0.8436,1)" x="0" y="0" text-anchor="middle" font-family='"Liberation Serif", serif' font-weight="bold" font-size="40.76">530</text><text transform="translate(1211.14,643.40) scale(0.8436,1)" x="0" y="0" text-anchor="middle" font-family='"Liberation Serif", serif' font-weight="bold" font-size="40.76">532</text><text transform="translate(1359.52,643.40) scale(0.8436,1)" x="0" y="0" text-anchor="middle" font-family='"Liberation Serif", serif' font-weight="bold" font-size="40.76">534</text><text transform="translate(140.62,1336.20) scale(0.8566,1)" x="0" y="0" text-anchor="middle" font-family='"Liberation Serif", serif' font-weight="bold" font-size="40.31">452</text><text transform="translate(272.46,1336.20) scale(0.8566,1)" x="0" y="0" text-anchor="middle" font-family='"Liberation Serif", serif' font-weight="bold" font-size="40.31">456</text><text transform="translate(404.30,1336.20) scale(0.8566,1)" x="0" y="0" text-anchor="middle" font-family='"Liberation Serif", serif' font-weight="bold" font-size="40.31">460</text><text transform="translate(536.14,1336.20) scale(0.8566,1)" x="0" y="0" text-anchor="middle" font-family='"Liberation Serif", serif' font-weight="bold" font-size="40.31">464</text><text transform="translate(667.98,1336.20) scale(0.8566,1)" x="0" y="0" text-anchor="middle" font-family='"Liberation Serif", serif' font-weight="bold" font-size="40.31">468</text><text transform="translate(766.40,1333.20) scale(0.8865,1)" x="0" y="0" text-anchor="middle" font-family='"Liberation Serif", serif' font-weight="bold" font-size="39.54">80</text><text transform="translate(899.10,1333.20) scale(0.8865,1)" x="0" y="0" text-anchor="middle" font-family='"Liberation Serif", serif' font-weight="bold" font-size="39.54">82</text><text transform="translate(1031.80,1333.20) scale(0.8865,1)" x="0" y="0" text-anchor="middle" font-family='"Liberation Serif", serif' font-weight="bold" font-size="39.54">84</text><text transform="translate(1164.50,1333.20) scale(0.8865,1)" x="0" y="0" text-anchor="middle" font-family='"Liberation Serif", serif' font-weight="bold" font-size="39.54">86</text><text transform="translate(1297.20,1333.20) scale(0.8865,1)" x="0" y="0" text-anchor="middle" font-family='"Liberation Serif", serif' font-weight="bold" font-size="39.54">88</text></svg></body></html>
